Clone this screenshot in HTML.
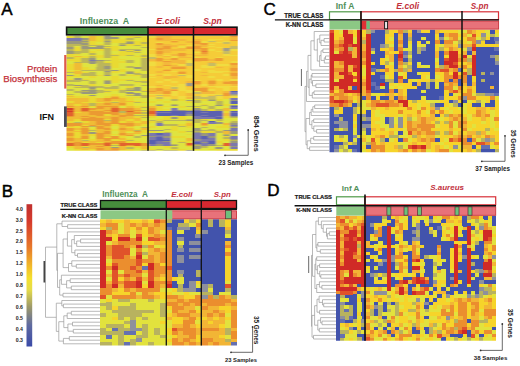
<!DOCTYPE html>
<html><head><meta charset="utf-8"><style>
html,body{margin:0;padding:0;background:#fff;width:520px;height:366px;overflow:hidden}
svg{display:block;font-family:"Liberation Sans",sans-serif}
</style></head><body>
<svg width="520" height="366" viewBox="0 0 520 366">
<defs>
<filter id="bl" x="-2%" y="-2%" width="104%" height="104%"><feGaussianBlur stdDeviation="0.75"/></filter>
<filter id="blA" x="-2%" y="-2%" width="104%" height="104%"><feGaussianBlur stdDeviation="1.1 0.45"/></filter>
<linearGradient id="cb" x1="0" y1="0" x2="0" y2="1">
<stop offset="0" stop-color="#c0302f"/><stop offset="0.12" stop-color="#d63a2c"/><stop offset="0.3" stop-color="#e7772a"/>
<stop offset="0.45" stop-color="#f2c12a"/><stop offset="0.52" stop-color="#f4e02e"/><stop offset="0.6" stop-color="#e5dc4a"/>
<stop offset="0.72" stop-color="#9e9a6a"/><stop offset="0.85" stop-color="#5f6aa0"/><stop offset="1" stop-color="#3a4aa8"/>
</linearGradient>
</defs>
<text x="1.2" y="14.8" font-size="17" fill="#000" stroke="#000" stroke-width="0.45">A</text>
<text x="104.5" y="23.8" font-size="8.9" font-weight="bold" font-style="normal" fill="#50905a" text-anchor="middle" >Influenza&#160; A</text>
<text x="168.2" y="23.9" font-size="8.9" font-weight="bold" font-style="italic" fill="#c2303c" text-anchor="middle" >E.coli</text>
<text x="212.5" y="23.9" font-size="8.6" font-weight="bold" font-style="italic" fill="#c2303c" text-anchor="middle" >S.pn</text>
<clipPath id="cA"><rect x="66.5" y="35.8" width="171.2" height="115"/></clipPath><g clip-path="url(#cA)" filter="url(#blA)" shape-rendering="crispEdges"><path fill="#e9da30" d="M64.0 33.3h10.1v4.0h-10.1zM96.3 33.3h7.6v4.0h-7.6zM126.0 33.3h15.1v4.0h-15.1zM64.0 37.0h10.1v1.5h-10.1zM96.3 37.0h7.6v1.5h-7.6zM126.0 37.0h7.6v1.5h-7.6zM140.9 37.0h7.6v1.5h-7.6zM96.3 38.3h7.6v1.5h-7.6zM111.2 38.3h15.1v1.5h-15.1zM140.9 38.3h7.6v1.5h-7.6zM96.3 39.5h7.6v1.5h-7.6zM111.2 39.5h22.5v1.5h-22.5zM140.9 39.5h7.6v1.5h-7.6zM88.8 40.8h15.1v1.5h-15.1zM111.2 40.8h15.1v1.5h-15.1zM133.5 40.8h15.1v1.5h-15.1zM88.8 42.0h7.6v1.5h-7.6zM111.2 42.0h15.1v1.5h-15.1zM133.5 42.0h7.6v1.5h-7.6zM88.8 43.3h15.1v1.5h-15.1zM126.0 43.3h22.5v1.5h-22.5zM126.0 44.5h7.6v1.5h-7.6zM140.9 44.5h7.6v1.5h-7.6zM111.2 45.8h7.6v1.5h-7.6zM73.9 47.0h7.6v1.5h-7.6zM103.7 47.0h15.1v1.5h-15.1zM73.9 48.3h7.6v1.5h-7.6zM88.8 48.3h15.1v1.5h-15.1zM111.2 48.3h7.6v1.5h-7.6zM73.9 49.5h7.6v1.5h-7.6zM96.3 49.5h7.6v1.5h-7.6zM111.2 49.5h7.6v1.5h-7.6zM126.0 49.5h7.6v1.5h-7.6zM88.8 50.8h7.6v1.5h-7.6zM118.6 50.8h7.6v1.5h-7.6zM133.5 50.8h7.6v1.5h-7.6zM88.8 52.0h7.6v1.5h-7.6zM118.6 52.0h15.1v1.5h-15.1zM64.0 53.3h17.6v1.5h-17.6zM111.2 53.3h22.5v1.5h-22.5zM140.9 53.3h7.6v1.5h-7.6zM64.0 54.5h10.1v1.5h-10.1zM88.8 54.5h15.1v1.5h-15.1zM118.6 54.5h7.6v1.5h-7.6zM64.0 55.8h10.1v1.5h-10.1zM81.4 55.8h7.6v1.5h-7.6zM96.3 55.8h7.6v1.5h-7.6zM111.2 55.8h7.6v1.5h-7.6zM133.5 55.8h7.6v1.5h-7.6zM73.9 57.0h15.1v1.5h-15.1zM96.3 57.0h7.6v1.5h-7.6zM111.2 57.0h7.6v1.5h-7.6zM140.9 57.0h7.6v1.5h-7.6zM64.0 58.3h17.6v1.5h-17.6zM111.2 58.3h15.1v1.5h-15.1zM64.0 59.5h17.6v1.5h-17.6zM111.2 59.5h7.6v1.5h-7.6zM73.9 60.8h7.6v1.5h-7.6zM111.2 60.8h15.1v1.5h-15.1zM103.7 62.0h22.5v1.5h-22.5zM64.0 63.3h10.1v1.5h-10.1zM111.2 63.3h7.6v1.5h-7.6zM64.0 64.5h10.1v1.5h-10.1zM111.2 64.5h7.6v1.5h-7.6zM64.0 65.8h10.1v1.5h-10.1zM111.2 65.8h7.6v1.5h-7.6zM64.0 67.1h10.1v1.5h-10.1zM81.4 67.1h7.6v1.5h-7.6zM111.2 67.1h7.6v1.5h-7.6zM64.0 68.3h10.1v1.5h-10.1zM81.4 68.3h15.1v1.5h-15.1zM118.6 68.3h7.6v1.5h-7.6zM73.9 69.6h7.6v1.5h-7.6zM118.6 69.6h7.6v1.5h-7.6zM64.0 70.8h10.1v1.5h-10.1zM111.2 70.8h15.1v1.5h-15.1zM81.4 72.1h7.6v1.5h-7.6zM111.2 72.1h7.6v1.5h-7.6zM133.5 72.1h7.6v1.5h-7.6zM73.9 73.3h7.6v1.5h-7.6zM73.9 74.6h7.6v1.5h-7.6zM96.3 74.6h7.6v1.5h-7.6zM126.0 74.6h15.1v1.5h-15.1zM64.0 75.8h17.6v1.5h-17.6zM88.8 75.8h7.6v1.5h-7.6zM111.2 75.8h7.6v1.5h-7.6zM88.8 77.1h7.6v1.5h-7.6zM111.2 77.1h7.6v1.5h-7.6zM64.0 78.3h10.1v1.5h-10.1zM81.4 78.3h7.6v1.5h-7.6zM111.2 78.3h22.5v1.5h-22.5zM111.2 79.6h15.1v1.5h-15.1zM140.9 79.6h7.6v1.5h-7.6zM111.2 80.8h7.6v1.5h-7.6zM111.2 82.1h7.6v1.5h-7.6zM133.5 82.1h7.6v1.5h-7.6zM88.8 83.3h7.6v1.5h-7.6zM88.8 84.6h7.6v1.5h-7.6zM103.7 84.6h7.6v1.5h-7.6zM73.9 85.8h7.6v1.5h-7.6zM126.0 85.8h7.6v1.5h-7.6zM126.0 87.1h7.6v1.5h-7.6zM103.7 88.3h22.5v1.5h-22.5zM103.7 89.6h15.1v1.5h-15.1zM140.9 89.6h7.6v1.5h-7.6zM103.7 92.1h7.6v1.5h-7.6zM111.2 93.3h7.6v1.5h-7.6zM126.0 93.3h7.6v1.5h-7.6zM64.0 94.6h10.1v1.5h-10.1zM111.2 94.6h7.6v1.5h-7.6zM73.9 95.8h22.5v1.5h-22.5zM103.7 95.8h7.6v1.5h-7.6zM118.6 95.8h7.6v1.5h-7.6zM64.0 97.1h32.5v1.5h-32.5zM103.7 97.1h7.6v1.5h-7.6zM118.6 97.1h22.5v1.5h-22.5zM88.8 98.3h7.6v1.5h-7.6zM126.0 98.3h7.6v1.5h-7.6zM155.8 98.3h7.6v1.5h-7.6zM178.2 98.3h7.6v1.5h-7.6zM193.0 98.3h15.1v1.5h-15.1zM215.4 98.3h7.6v1.5h-7.6zM88.8 99.6h7.6v1.5h-7.6zM126.0 99.6h7.6v1.5h-7.6zM155.8 99.6h7.6v1.5h-7.6zM178.2 99.6h7.6v1.5h-7.6zM200.5 99.6h7.6v1.5h-7.6zM215.4 99.6h7.6v1.5h-7.6zM64.0 100.8h10.1v1.5h-10.1zM88.8 100.8h7.6v1.5h-7.6zM111.2 100.8h7.6v1.5h-7.6zM133.5 100.8h7.6v1.5h-7.6zM148.4 100.8h7.6v1.5h-7.6zM163.3 100.8h7.6v1.5h-7.6zM185.6 100.8h7.6v1.5h-7.6zM64.0 102.1h10.1v1.5h-10.1zM81.4 102.1h22.5v1.5h-22.5zM126.0 102.1h7.6v1.5h-7.6zM140.9 102.1h7.6v1.5h-7.6zM148.4 102.1h7.6v1.5h-7.6zM163.3 102.1h7.6v1.5h-7.6zM185.6 102.1h7.6v1.5h-7.6zM73.9 103.3h7.6v1.5h-7.6zM126.0 103.3h7.6v1.5h-7.6zM200.5 103.3h7.6v1.5h-7.6zM222.8 103.3h7.6v1.5h-7.6zM73.9 104.6h7.6v1.5h-7.6zM126.0 104.6h7.6v1.5h-7.6zM222.8 104.6h7.6v1.5h-7.6zM88.8 105.8h7.6v1.5h-7.6zM133.5 105.8h15.1v1.5h-15.1zM155.8 105.8h15.1v1.5h-15.1zM178.2 105.8h7.6v1.5h-7.6zM133.5 107.1h7.6v1.5h-7.6zM155.8 107.1h7.6v1.5h-7.6zM178.2 107.1h7.6v1.5h-7.6zM193.0 107.1h7.6v1.5h-7.6zM155.8 108.3h15.1v1.5h-15.1zM185.6 108.3h7.6v1.5h-7.6zM207.9 108.3h7.6v1.5h-7.6zM155.8 109.6h7.6v1.5h-7.6zM207.9 109.6h7.6v1.5h-7.6zM140.9 110.8h7.6v1.5h-7.6zM222.8 110.8h7.6v1.5h-7.6zM73.9 112.1h7.6v1.5h-7.6zM222.8 112.1h7.6v1.5h-7.6zM103.7 113.3h7.6v1.5h-7.6zM140.9 113.3h7.6v1.5h-7.6zM103.7 114.6h7.6v1.5h-7.6zM133.5 115.8h15.1v1.5h-15.1zM148.4 115.8h7.6v1.5h-7.6zM163.3 115.8h7.6v1.5h-7.6zM178.2 115.8h7.6v1.5h-7.6zM222.8 115.8h7.6v1.5h-7.6zM133.5 117.1h7.6v1.5h-7.6zM148.4 117.1h7.6v1.5h-7.6zM163.3 117.1h7.6v1.5h-7.6zM178.2 117.1h7.6v1.5h-7.6zM222.8 117.1h7.6v1.5h-7.6zM73.9 118.3h7.6v1.5h-7.6zM103.7 118.3h7.6v1.5h-7.6zM126.0 118.3h7.6v1.5h-7.6zM155.8 118.3h15.1v1.5h-15.1zM178.2 118.3h7.6v1.5h-7.6zM200.5 118.3h7.6v1.5h-7.6zM73.9 119.6h7.6v1.5h-7.6zM126.0 119.6h7.6v1.5h-7.6zM155.8 119.6h7.6v1.5h-7.6zM64.0 120.8h10.1v1.5h-10.1zM81.4 120.8h7.6v1.5h-7.6zM118.6 120.8h7.6v1.5h-7.6zM133.5 120.8h7.6v1.5h-7.6zM148.4 120.8h7.6v1.5h-7.6zM185.6 120.8h7.6v1.5h-7.6zM64.0 122.1h10.1v1.5h-10.1zM81.4 122.1h7.6v1.5h-7.6zM118.6 122.1h7.6v1.5h-7.6zM133.5 122.1h7.6v1.5h-7.6zM148.4 122.1h7.6v1.5h-7.6zM185.6 122.1h7.6v1.5h-7.6zM111.2 123.3h7.6v1.5h-7.6zM140.9 123.3h7.6v1.5h-7.6zM178.2 123.3h7.6v1.5h-7.6zM81.4 124.6h7.6v1.5h-7.6zM111.2 124.6h7.6v1.5h-7.6zM140.9 124.6h7.6v1.5h-7.6zM178.2 124.6h7.6v1.5h-7.6zM222.8 124.6h7.6v1.5h-7.6zM73.9 125.8h7.6v1.5h-7.6zM148.4 125.8h7.6v1.5h-7.6zM170.7 125.8h7.6v1.5h-7.6zM185.6 125.8h7.6v1.5h-7.6zM215.4 125.8h15.1v1.5h-15.1zM64.0 127.1h17.6v1.5h-17.6zM126.0 127.1h7.6v1.5h-7.6zM148.4 127.1h7.6v1.5h-7.6zM170.7 127.1h7.6v1.5h-7.6zM185.6 127.1h7.6v1.5h-7.6zM215.4 127.1h15.1v1.5h-15.1zM88.8 128.3h7.6v1.5h-7.6zM111.2 128.3h7.6v1.5h-7.6zM133.5 128.3h7.6v1.5h-7.6zM170.7 128.3h7.6v1.5h-7.6zM73.9 129.6h7.6v1.5h-7.6zM111.2 129.6h7.6v1.5h-7.6zM140.9 129.6h7.6v1.5h-7.6zM170.7 129.6h7.6v1.5h-7.6zM215.4 129.6h7.6v1.5h-7.6zM126.0 130.8h7.6v1.5h-7.6zM140.9 130.8h7.6v1.5h-7.6zM148.4 130.8h7.6v1.5h-7.6zM178.2 130.8h7.6v1.5h-7.6zM200.5 130.8h15.1v1.5h-15.1zM73.9 132.1h7.6v1.5h-7.6zM140.9 132.1h7.6v1.5h-7.6zM178.2 132.1h7.6v1.5h-7.6zM200.5 132.1h15.1v1.5h-15.1zM73.9 133.3h7.6v1.5h-7.6zM88.8 133.3h7.6v1.5h-7.6zM111.2 133.3h7.6v1.5h-7.6zM185.6 133.3h7.6v1.5h-7.6zM73.9 134.6h7.6v1.5h-7.6zM88.8 134.6h7.6v1.5h-7.6zM73.9 135.8h7.6v1.5h-7.6zM118.6 135.8h7.6v1.5h-7.6zM140.9 135.8h7.6v1.5h-7.6zM170.7 135.8h15.1v1.5h-15.1zM222.8 135.8h7.6v1.5h-7.6zM73.9 137.1h7.6v1.5h-7.6zM103.7 137.1h7.6v1.5h-7.6zM118.6 137.1h7.6v1.5h-7.6zM170.7 137.1h15.1v1.5h-15.1zM81.4 138.3h15.1v1.5h-15.1zM111.2 138.3h7.6v1.5h-7.6zM126.0 138.3h7.6v1.5h-7.6zM222.8 138.3h7.6v1.5h-7.6zM88.8 139.6h7.6v1.5h-7.6zM111.2 139.6h15.1v1.5h-15.1zM222.8 139.6h7.6v1.5h-7.6zM126.0 140.8h15.1v1.5h-15.1zM178.2 140.8h15.1v1.5h-15.1zM215.4 140.8h7.6v1.5h-7.6zM81.4 142.1h7.6v1.5h-7.6zM96.3 142.1h7.6v1.5h-7.6zM126.0 142.1h15.1v1.5h-15.1zM185.6 142.1h7.6v1.5h-7.6zM215.4 142.1h7.6v1.5h-7.6zM111.2 143.3h7.6v1.5h-7.6zM64.0 145.8h10.1v1.5h-10.1zM81.4 145.8h7.6v1.5h-7.6zM126.0 145.8h15.1v1.5h-15.1zM163.3 145.8h7.6v1.5h-7.6zM185.6 145.8h7.6v1.5h-7.6zM64.0 147.1h10.1v1.5h-10.1zM133.5 147.1h7.6v1.5h-7.6zM163.3 147.1h7.6v1.5h-7.6zM73.9 148.3h7.6v1.5h-7.6zM88.8 148.3h7.6v1.5h-7.6zM126.0 148.3h7.6v1.5h-7.6zM140.9 148.3h7.6v1.5h-7.6zM148.4 148.3h7.6v1.5h-7.6zM170.7 148.3h15.1v1.5h-15.1zM193.0 148.3h7.6v1.5h-7.6zM207.9 148.3h32.5v1.5h-32.5zM73.9 149.6h22.5v4.0h-22.5zM118.6 149.6h15.1v4.0h-15.1zM178.2 149.6h7.6v4.0h-7.6zM215.4 149.6h25.0v4.0h-25.0z"/><path fill="#bcb65a" d="M73.9 33.3h7.6v4.0h-7.6zM73.9 37.0h7.6v1.5h-7.6zM133.5 37.0h7.6v1.5h-7.6zM103.7 38.3h7.6v1.5h-7.6zM126.0 38.3h7.6v1.5h-7.6zM81.4 39.5h7.6v1.5h-7.6zM103.7 39.5h7.6v1.5h-7.6zM126.0 40.8h7.6v1.5h-7.6zM81.4 42.0h7.6v1.5h-7.6zM103.7 42.0h7.6v1.5h-7.6zM140.9 42.0h7.6v1.5h-7.6zM64.0 43.3h17.6v1.5h-17.6zM103.7 43.3h7.6v1.5h-7.6zM118.6 43.3h7.6v1.5h-7.6zM64.0 44.5h39.9v1.5h-39.9zM133.5 44.5h7.6v1.5h-7.6zM64.0 45.8h10.1v1.5h-10.1zM103.7 45.8h7.6v1.5h-7.6zM140.9 47.0h7.6v1.5h-7.6zM64.0 48.3h10.1v1.5h-10.1zM81.4 48.3h7.6v1.5h-7.6zM103.7 48.3h7.6v1.5h-7.6zM118.6 48.3h22.5v1.5h-22.5zM64.0 49.5h10.1v1.5h-10.1zM81.4 49.5h7.6v1.5h-7.6zM103.7 49.5h7.6v1.5h-7.6zM73.9 50.8h15.1v1.5h-15.1zM103.7 50.8h7.6v1.5h-7.6zM126.0 50.8h7.6v1.5h-7.6zM73.9 52.0h15.1v1.5h-15.1zM103.7 52.0h7.6v1.5h-7.6zM133.5 52.0h7.6v1.5h-7.6zM88.8 53.3h7.6v1.5h-7.6zM103.7 53.3h7.6v1.5h-7.6zM103.7 54.5h15.1v1.5h-15.1zM126.0 54.5h7.6v1.5h-7.6zM140.9 54.5h7.6v1.5h-7.6zM88.8 55.8h7.6v1.5h-7.6zM103.7 55.8h7.6v1.5h-7.6zM140.9 55.8h7.6v1.5h-7.6zM64.0 57.0h10.1v1.5h-10.1zM88.8 57.0h7.6v1.5h-7.6zM103.7 57.0h7.6v1.5h-7.6zM81.4 58.3h7.6v1.5h-7.6zM140.9 58.3h7.6v1.5h-7.6zM81.4 59.5h7.6v1.5h-7.6zM103.7 59.5h7.6v1.5h-7.6zM126.0 59.5h7.6v1.5h-7.6zM140.9 59.5h7.6v1.5h-7.6zM81.4 60.8h7.6v1.5h-7.6zM96.3 60.8h7.6v1.5h-7.6zM126.0 60.8h7.6v1.5h-7.6zM140.9 60.8h7.6v1.5h-7.6zM73.9 62.0h15.1v1.5h-15.1zM96.3 62.0h7.6v1.5h-7.6zM126.0 62.0h7.6v1.5h-7.6zM140.9 62.0h7.6v1.5h-7.6zM96.3 63.3h15.1v1.5h-15.1zM140.9 63.3h7.6v1.5h-7.6zM96.3 64.5h15.1v1.5h-15.1zM140.9 64.5h7.6v1.5h-7.6zM96.3 65.8h7.6v1.5h-7.6zM126.0 65.8h7.6v1.5h-7.6zM140.9 65.8h7.6v1.5h-7.6zM96.3 67.1h7.6v1.5h-7.6zM126.0 67.1h7.6v1.5h-7.6zM140.9 67.1h7.6v1.5h-7.6zM96.3 68.3h15.1v1.5h-15.1zM140.9 68.3h7.6v1.5h-7.6zM81.4 69.6h30.0v1.5h-30.0zM140.9 69.6h7.6v1.5h-7.6zM126.0 70.8h7.6v1.5h-7.6zM64.0 72.1h10.1v1.5h-10.1zM88.8 72.1h7.6v1.5h-7.6zM103.7 72.1h7.6v1.5h-7.6zM81.4 73.3h15.1v1.5h-15.1zM103.7 73.3h7.6v1.5h-7.6zM118.6 73.3h7.6v1.5h-7.6zM133.5 73.3h15.1v1.5h-15.1zM81.4 74.6h15.1v1.5h-15.1zM118.6 74.6h7.6v1.5h-7.6zM140.9 74.6h7.6v1.5h-7.6zM140.9 75.8h7.6v1.5h-7.6zM140.9 77.1h7.6v1.5h-7.6zM64.0 79.6h25.0v1.5h-25.0zM103.7 79.6h7.6v1.5h-7.6zM126.0 79.6h7.6v1.5h-7.6zM64.0 80.8h17.6v1.5h-17.6zM88.8 80.8h7.6v1.5h-7.6zM133.5 80.8h15.1v1.5h-15.1zM88.8 82.1h7.6v1.5h-7.6zM140.9 82.1h7.6v1.5h-7.6zM64.0 83.3h10.1v1.5h-10.1zM118.6 83.3h15.1v1.5h-15.1zM64.0 84.6h10.1v1.5h-10.1zM81.4 84.6h7.6v1.5h-7.6zM118.6 84.6h15.1v1.5h-15.1zM140.9 84.6h7.6v1.5h-7.6zM81.4 85.8h22.5v1.5h-22.5zM111.2 85.8h7.6v1.5h-7.6zM73.9 87.1h15.1v1.5h-15.1zM96.3 87.1h22.5v1.5h-22.5zM64.0 88.3h10.1v1.5h-10.1zM88.8 88.3h7.6v1.5h-7.6zM126.0 88.3h7.6v1.5h-7.6zM64.0 89.6h10.1v1.5h-10.1zM96.3 89.6h7.6v1.5h-7.6zM118.6 89.6h7.6v1.5h-7.6zM73.9 90.8h15.1v1.5h-15.1zM96.3 90.8h15.1v1.5h-15.1zM118.6 90.8h7.6v1.5h-7.6zM140.9 90.8h7.6v1.5h-7.6zM73.9 92.1h7.6v1.5h-7.6zM96.3 92.1h7.6v1.5h-7.6zM118.6 92.1h7.6v1.5h-7.6zM64.0 93.3h10.1v1.5h-10.1zM126.0 94.6h7.6v1.5h-7.6zM140.9 94.6h7.6v1.5h-7.6zM140.9 95.8h7.6v1.5h-7.6zM140.9 97.1h7.6v1.5h-7.6zM170.7 98.3h7.6v1.5h-7.6zM207.9 98.3h7.6v1.5h-7.6zM170.7 99.6h7.6v1.5h-7.6zM193.0 99.6h7.6v1.5h-7.6zM193.0 100.8h7.6v1.5h-7.6zM215.4 100.8h7.6v1.5h-7.6zM111.2 102.1h7.6v1.5h-7.6zM133.5 102.1h7.6v1.5h-7.6zM193.0 102.1h7.6v1.5h-7.6zM215.4 102.1h7.6v1.5h-7.6zM88.8 103.3h7.6v1.5h-7.6zM155.8 103.3h7.6v1.5h-7.6zM170.7 103.3h7.6v1.5h-7.6zM215.4 103.3h7.6v1.5h-7.6zM88.8 104.6h7.6v1.5h-7.6zM200.5 104.6h7.6v1.5h-7.6zM185.6 105.8h15.1v1.5h-15.1zM207.9 105.8h7.6v1.5h-7.6zM140.9 107.1h7.6v1.5h-7.6zM207.9 107.1h7.6v1.5h-7.6zM200.5 108.3h7.6v1.5h-7.6zM215.4 108.3h7.6v1.5h-7.6zM140.9 109.6h7.6v1.5h-7.6zM185.6 109.6h7.6v1.5h-7.6zM200.5 109.6h7.6v1.5h-7.6zM215.4 109.6h7.6v1.5h-7.6zM118.6 110.8h7.6v1.5h-7.6zM118.6 112.1h7.6v1.5h-7.6zM140.9 112.1h7.6v1.5h-7.6zM133.5 114.6h15.1v1.5h-15.1zM140.9 117.1h7.6v1.5h-7.6zM230.3 117.1h10.1v1.5h-10.1zM185.6 118.3h15.1v1.5h-15.1zM215.4 118.3h7.6v1.5h-7.6zM103.7 119.6h7.6v1.5h-7.6zM148.4 119.6h7.6v1.5h-7.6zM163.3 119.6h22.5v1.5h-22.5zM193.0 119.6h15.1v1.5h-15.1zM215.4 119.6h7.6v1.5h-7.6zM155.8 120.8h7.6v1.5h-7.6zM193.0 120.8h7.6v1.5h-7.6zM230.3 120.8h10.1v1.5h-10.1zM73.9 122.1h7.6v1.5h-7.6zM155.8 122.1h7.6v1.5h-7.6zM193.0 122.1h7.6v1.5h-7.6zM230.3 122.1h10.1v1.5h-10.1zM163.3 123.3h15.1v1.5h-15.1zM163.3 124.6h15.1v1.5h-15.1zM88.8 125.8h7.6v1.5h-7.6zM178.2 125.8h7.6v1.5h-7.6zM140.9 127.1h7.6v1.5h-7.6zM200.5 127.1h7.6v1.5h-7.6zM230.3 127.1h10.1v1.5h-10.1zM163.3 128.3h7.6v1.5h-7.6zM207.9 128.3h7.6v1.5h-7.6zM88.8 129.6h7.6v1.5h-7.6zM133.5 129.6h7.6v1.5h-7.6zM200.5 129.6h15.1v1.5h-15.1zM185.6 130.8h15.1v1.5h-15.1zM215.4 130.8h7.6v1.5h-7.6zM163.3 132.1h7.6v1.5h-7.6zM215.4 132.1h7.6v1.5h-7.6zM222.8 133.3h7.6v1.5h-7.6zM133.5 135.8h7.6v1.5h-7.6zM133.5 137.1h7.6v1.5h-7.6zM222.8 137.1h7.6v1.5h-7.6zM81.4 139.6h7.6v1.5h-7.6zM126.0 139.6h7.6v1.5h-7.6zM230.3 139.6h10.1v1.5h-10.1zM178.2 142.1h7.6v1.5h-7.6zM170.7 143.3h7.6v1.5h-7.6zM111.2 144.6h7.6v1.5h-7.6zM193.0 144.6h7.6v1.5h-7.6zM215.4 144.6h7.6v1.5h-7.6zM200.5 145.8h7.6v1.5h-7.6zM81.4 147.1h7.6v1.5h-7.6zM126.0 147.1h7.6v1.5h-7.6zM170.7 147.1h7.6v1.5h-7.6zM200.5 147.1h7.6v1.5h-7.6zM155.8 148.3h7.6v1.5h-7.6zM140.9 149.6h7.6v4.0h-7.6zM148.4 149.6h7.6v4.0h-7.6zM163.3 149.6h15.1v4.0h-15.1z"/><path fill="#dfe440" d="M81.4 33.3h7.6v4.0h-7.6zM111.2 33.3h15.1v4.0h-15.1zM140.9 33.3h7.6v4.0h-7.6zM81.4 37.0h7.6v1.5h-7.6zM118.6 37.0h7.6v1.5h-7.6zM133.5 38.3h7.6v1.5h-7.6zM133.5 39.5h7.6v1.5h-7.6zM96.3 42.0h7.6v1.5h-7.6zM111.2 43.3h7.6v1.5h-7.6zM103.7 44.5h15.1v1.5h-15.1zM73.9 45.8h7.6v1.5h-7.6zM88.8 45.8h7.6v1.5h-7.6zM118.6 45.8h30.0v1.5h-30.0zM118.6 47.0h22.5v1.5h-22.5zM140.9 48.3h7.6v1.5h-7.6zM88.8 49.5h7.6v1.5h-7.6zM140.9 49.5h7.6v1.5h-7.6zM96.3 50.8h7.6v1.5h-7.6zM111.2 50.8h7.6v1.5h-7.6zM140.9 50.8h7.6v1.5h-7.6zM96.3 52.0h7.6v1.5h-7.6zM111.2 52.0h7.6v1.5h-7.6zM140.9 52.0h7.6v1.5h-7.6zM81.4 53.3h7.6v1.5h-7.6zM96.3 53.3h7.6v1.5h-7.6zM133.5 53.3h7.6v1.5h-7.6zM73.9 54.5h15.1v1.5h-15.1zM133.5 54.5h7.6v1.5h-7.6zM118.6 55.8h15.1v1.5h-15.1zM118.6 57.0h22.5v1.5h-22.5zM96.3 58.3h15.1v1.5h-15.1zM126.0 58.3h15.1v1.5h-15.1zM118.6 59.5h7.6v1.5h-7.6zM133.5 59.5h7.6v1.5h-7.6zM64.0 60.8h10.1v1.5h-10.1zM103.7 60.8h7.6v1.5h-7.6zM133.5 60.8h7.6v1.5h-7.6zM64.0 62.0h10.1v1.5h-10.1zM133.5 62.0h7.6v1.5h-7.6zM81.4 63.3h15.1v1.5h-15.1zM118.6 63.3h22.5v1.5h-22.5zM81.4 64.5h15.1v1.5h-15.1zM118.6 64.5h22.5v1.5h-22.5zM81.4 65.8h15.1v1.5h-15.1zM118.6 65.8h7.6v1.5h-7.6zM133.5 65.8h7.6v1.5h-7.6zM88.8 67.1h7.6v1.5h-7.6zM118.6 67.1h7.6v1.5h-7.6zM111.2 68.3h7.6v1.5h-7.6zM126.0 68.3h15.1v1.5h-15.1zM64.0 69.6h10.1v1.5h-10.1zM126.0 69.6h15.1v1.5h-15.1zM81.4 70.8h22.5v1.5h-22.5zM133.5 70.8h15.1v1.5h-15.1zM96.3 72.1h7.6v1.5h-7.6zM118.6 72.1h7.6v1.5h-7.6zM140.9 72.1h7.6v1.5h-7.6zM64.0 73.3h10.1v1.5h-10.1zM96.3 73.3h7.6v1.5h-7.6zM111.2 73.3h7.6v1.5h-7.6zM126.0 73.3h7.6v1.5h-7.6zM111.2 74.6h7.6v1.5h-7.6zM81.4 75.8h7.6v1.5h-7.6zM96.3 75.8h15.1v1.5h-15.1zM118.6 75.8h22.5v1.5h-22.5zM64.0 77.1h25.0v1.5h-25.0zM96.3 77.1h15.1v1.5h-15.1zM118.6 77.1h22.5v1.5h-22.5zM88.8 78.3h22.5v1.5h-22.5zM133.5 78.3h15.1v1.5h-15.1zM88.8 79.6h15.1v1.5h-15.1zM133.5 79.6h7.6v1.5h-7.6zM81.4 80.8h7.6v1.5h-7.6zM96.3 80.8h7.6v1.5h-7.6zM118.6 80.8h15.1v1.5h-15.1zM64.0 82.1h25.0v1.5h-25.0zM96.3 82.1h7.6v1.5h-7.6zM118.6 82.1h15.1v1.5h-15.1zM73.9 83.3h15.1v1.5h-15.1zM96.3 83.3h22.5v1.5h-22.5zM133.5 83.3h15.1v1.5h-15.1zM96.3 84.6h7.6v1.5h-7.6zM111.2 84.6h7.6v1.5h-7.6zM133.5 84.6h7.6v1.5h-7.6zM64.0 85.8h10.1v1.5h-10.1zM103.7 85.8h7.6v1.5h-7.6zM118.6 85.8h7.6v1.5h-7.6zM133.5 85.8h15.1v1.5h-15.1zM64.0 87.1h10.1v1.5h-10.1zM118.6 87.1h7.6v1.5h-7.6zM140.9 87.1h7.6v1.5h-7.6zM73.9 88.3h15.1v1.5h-15.1zM96.3 88.3h7.6v1.5h-7.6zM140.9 88.3h7.6v1.5h-7.6zM73.9 89.6h7.6v1.5h-7.6zM64.0 90.8h10.1v1.5h-10.1zM111.2 90.8h7.6v1.5h-7.6zM126.0 90.8h15.1v1.5h-15.1zM64.0 92.1h10.1v1.5h-10.1zM111.2 92.1h7.6v1.5h-7.6zM133.5 92.1h15.1v1.5h-15.1zM73.9 93.3h37.4v1.5h-37.4zM118.6 93.3h7.6v1.5h-7.6zM140.9 93.3h7.6v1.5h-7.6zM73.9 94.6h15.1v1.5h-15.1zM96.3 94.6h15.1v1.5h-15.1zM118.6 94.6h7.6v1.5h-7.6zM96.3 95.8h7.6v1.5h-7.6zM126.0 95.8h15.1v1.5h-15.1zM96.3 97.1h7.6v1.5h-7.6zM133.5 98.3h15.1v1.5h-15.1zM148.4 98.3h7.6v1.5h-7.6zM163.3 98.3h7.6v1.5h-7.6zM185.6 98.3h7.6v1.5h-7.6zM222.8 98.3h7.6v1.5h-7.6zM133.5 99.6h15.1v1.5h-15.1zM148.4 99.6h7.6v1.5h-7.6zM163.3 99.6h7.6v1.5h-7.6zM222.8 99.6h7.6v1.5h-7.6zM140.9 100.8h7.6v1.5h-7.6zM155.8 100.8h7.6v1.5h-7.6zM170.7 100.8h15.1v1.5h-15.1zM200.5 100.8h15.1v1.5h-15.1zM222.8 100.8h7.6v1.5h-7.6zM155.8 102.1h7.6v1.5h-7.6zM170.7 102.1h15.1v1.5h-15.1zM200.5 102.1h15.1v1.5h-15.1zM222.8 102.1h7.6v1.5h-7.6zM133.5 103.3h15.1v1.5h-15.1zM148.4 103.3h7.6v1.5h-7.6zM163.3 103.3h7.6v1.5h-7.6zM178.2 103.3h22.5v1.5h-22.5zM207.9 103.3h7.6v1.5h-7.6zM230.3 103.3h10.1v1.5h-10.1zM133.5 104.6h15.1v1.5h-15.1zM148.4 104.6h7.6v1.5h-7.6zM163.3 104.6h7.6v1.5h-7.6zM178.2 104.6h22.5v1.5h-22.5zM207.9 104.6h7.6v1.5h-7.6zM118.6 105.8h7.6v1.5h-7.6zM170.7 105.8h7.6v1.5h-7.6zM200.5 105.8h7.6v1.5h-7.6zM215.4 105.8h15.1v1.5h-15.1zM88.8 107.1h7.6v1.5h-7.6zM118.6 107.1h7.6v1.5h-7.6zM163.3 107.1h15.1v1.5h-15.1zM185.6 107.1h7.6v1.5h-7.6zM200.5 107.1h7.6v1.5h-7.6zM215.4 107.1h15.1v1.5h-15.1zM140.9 108.3h7.6v1.5h-7.6zM178.2 108.3h7.6v1.5h-7.6zM230.3 108.3h10.1v1.5h-10.1zM163.3 109.6h7.6v1.5h-7.6zM230.3 109.6h10.1v1.5h-10.1zM133.5 113.3h7.6v1.5h-7.6zM155.8 115.8h7.6v1.5h-7.6zM170.7 115.8h7.6v1.5h-7.6zM185.6 115.8h7.6v1.5h-7.6zM155.8 117.1h7.6v1.5h-7.6zM185.6 117.1h7.6v1.5h-7.6zM140.9 118.3h7.6v1.5h-7.6zM148.4 118.3h7.6v1.5h-7.6zM170.7 118.3h7.6v1.5h-7.6zM207.9 118.3h7.6v1.5h-7.6zM222.8 118.3h17.6v1.5h-17.6zM140.9 119.6h7.6v1.5h-7.6zM207.9 119.6h7.6v1.5h-7.6zM222.8 119.6h17.6v1.5h-17.6zM73.9 120.8h7.6v1.5h-7.6zM163.3 120.8h22.5v1.5h-22.5zM200.5 120.8h7.6v1.5h-7.6zM215.4 120.8h15.1v1.5h-15.1zM163.3 122.1h22.5v1.5h-22.5zM200.5 122.1h7.6v1.5h-7.6zM222.8 122.1h7.6v1.5h-7.6zM148.4 123.3h7.6v1.5h-7.6zM193.0 123.3h7.6v1.5h-7.6zM207.9 123.3h15.1v1.5h-15.1zM148.4 124.6h7.6v1.5h-7.6zM193.0 124.6h7.6v1.5h-7.6zM207.9 124.6h15.1v1.5h-15.1zM111.2 125.8h7.6v1.5h-7.6zM133.5 125.8h15.1v1.5h-15.1zM155.8 125.8h15.1v1.5h-15.1zM193.0 125.8h22.5v1.5h-22.5zM88.8 127.1h7.6v1.5h-7.6zM111.2 127.1h7.6v1.5h-7.6zM133.5 127.1h7.6v1.5h-7.6zM155.8 127.1h15.1v1.5h-15.1zM178.2 127.1h7.6v1.5h-7.6zM193.0 127.1h7.6v1.5h-7.6zM207.9 127.1h7.6v1.5h-7.6zM148.4 128.3h15.1v1.5h-15.1zM178.2 128.3h15.1v1.5h-15.1zM200.5 128.3h7.6v1.5h-7.6zM215.4 128.3h15.1v1.5h-15.1zM163.3 129.6h7.6v1.5h-7.6zM178.2 129.6h15.1v1.5h-15.1zM88.8 130.8h7.6v1.5h-7.6zM111.2 130.8h7.6v1.5h-7.6zM155.8 130.8h22.5v1.5h-22.5zM111.2 132.1h7.6v1.5h-7.6zM126.0 132.1h7.6v1.5h-7.6zM148.4 132.1h15.1v1.5h-15.1zM170.7 132.1h7.6v1.5h-7.6zM185.6 132.1h7.6v1.5h-7.6zM133.5 133.3h15.1v1.5h-15.1zM170.7 133.3h15.1v1.5h-15.1zM215.4 133.3h7.6v1.5h-7.6zM230.3 133.3h10.1v1.5h-10.1zM111.2 134.6h7.6v1.5h-7.6zM133.5 134.6h7.6v1.5h-7.6zM170.7 134.6h22.5v1.5h-22.5zM215.4 134.6h7.6v1.5h-7.6zM230.3 134.6h10.1v1.5h-10.1zM88.8 135.8h7.6v1.5h-7.6zM126.0 135.8h7.6v1.5h-7.6zM185.6 135.8h7.6v1.5h-7.6zM215.4 135.8h7.6v1.5h-7.6zM88.8 137.1h7.6v1.5h-7.6zM126.0 137.1h7.6v1.5h-7.6zM140.9 137.1h7.6v1.5h-7.6zM185.6 137.1h7.6v1.5h-7.6zM215.4 137.1h7.6v1.5h-7.6zM133.5 138.3h15.1v1.5h-15.1zM170.7 138.3h15.1v1.5h-15.1zM215.4 138.3h7.6v1.5h-7.6zM133.5 139.6h15.1v1.5h-15.1zM170.7 139.6h15.1v1.5h-15.1zM215.4 139.6h7.6v1.5h-7.6zM140.9 140.8h7.6v1.5h-7.6zM170.7 140.8h7.6v1.5h-7.6zM222.8 140.8h7.6v1.5h-7.6zM140.9 142.1h7.6v1.5h-7.6zM170.7 142.1h7.6v1.5h-7.6zM222.8 142.1h7.6v1.5h-7.6zM178.2 143.3h7.6v1.5h-7.6zM215.4 143.3h7.6v1.5h-7.6zM178.2 144.6h7.6v1.5h-7.6zM111.2 145.8h7.6v1.5h-7.6zM148.4 145.8h15.1v1.5h-15.1zM170.7 145.8h15.1v1.5h-15.1zM207.9 145.8h22.5v1.5h-22.5zM148.4 147.1h15.1v1.5h-15.1zM178.2 147.1h15.1v1.5h-15.1zM207.9 147.1h7.6v1.5h-7.6zM222.8 147.1h7.6v1.5h-7.6zM64.0 148.3h10.1v1.5h-10.1zM133.5 148.3h7.6v1.5h-7.6zM163.3 148.3h7.6v1.5h-7.6zM185.6 148.3h7.6v1.5h-7.6zM200.5 148.3h7.6v1.5h-7.6zM64.0 149.6h10.1v4.0h-10.1zM133.5 149.6h7.6v4.0h-7.6zM155.8 149.6h7.6v4.0h-7.6zM193.0 149.6h22.5v4.0h-22.5z"/><path fill="#f0bc34" d="M88.8 33.3h7.6v4.0h-7.6zM88.8 37.0h7.6v1.5h-7.6zM88.8 38.3h7.6v1.5h-7.6zM88.8 39.5h7.6v1.5h-7.6zM73.9 55.8h7.6v1.5h-7.6zM73.9 63.3h7.6v1.5h-7.6zM73.9 64.5h7.6v1.5h-7.6zM73.9 65.8h7.6v1.5h-7.6zM73.9 67.1h7.6v1.5h-7.6zM73.9 68.3h7.6v1.5h-7.6zM73.9 70.8h7.6v1.5h-7.6zM73.9 72.1h7.6v1.5h-7.6zM64.0 95.8h10.1v1.5h-10.1zM111.2 95.8h7.6v1.5h-7.6zM64.0 98.3h25.0v1.5h-25.0zM96.3 98.3h7.6v1.5h-7.6zM111.2 98.3h15.1v1.5h-15.1zM64.0 99.6h25.0v1.5h-25.0zM96.3 99.6h7.6v1.5h-7.6zM111.2 99.6h15.1v1.5h-15.1zM73.9 100.8h15.1v1.5h-15.1zM96.3 100.8h15.1v1.5h-15.1zM118.6 100.8h15.1v1.5h-15.1zM73.9 102.1h7.6v1.5h-7.6zM103.7 102.1h7.6v1.5h-7.6zM118.6 102.1h7.6v1.5h-7.6zM64.0 103.3h10.1v1.5h-10.1zM81.4 103.3h7.6v1.5h-7.6zM96.3 103.3h7.6v1.5h-7.6zM111.2 103.3h7.6v1.5h-7.6zM64.0 104.6h10.1v1.5h-10.1zM81.4 104.6h7.6v1.5h-7.6zM96.3 104.6h30.0v1.5h-30.0zM73.9 105.8h7.6v1.5h-7.6zM126.0 105.8h7.6v1.5h-7.6zM148.4 105.8h7.6v1.5h-7.6zM64.0 107.1h25.0v1.5h-25.0zM103.7 107.1h7.6v1.5h-7.6zM126.0 107.1h7.6v1.5h-7.6zM148.4 107.1h7.6v1.5h-7.6zM73.9 108.3h7.6v1.5h-7.6zM96.3 108.3h15.1v1.5h-15.1zM133.5 108.3h7.6v1.5h-7.6zM222.8 108.3h7.6v1.5h-7.6zM73.9 109.6h7.6v1.5h-7.6zM88.8 109.6h15.1v1.5h-15.1zM222.8 109.6h7.6v1.5h-7.6zM73.9 110.8h7.6v1.5h-7.6zM103.7 110.8h7.6v1.5h-7.6zM133.5 110.8h7.6v1.5h-7.6zM81.4 112.1h7.6v1.5h-7.6zM73.9 113.3h15.1v1.5h-15.1zM118.6 113.3h7.6v1.5h-7.6zM222.8 113.3h7.6v1.5h-7.6zM73.9 114.6h22.5v1.5h-22.5zM111.2 114.6h7.6v1.5h-7.6zM222.8 114.6h7.6v1.5h-7.6zM73.9 115.8h7.6v1.5h-7.6zM88.8 115.8h30.0v1.5h-30.0zM126.0 115.8h7.6v1.5h-7.6zM64.0 117.1h25.0v1.5h-25.0zM96.3 117.1h15.1v1.5h-15.1zM118.6 117.1h15.1v1.5h-15.1zM64.0 118.3h10.1v1.5h-10.1zM118.6 118.3h7.6v1.5h-7.6zM133.5 118.3h7.6v1.5h-7.6zM64.0 119.6h10.1v1.5h-10.1zM118.6 119.6h7.6v1.5h-7.6zM133.5 119.6h7.6v1.5h-7.6zM88.8 120.8h7.6v1.5h-7.6zM103.7 120.8h7.6v1.5h-7.6zM126.0 120.8h7.6v1.5h-7.6zM140.9 120.8h7.6v1.5h-7.6zM88.8 122.1h7.6v1.5h-7.6zM103.7 122.1h7.6v1.5h-7.6zM126.0 122.1h7.6v1.5h-7.6zM140.9 122.1h7.6v1.5h-7.6zM81.4 123.3h15.1v1.5h-15.1zM133.5 123.3h7.6v1.5h-7.6zM185.6 123.3h7.6v1.5h-7.6zM222.8 123.3h7.6v1.5h-7.6zM96.3 124.6h7.6v1.5h-7.6zM118.6 124.6h7.6v1.5h-7.6zM133.5 124.6h7.6v1.5h-7.6zM185.6 124.6h7.6v1.5h-7.6zM200.5 124.6h7.6v1.5h-7.6zM64.0 125.8h10.1v1.5h-10.1zM103.7 125.8h7.6v1.5h-7.6zM118.6 125.8h15.1v1.5h-15.1zM81.4 127.1h7.6v1.5h-7.6zM103.7 127.1h7.6v1.5h-7.6zM118.6 127.1h7.6v1.5h-7.6zM73.9 128.3h7.6v1.5h-7.6zM96.3 128.3h7.6v1.5h-7.6zM126.0 128.3h7.6v1.5h-7.6zM140.9 128.3h7.6v1.5h-7.6zM96.3 129.6h15.1v1.5h-15.1zM118.6 129.6h15.1v1.5h-15.1zM64.0 130.8h17.6v1.5h-17.6zM96.3 130.8h7.6v1.5h-7.6zM118.6 130.8h7.6v1.5h-7.6zM222.8 130.8h7.6v1.5h-7.6zM64.0 132.1h10.1v1.5h-10.1zM96.3 132.1h7.6v1.5h-7.6zM118.6 132.1h7.6v1.5h-7.6zM133.5 132.1h7.6v1.5h-7.6zM222.8 132.1h7.6v1.5h-7.6zM81.4 133.3h7.6v1.5h-7.6zM103.7 133.3h7.6v1.5h-7.6zM126.0 133.3h7.6v1.5h-7.6zM81.4 134.6h7.6v1.5h-7.6zM103.7 134.6h7.6v1.5h-7.6zM118.6 134.6h7.6v1.5h-7.6zM64.0 135.8h10.1v1.5h-10.1zM103.7 135.8h7.6v1.5h-7.6zM64.0 137.1h10.1v1.5h-10.1zM73.9 138.3h7.6v1.5h-7.6zM96.3 138.3h7.6v1.5h-7.6zM118.6 138.3h7.6v1.5h-7.6zM185.6 138.3h7.6v1.5h-7.6zM73.9 139.6h7.6v1.5h-7.6zM96.3 139.6h7.6v1.5h-7.6zM185.6 139.6h7.6v1.5h-7.6zM64.0 140.8h47.4v1.5h-47.4zM64.0 142.1h10.1v1.5h-10.1zM88.8 142.1h7.6v1.5h-7.6zM88.8 144.6h15.1v1.5h-15.1zM73.9 145.8h7.6v1.5h-7.6zM88.8 145.8h7.6v1.5h-7.6zM103.7 145.8h7.6v1.5h-7.6zM118.6 145.8h7.6v1.5h-7.6zM140.9 145.8h7.6v1.5h-7.6zM73.9 147.1h7.6v1.5h-7.6zM88.8 147.1h22.5v1.5h-22.5zM118.6 147.1h7.6v1.5h-7.6zM140.9 147.1h7.6v1.5h-7.6zM81.4 148.3h7.6v1.5h-7.6zM103.7 148.3h7.6v1.5h-7.6zM118.6 148.3h7.6v1.5h-7.6z"/><path fill="#9a987c" d="M103.7 33.3h7.6v4.0h-7.6zM103.7 37.0h15.1v1.5h-15.1zM81.4 38.3h7.6v1.5h-7.6zM64.0 40.8h25.0v1.5h-25.0zM103.7 40.8h7.6v1.5h-7.6zM64.0 42.0h17.6v1.5h-17.6zM126.0 42.0h7.6v1.5h-7.6zM81.4 43.3h7.6v1.5h-7.6zM118.6 44.5h7.6v1.5h-7.6zM81.4 45.8h7.6v1.5h-7.6zM96.3 45.8h7.6v1.5h-7.6zM64.0 47.0h10.1v1.5h-10.1zM81.4 47.0h22.5v1.5h-22.5zM118.6 49.5h7.6v1.5h-7.6zM133.5 49.5h7.6v1.5h-7.6zM64.0 50.8h10.1v1.5h-10.1zM64.0 52.0h10.1v1.5h-10.1zM88.8 58.3h7.6v1.5h-7.6zM96.3 59.5h7.6v1.5h-7.6zM88.8 60.8h7.6v1.5h-7.6zM88.8 62.0h7.6v1.5h-7.6zM103.7 65.8h7.6v1.5h-7.6zM103.7 67.1h7.6v1.5h-7.6zM133.5 67.1h7.6v1.5h-7.6zM111.2 69.6h7.6v1.5h-7.6zM103.7 70.8h7.6v1.5h-7.6zM126.0 72.1h7.6v1.5h-7.6zM64.0 74.6h10.1v1.5h-10.1zM103.7 74.6h7.6v1.5h-7.6zM73.9 78.3h7.6v1.5h-7.6zM103.7 80.8h7.6v1.5h-7.6zM103.7 82.1h7.6v1.5h-7.6zM73.9 84.6h7.6v1.5h-7.6zM88.8 87.1h7.6v1.5h-7.6zM133.5 87.1h7.6v1.5h-7.6zM133.5 88.3h7.6v1.5h-7.6zM81.4 89.6h15.1v1.5h-15.1zM126.0 89.6h15.1v1.5h-15.1zM88.8 90.8h7.6v1.5h-7.6zM81.4 92.1h15.1v1.5h-15.1zM126.0 92.1h7.6v1.5h-7.6zM133.5 93.3h7.6v1.5h-7.6zM88.8 94.6h7.6v1.5h-7.6zM133.5 94.6h7.6v1.5h-7.6zM185.6 99.6h7.6v1.5h-7.6zM207.9 99.6h7.6v1.5h-7.6zM230.3 99.6h10.1v1.5h-10.1zM155.8 104.6h7.6v1.5h-7.6zM170.7 104.6h7.6v1.5h-7.6zM215.4 104.6h7.6v1.5h-7.6zM230.3 104.6h10.1v1.5h-10.1zM193.0 108.3h7.6v1.5h-7.6zM178.2 109.6h7.6v1.5h-7.6zM185.6 113.3h7.6v1.5h-7.6zM185.6 114.6h7.6v1.5h-7.6zM230.3 115.8h10.1v1.5h-10.1zM170.7 117.1h7.6v1.5h-7.6zM185.6 119.6h7.6v1.5h-7.6zM215.4 122.1h7.6v1.5h-7.6zM230.3 123.3h10.1v1.5h-10.1zM230.3 125.8h10.1v1.5h-10.1zM193.0 128.3h7.6v1.5h-7.6zM148.4 129.6h15.1v1.5h-15.1zM193.0 129.6h7.6v1.5h-7.6zM222.8 129.6h7.6v1.5h-7.6zM230.3 130.8h10.1v1.5h-10.1zM88.8 132.1h7.6v1.5h-7.6zM193.0 132.1h7.6v1.5h-7.6zM230.3 132.1h10.1v1.5h-10.1zM200.5 133.3h7.6v1.5h-7.6zM140.9 134.6h7.6v1.5h-7.6zM200.5 134.6h7.6v1.5h-7.6zM222.8 134.6h7.6v1.5h-7.6zM148.4 135.8h7.6v1.5h-7.6zM163.3 135.8h7.6v1.5h-7.6zM207.9 135.8h7.6v1.5h-7.6zM163.3 137.1h7.6v1.5h-7.6zM207.9 137.1h7.6v1.5h-7.6zM193.0 138.3h7.6v1.5h-7.6zM230.3 138.3h10.1v1.5h-10.1zM193.0 139.6h7.6v1.5h-7.6zM163.3 140.8h7.6v1.5h-7.6zM230.3 140.8h10.1v1.5h-10.1zM200.5 142.1h7.6v1.5h-7.6zM230.3 142.1h10.1v1.5h-10.1zM155.8 143.3h7.6v1.5h-7.6zM193.0 143.3h7.6v1.5h-7.6zM207.9 143.3h7.6v1.5h-7.6zM155.8 144.6h7.6v1.5h-7.6zM170.7 144.6h7.6v1.5h-7.6zM207.9 144.6h7.6v1.5h-7.6zM193.0 145.8h7.6v1.5h-7.6zM230.3 145.8h10.1v1.5h-10.1zM111.2 147.1h7.6v1.5h-7.6zM193.0 147.1h7.6v1.5h-7.6zM215.4 147.1h7.6v1.5h-7.6zM185.6 149.6h7.6v4.0h-7.6z"/><path fill="#f0dc40" d="M148.4 33.3h7.6v4.0h-7.6zM222.8 33.3h7.6v4.0h-7.6zM148.4 37.0h7.6v1.5h-7.6zM207.9 38.3h15.1v1.5h-15.1zM207.9 39.5h7.6v1.5h-7.6zM200.5 40.8h7.6v1.5h-7.6zM222.8 40.8h7.6v1.5h-7.6zM155.8 42.0h7.6v1.5h-7.6zM200.5 42.0h7.6v1.5h-7.6zM215.4 42.0h7.6v1.5h-7.6zM207.9 43.3h7.6v1.5h-7.6zM185.6 44.5h7.6v1.5h-7.6zM178.2 45.8h7.6v1.5h-7.6zM207.9 45.8h7.6v1.5h-7.6zM178.2 47.0h7.6v1.5h-7.6zM215.4 47.0h7.6v1.5h-7.6zM148.4 48.3h7.6v1.5h-7.6zM207.9 48.3h7.6v1.5h-7.6zM230.3 48.3h10.1v1.5h-10.1zM207.9 49.5h7.6v1.5h-7.6zM230.3 49.5h10.1v1.5h-10.1zM215.4 50.8h7.6v1.5h-7.6zM193.0 52.0h7.6v1.5h-7.6zM148.4 53.3h7.6v1.5h-7.6zM222.8 53.3h7.6v1.5h-7.6zM148.4 54.5h7.6v1.5h-7.6zM163.3 54.5h7.6v1.5h-7.6zM222.8 54.5h17.6v1.5h-17.6zM148.4 55.8h7.6v1.5h-7.6zM170.7 55.8h7.6v1.5h-7.6zM170.7 57.0h7.6v1.5h-7.6zM193.0 57.0h7.6v1.5h-7.6zM215.4 57.0h7.6v1.5h-7.6zM185.6 59.5h7.6v1.5h-7.6zM185.6 60.8h7.6v1.5h-7.6zM230.3 60.8h10.1v1.5h-10.1zM148.4 62.0h7.6v1.5h-7.6zM185.6 62.0h7.6v1.5h-7.6zM230.3 62.0h10.1v1.5h-10.1zM148.4 63.3h7.6v1.5h-7.6zM178.2 63.3h7.6v1.5h-7.6zM215.4 63.3h15.1v1.5h-15.1zM148.4 64.5h7.6v1.5h-7.6zM178.2 64.5h7.6v1.5h-7.6zM200.5 64.5h7.6v1.5h-7.6zM215.4 64.5h15.1v1.5h-15.1zM200.5 65.8h15.1v1.5h-15.1zM200.5 67.1h15.1v1.5h-15.1zM193.0 68.3h7.6v1.5h-7.6zM193.0 69.6h7.6v1.5h-7.6zM207.9 69.6h7.6v1.5h-7.6zM170.7 70.8h7.6v1.5h-7.6zM207.9 70.8h22.5v1.5h-22.5zM207.9 72.1h15.1v1.5h-15.1zM148.4 73.3h7.6v1.5h-7.6zM163.3 73.3h7.6v1.5h-7.6zM178.2 73.3h7.6v1.5h-7.6zM222.8 73.3h7.6v1.5h-7.6zM148.4 74.6h7.6v1.5h-7.6zM163.3 74.6h7.6v1.5h-7.6zM185.6 74.6h7.6v1.5h-7.6zM222.8 74.6h7.6v1.5h-7.6zM185.6 75.8h7.6v1.5h-7.6zM207.9 75.8h7.6v1.5h-7.6zM148.4 77.1h7.6v1.5h-7.6zM185.6 77.1h7.6v1.5h-7.6zM207.9 77.1h7.6v1.5h-7.6zM163.3 78.3h7.6v1.5h-7.6zM215.4 78.3h7.6v1.5h-7.6zM230.3 78.3h10.1v1.5h-10.1zM163.3 79.6h7.6v1.5h-7.6zM193.0 79.6h7.6v1.5h-7.6zM215.4 79.6h7.6v1.5h-7.6zM230.3 79.6h10.1v1.5h-10.1zM155.8 80.8h7.6v1.5h-7.6zM170.7 80.8h7.6v1.5h-7.6zM155.8 82.1h7.6v1.5h-7.6zM170.7 82.1h7.6v1.5h-7.6zM178.2 83.3h7.6v1.5h-7.6zM200.5 83.3h7.6v1.5h-7.6zM163.3 84.6h7.6v1.5h-7.6zM178.2 84.6h7.6v1.5h-7.6zM200.5 84.6h7.6v1.5h-7.6zM148.4 85.8h7.6v1.5h-7.6zM170.7 85.8h15.1v1.5h-15.1zM207.9 85.8h32.5v1.5h-32.5zM148.4 87.1h7.6v1.5h-7.6zM178.2 87.1h7.6v1.5h-7.6zM215.4 87.1h15.1v1.5h-15.1zM178.2 88.3h7.6v1.5h-7.6zM207.9 88.3h7.6v1.5h-7.6zM222.8 88.3h7.6v1.5h-7.6zM178.2 89.6h15.1v1.5h-15.1zM207.9 89.6h7.6v1.5h-7.6zM222.8 89.6h7.6v1.5h-7.6zM170.7 90.8h7.6v1.5h-7.6zM185.6 90.8h15.1v1.5h-15.1zM170.7 92.1h7.6v1.5h-7.6zM185.6 92.1h7.6v1.5h-7.6zM148.4 93.3h15.1v1.5h-15.1zM170.7 93.3h7.6v1.5h-7.6zM200.5 93.3h22.5v1.5h-22.5zM170.7 94.6h7.6v1.5h-7.6zM200.5 94.6h7.6v1.5h-7.6zM155.8 95.8h7.6v1.5h-7.6zM178.2 95.8h7.6v1.5h-7.6zM200.5 95.8h7.6v1.5h-7.6zM215.4 95.8h7.6v1.5h-7.6zM230.3 95.8h10.1v1.5h-10.1zM148.4 97.1h7.6v1.5h-7.6zM163.3 97.1h7.6v1.5h-7.6zM178.2 97.1h7.6v1.5h-7.6zM215.4 97.1h7.6v1.5h-7.6zM230.3 97.1h10.1v1.5h-10.1z"/><path fill="#f3b83a" d="M155.8 33.3h15.1v4.0h-15.1zM155.8 37.0h15.1v1.5h-15.1zM230.3 37.0h10.1v1.5h-10.1zM163.3 38.3h22.5v1.5h-22.5zM193.0 38.3h7.6v1.5h-7.6zM230.3 38.3h10.1v1.5h-10.1zM155.8 39.5h15.1v1.5h-15.1zM178.2 39.5h7.6v1.5h-7.6zM193.0 39.5h7.6v1.5h-7.6zM185.6 40.8h7.6v1.5h-7.6zM170.7 42.0h7.6v1.5h-7.6zM185.6 42.0h7.6v1.5h-7.6zM163.3 43.3h7.6v1.5h-7.6zM178.2 43.3h7.6v1.5h-7.6zM193.0 43.3h7.6v1.5h-7.6zM155.8 44.5h22.5v1.5h-22.5zM193.0 44.5h15.1v1.5h-15.1zM155.8 45.8h7.6v1.5h-7.6zM170.7 45.8h7.6v1.5h-7.6zM185.6 45.8h7.6v1.5h-7.6zM200.5 45.8h7.6v1.5h-7.6zM155.8 47.0h7.6v1.5h-7.6zM163.3 48.3h22.5v1.5h-22.5zM193.0 48.3h7.6v1.5h-7.6zM155.8 49.5h30.0v1.5h-30.0zM193.0 49.5h7.6v1.5h-7.6zM163.3 50.8h7.6v1.5h-7.6zM163.3 52.0h7.6v1.5h-7.6zM155.8 53.3h7.6v1.5h-7.6zM170.7 53.3h7.6v1.5h-7.6zM185.6 53.3h7.6v1.5h-7.6zM200.5 53.3h7.6v1.5h-7.6zM155.8 54.5h7.6v1.5h-7.6zM170.7 54.5h7.6v1.5h-7.6zM193.0 54.5h15.1v1.5h-15.1zM163.3 55.8h7.6v1.5h-7.6zM178.2 55.8h7.6v1.5h-7.6zM178.2 57.0h15.1v1.5h-15.1zM148.4 58.3h7.6v1.5h-7.6zM163.3 58.3h7.6v1.5h-7.6zM207.9 58.3h7.6v1.5h-7.6zM148.4 59.5h7.6v1.5h-7.6zM170.7 59.5h15.1v1.5h-15.1zM207.9 59.5h7.6v1.5h-7.6zM155.8 60.8h7.6v1.5h-7.6zM170.7 60.8h15.1v1.5h-15.1zM193.0 60.8h7.6v1.5h-7.6zM163.3 62.0h22.5v1.5h-22.5zM207.9 62.0h7.6v1.5h-7.6zM163.3 63.3h7.6v1.5h-7.6zM170.7 64.5h7.6v1.5h-7.6zM230.3 64.5h10.1v1.5h-10.1zM155.8 65.8h7.6v1.5h-7.6zM170.7 65.8h15.1v1.5h-15.1zM230.3 65.8h10.1v1.5h-10.1zM155.8 67.1h7.6v1.5h-7.6zM215.4 67.1h7.6v1.5h-7.6zM230.3 67.1h10.1v1.5h-10.1zM163.3 68.3h7.6v1.5h-7.6zM155.8 70.8h7.6v1.5h-7.6zM178.2 70.8h7.6v1.5h-7.6zM230.3 70.8h10.1v1.5h-10.1zM155.8 72.1h7.6v1.5h-7.6zM200.5 72.1h7.6v1.5h-7.6zM230.3 72.1h10.1v1.5h-10.1zM155.8 74.6h7.6v1.5h-7.6zM200.5 74.6h7.6v1.5h-7.6zM163.3 75.8h15.1v1.5h-15.1zM230.3 75.8h10.1v1.5h-10.1zM163.3 77.1h15.1v1.5h-15.1zM230.3 77.1h10.1v1.5h-10.1zM207.9 79.6h7.6v1.5h-7.6zM185.6 80.8h7.6v1.5h-7.6zM222.8 80.8h7.6v1.5h-7.6zM185.6 82.1h7.6v1.5h-7.6zM193.0 83.3h7.6v1.5h-7.6zM207.9 83.3h7.6v1.5h-7.6zM230.3 83.3h10.1v1.5h-10.1zM155.8 84.6h7.6v1.5h-7.6zM207.9 84.6h7.6v1.5h-7.6zM230.3 84.6h10.1v1.5h-10.1zM185.6 85.8h7.6v1.5h-7.6zM200.5 87.1h7.6v1.5h-7.6zM148.4 88.3h7.6v1.5h-7.6zM163.3 88.3h15.1v1.5h-15.1zM148.4 89.6h7.6v1.5h-7.6zM163.3 89.6h7.6v1.5h-7.6zM155.8 90.8h7.6v1.5h-7.6zM207.9 90.8h7.6v1.5h-7.6zM222.8 90.8h7.6v1.5h-7.6zM148.4 92.1h15.1v1.5h-15.1zM200.5 92.1h15.1v1.5h-15.1zM222.8 92.1h7.6v1.5h-7.6zM185.6 93.3h7.6v1.5h-7.6zM163.3 94.6h7.6v1.5h-7.6zM185.6 94.6h7.6v1.5h-7.6zM185.6 97.1h7.6v1.5h-7.6z"/><path fill="#f5cc38" d="M170.7 33.3h52.3v4.0h-52.3zM170.7 37.0h59.7v1.5h-59.7zM148.4 38.3h7.6v1.5h-7.6zM185.6 38.3h7.6v1.5h-7.6zM200.5 38.3h7.6v1.5h-7.6zM222.8 38.3h7.6v1.5h-7.6zM148.4 39.5h7.6v1.5h-7.6zM170.7 39.5h7.6v1.5h-7.6zM185.6 39.5h7.6v1.5h-7.6zM200.5 39.5h7.6v1.5h-7.6zM215.4 39.5h15.1v1.5h-15.1zM148.4 40.8h22.5v1.5h-22.5zM178.2 40.8h7.6v1.5h-7.6zM215.4 40.8h7.6v1.5h-7.6zM230.3 40.8h10.1v1.5h-10.1zM148.4 42.0h7.6v1.5h-7.6zM163.3 42.0h7.6v1.5h-7.6zM178.2 42.0h7.6v1.5h-7.6zM207.9 42.0h7.6v1.5h-7.6zM230.3 42.0h10.1v1.5h-10.1zM148.4 43.3h7.6v1.5h-7.6zM170.7 43.3h7.6v1.5h-7.6zM185.6 43.3h7.6v1.5h-7.6zM215.4 43.3h25.0v1.5h-25.0zM148.4 44.5h7.6v1.5h-7.6zM178.2 44.5h7.6v1.5h-7.6zM207.9 44.5h32.5v1.5h-32.5zM148.4 45.8h7.6v1.5h-7.6zM215.4 45.8h15.1v1.5h-15.1zM148.4 47.0h7.6v1.5h-7.6zM170.7 47.0h7.6v1.5h-7.6zM200.5 47.0h15.1v1.5h-15.1zM222.8 47.0h7.6v1.5h-7.6zM185.6 48.3h7.6v1.5h-7.6zM215.4 48.3h7.6v1.5h-7.6zM148.4 49.5h7.6v1.5h-7.6zM185.6 49.5h7.6v1.5h-7.6zM215.4 49.5h7.6v1.5h-7.6zM148.4 50.8h7.6v1.5h-7.6zM170.7 50.8h30.0v1.5h-30.0zM207.9 50.8h7.6v1.5h-7.6zM230.3 50.8h10.1v1.5h-10.1zM148.4 52.0h7.6v1.5h-7.6zM170.7 52.0h22.5v1.5h-22.5zM207.9 52.0h15.1v1.5h-15.1zM230.3 52.0h10.1v1.5h-10.1zM163.3 53.3h7.6v1.5h-7.6zM193.0 53.3h7.6v1.5h-7.6zM207.9 53.3h15.1v1.5h-15.1zM230.3 53.3h10.1v1.5h-10.1zM185.6 54.5h7.6v1.5h-7.6zM207.9 54.5h15.1v1.5h-15.1zM155.8 55.8h7.6v1.5h-7.6zM185.6 55.8h54.8v1.5h-54.8zM155.8 57.0h15.1v1.5h-15.1zM200.5 57.0h15.1v1.5h-15.1zM222.8 57.0h17.6v1.5h-17.6zM178.2 58.3h15.1v1.5h-15.1zM222.8 58.3h17.6v1.5h-17.6zM163.3 59.5h7.6v1.5h-7.6zM222.8 59.5h17.6v1.5h-17.6zM148.4 60.8h7.6v1.5h-7.6zM200.5 60.8h30.0v1.5h-30.0zM155.8 62.0h7.6v1.5h-7.6zM193.0 62.0h15.1v1.5h-15.1zM215.4 62.0h15.1v1.5h-15.1zM155.8 63.3h7.6v1.5h-7.6zM170.7 63.3h7.6v1.5h-7.6zM193.0 63.3h15.1v1.5h-15.1zM155.8 64.5h7.6v1.5h-7.6zM193.0 64.5h7.6v1.5h-7.6zM148.4 65.8h7.6v1.5h-7.6zM163.3 65.8h7.6v1.5h-7.6zM185.6 65.8h15.1v1.5h-15.1zM215.4 65.8h15.1v1.5h-15.1zM148.4 67.1h7.6v1.5h-7.6zM163.3 67.1h7.6v1.5h-7.6zM185.6 67.1h15.1v1.5h-15.1zM222.8 67.1h7.6v1.5h-7.6zM148.4 68.3h15.1v1.5h-15.1zM170.7 68.3h22.5v1.5h-22.5zM200.5 68.3h30.0v1.5h-30.0zM148.4 69.6h15.1v1.5h-15.1zM170.7 69.6h22.5v1.5h-22.5zM200.5 69.6h7.6v1.5h-7.6zM215.4 69.6h15.1v1.5h-15.1zM148.4 70.8h7.6v1.5h-7.6zM163.3 70.8h7.6v1.5h-7.6zM185.6 70.8h22.5v1.5h-22.5zM148.4 72.1h7.6v1.5h-7.6zM163.3 72.1h15.1v1.5h-15.1zM185.6 72.1h15.1v1.5h-15.1zM222.8 72.1h7.6v1.5h-7.6zM155.8 73.3h7.6v1.5h-7.6zM170.7 73.3h7.6v1.5h-7.6zM185.6 73.3h37.4v1.5h-37.4zM170.7 74.6h7.6v1.5h-7.6zM193.0 74.6h7.6v1.5h-7.6zM207.9 74.6h15.1v1.5h-15.1zM148.4 75.8h15.1v1.5h-15.1zM178.2 75.8h7.6v1.5h-7.6zM193.0 75.8h15.1v1.5h-15.1zM215.4 75.8h15.1v1.5h-15.1zM155.8 77.1h7.6v1.5h-7.6zM178.2 77.1h7.6v1.5h-7.6zM193.0 77.1h15.1v1.5h-15.1zM215.4 77.1h15.1v1.5h-15.1zM148.4 78.3h15.1v1.5h-15.1zM170.7 78.3h44.9v1.5h-44.9zM222.8 78.3h7.6v1.5h-7.6zM148.4 79.6h15.1v1.5h-15.1zM170.7 79.6h22.5v1.5h-22.5zM200.5 79.6h7.6v1.5h-7.6zM222.8 79.6h7.6v1.5h-7.6zM148.4 80.8h7.6v1.5h-7.6zM163.3 80.8h7.6v1.5h-7.6zM178.2 80.8h7.6v1.5h-7.6zM200.5 80.8h7.6v1.5h-7.6zM215.4 80.8h7.6v1.5h-7.6zM148.4 82.1h7.6v1.5h-7.6zM163.3 82.1h7.6v1.5h-7.6zM178.2 82.1h7.6v1.5h-7.6zM200.5 82.1h7.6v1.5h-7.6zM215.4 82.1h7.6v1.5h-7.6zM148.4 83.3h30.0v1.5h-30.0zM215.4 83.3h15.1v1.5h-15.1zM148.4 84.6h7.6v1.5h-7.6zM170.7 84.6h7.6v1.5h-7.6zM193.0 84.6h7.6v1.5h-7.6zM215.4 84.6h15.1v1.5h-15.1zM155.8 85.8h15.1v1.5h-15.1zM193.0 85.8h15.1v1.5h-15.1zM155.8 87.1h15.1v1.5h-15.1zM185.6 87.1h15.1v1.5h-15.1zM207.9 87.1h7.6v1.5h-7.6zM230.3 87.1h10.1v1.5h-10.1zM185.6 88.3h7.6v1.5h-7.6zM215.4 88.3h7.6v1.5h-7.6zM230.3 88.3h10.1v1.5h-10.1zM215.4 89.6h7.6v1.5h-7.6zM230.3 89.6h10.1v1.5h-10.1zM178.2 90.8h7.6v1.5h-7.6zM215.4 90.8h7.6v1.5h-7.6zM178.2 92.1h7.6v1.5h-7.6zM215.4 92.1h7.6v1.5h-7.6zM163.3 93.3h7.6v1.5h-7.6zM178.2 93.3h7.6v1.5h-7.6zM193.0 93.3h7.6v1.5h-7.6zM148.4 94.6h7.6v1.5h-7.6zM178.2 94.6h7.6v1.5h-7.6zM193.0 94.6h7.6v1.5h-7.6zM207.9 94.6h7.6v1.5h-7.6zM148.4 95.8h7.6v1.5h-7.6zM163.3 95.8h15.1v1.5h-15.1zM185.6 95.8h7.6v1.5h-7.6zM222.8 95.8h7.6v1.5h-7.6zM170.7 97.1h7.6v1.5h-7.6zM222.8 97.1h7.6v1.5h-7.6z"/><path fill="#ee9c36" d="M230.3 33.3h10.1v4.0h-10.1zM155.8 38.3h7.6v1.5h-7.6zM230.3 39.5h10.1v1.5h-10.1zM170.7 40.8h7.6v1.5h-7.6zM193.0 40.8h7.6v1.5h-7.6zM193.0 42.0h7.6v1.5h-7.6zM155.8 43.3h7.6v1.5h-7.6zM200.5 43.3h7.6v1.5h-7.6zM163.3 45.8h7.6v1.5h-7.6zM193.0 45.8h7.6v1.5h-7.6zM163.3 47.0h7.6v1.5h-7.6zM185.6 47.0h15.1v1.5h-15.1zM155.8 48.3h7.6v1.5h-7.6zM200.5 48.3h7.6v1.5h-7.6zM200.5 49.5h7.6v1.5h-7.6zM155.8 50.8h7.6v1.5h-7.6zM155.8 52.0h7.6v1.5h-7.6zM200.5 52.0h7.6v1.5h-7.6zM178.2 53.3h7.6v1.5h-7.6zM178.2 54.5h7.6v1.5h-7.6zM155.8 58.3h7.6v1.5h-7.6zM170.7 58.3h7.6v1.5h-7.6zM193.0 58.3h15.1v1.5h-15.1zM215.4 58.3h7.6v1.5h-7.6zM155.8 59.5h7.6v1.5h-7.6zM193.0 59.5h15.1v1.5h-15.1zM215.4 59.5h7.6v1.5h-7.6zM163.3 60.8h7.6v1.5h-7.6zM230.3 63.3h10.1v1.5h-10.1zM163.3 64.5h7.6v1.5h-7.6zM170.7 67.1h15.1v1.5h-15.1zM230.3 68.3h10.1v1.5h-10.1zM163.3 69.6h7.6v1.5h-7.6zM230.3 69.6h10.1v1.5h-10.1zM178.2 72.1h7.6v1.5h-7.6zM230.3 73.3h10.1v1.5h-10.1zM230.3 74.6h10.1v1.5h-10.1zM193.0 80.8h7.6v1.5h-7.6zM207.9 80.8h7.6v1.5h-7.6zM230.3 80.8h10.1v1.5h-10.1zM193.0 82.1h7.6v1.5h-7.6zM207.9 82.1h7.6v1.5h-7.6zM222.8 82.1h17.6v1.5h-17.6zM155.8 88.3h7.6v1.5h-7.6zM193.0 88.3h15.1v1.5h-15.1zM155.8 89.6h7.6v1.5h-7.6zM170.7 89.6h7.6v1.5h-7.6zM193.0 89.6h15.1v1.5h-15.1zM148.4 90.8h7.6v1.5h-7.6zM163.3 90.8h7.6v1.5h-7.6zM200.5 90.8h7.6v1.5h-7.6zM163.3 92.1h7.6v1.5h-7.6zM222.8 93.3h7.6v1.5h-7.6zM222.8 94.6h7.6v1.5h-7.6z"/><path fill="#7c78ac" d="M64.0 38.3h17.6v1.5h-17.6zM64.0 39.5h17.6v1.5h-17.6zM88.8 59.5h7.6v1.5h-7.6zM230.3 98.3h10.1v1.5h-10.1zM230.3 107.1h10.1v1.5h-10.1zM170.7 108.3h7.6v1.5h-7.6zM170.7 109.6h7.6v1.5h-7.6zM193.0 109.6h7.6v1.5h-7.6zM155.8 112.1h15.1v1.5h-15.1zM185.6 112.1h7.6v1.5h-7.6zM200.5 112.1h7.6v1.5h-7.6zM230.3 112.1h10.1v1.5h-10.1zM170.7 114.6h7.6v1.5h-7.6zM200.5 114.6h7.6v1.5h-7.6zM193.0 115.8h7.6v1.5h-7.6zM215.4 115.8h7.6v1.5h-7.6zM193.0 117.1h22.5v1.5h-22.5zM207.9 122.1h7.6v1.5h-7.6zM155.8 123.3h7.6v1.5h-7.6zM155.8 124.6h7.6v1.5h-7.6zM230.3 124.6h10.1v1.5h-10.1zM230.3 128.3h10.1v1.5h-10.1zM230.3 129.6h10.1v1.5h-10.1zM148.4 133.3h7.6v1.5h-7.6zM163.3 133.3h7.6v1.5h-7.6zM193.0 133.3h7.6v1.5h-7.6zM207.9 133.3h7.6v1.5h-7.6zM148.4 134.6h22.5v1.5h-22.5zM193.0 134.6h7.6v1.5h-7.6zM207.9 134.6h7.6v1.5h-7.6zM155.8 135.8h7.6v1.5h-7.6zM193.0 135.8h7.6v1.5h-7.6zM230.3 135.8h10.1v1.5h-10.1zM148.4 137.1h7.6v1.5h-7.6zM193.0 137.1h7.6v1.5h-7.6zM230.3 137.1h10.1v1.5h-10.1zM148.4 138.3h7.6v1.5h-7.6zM163.3 138.3h7.6v1.5h-7.6zM200.5 138.3h15.1v1.5h-15.1zM200.5 139.6h15.1v1.5h-15.1zM155.8 140.8h7.6v1.5h-7.6zM193.0 140.8h15.1v1.5h-15.1zM155.8 142.1h15.1v1.5h-15.1zM148.4 143.3h7.6v1.5h-7.6zM163.3 143.3h7.6v1.5h-7.6zM200.5 143.3h7.6v1.5h-7.6zM230.3 143.3h10.1v1.5h-10.1zM148.4 144.6h7.6v1.5h-7.6zM163.3 144.6h7.6v1.5h-7.6zM200.5 144.6h7.6v1.5h-7.6zM230.3 144.6h10.1v1.5h-10.1zM230.3 147.1h10.1v1.5h-10.1z"/><path fill="#c8bc62" d="M207.9 40.8h7.6v1.5h-7.6zM222.8 42.0h7.6v1.5h-7.6zM230.3 45.8h10.1v1.5h-10.1zM230.3 47.0h10.1v1.5h-10.1zM222.8 50.8h7.6v1.5h-7.6zM222.8 52.0h7.6v1.5h-7.6zM148.4 57.0h7.6v1.5h-7.6zM185.6 63.3h7.6v1.5h-7.6zM207.9 63.3h7.6v1.5h-7.6zM185.6 64.5h7.6v1.5h-7.6zM207.9 64.5h7.6v1.5h-7.6zM178.2 74.6h7.6v1.5h-7.6zM170.7 87.1h7.6v1.5h-7.6zM193.0 92.1h7.6v1.5h-7.6zM155.8 94.6h7.6v1.5h-7.6zM215.4 94.6h7.6v1.5h-7.6zM230.3 94.6h10.1v1.5h-10.1zM193.0 95.8h7.6v1.5h-7.6zM207.9 95.8h7.6v1.5h-7.6zM155.8 97.1h7.6v1.5h-7.6zM193.0 97.1h22.5v1.5h-22.5z"/><path fill="#a09c88" d="M222.8 48.3h7.6v1.5h-7.6zM222.8 49.5h7.6v1.5h-7.6zM185.6 83.3h7.6v1.5h-7.6zM185.6 84.6h7.6v1.5h-7.6zM230.3 93.3h10.1v1.5h-10.1z"/><path fill="#e87a34" d="M200.5 50.8h7.6v1.5h-7.6z"/><path fill="#5a62b4" d="M230.3 90.8h10.1v1.5h-10.1z"/><path fill="#8080b0" d="M230.3 92.1h10.1v1.5h-10.1z"/><path fill="#eb9a30" d="M111.2 97.1h7.6v1.5h-7.6zM103.7 98.3h7.6v1.5h-7.6zM103.7 99.6h7.6v1.5h-7.6zM103.7 103.3h7.6v1.5h-7.6zM118.6 103.3h7.6v1.5h-7.6zM64.0 105.8h10.1v1.5h-10.1zM81.4 105.8h7.6v1.5h-7.6zM96.3 105.8h22.5v1.5h-22.5zM96.3 107.1h7.6v1.5h-7.6zM111.2 107.1h7.6v1.5h-7.6zM88.8 108.3h7.6v1.5h-7.6zM118.6 108.3h15.1v1.5h-15.1zM148.4 108.3h7.6v1.5h-7.6zM103.7 109.6h7.6v1.5h-7.6zM118.6 109.6h22.5v1.5h-22.5zM148.4 109.6h7.6v1.5h-7.6zM81.4 110.8h22.5v1.5h-22.5zM88.8 112.1h30.0v1.5h-30.0zM126.0 112.1h15.1v1.5h-15.1zM88.8 113.3h15.1v1.5h-15.1zM111.2 113.3h7.6v1.5h-7.6zM126.0 113.3h7.6v1.5h-7.6zM148.4 113.3h7.6v1.5h-7.6zM96.3 114.6h7.6v1.5h-7.6zM118.6 114.6h15.1v1.5h-15.1zM148.4 114.6h7.6v1.5h-7.6zM64.0 115.8h10.1v1.5h-10.1zM81.4 115.8h7.6v1.5h-7.6zM118.6 115.8h7.6v1.5h-7.6zM88.8 117.1h7.6v1.5h-7.6zM111.2 117.1h7.6v1.5h-7.6zM81.4 118.3h22.5v1.5h-22.5zM111.2 118.3h7.6v1.5h-7.6zM81.4 119.6h22.5v1.5h-22.5zM111.2 119.6h7.6v1.5h-7.6zM96.3 120.8h7.6v1.5h-7.6zM111.2 120.8h7.6v1.5h-7.6zM96.3 122.1h7.6v1.5h-7.6zM111.2 122.1h7.6v1.5h-7.6zM64.0 123.3h17.6v1.5h-17.6zM96.3 123.3h15.1v1.5h-15.1zM118.6 123.3h15.1v1.5h-15.1zM200.5 123.3h7.6v1.5h-7.6zM64.0 124.6h17.6v1.5h-17.6zM88.8 124.6h7.6v1.5h-7.6zM103.7 124.6h7.6v1.5h-7.6zM126.0 124.6h7.6v1.5h-7.6zM81.4 125.8h7.6v1.5h-7.6zM96.3 125.8h7.6v1.5h-7.6zM96.3 127.1h7.6v1.5h-7.6zM64.0 128.3h10.1v1.5h-10.1zM81.4 128.3h7.6v1.5h-7.6zM103.7 128.3h7.6v1.5h-7.6zM118.6 128.3h7.6v1.5h-7.6zM64.0 129.6h10.1v1.5h-10.1zM81.4 129.6h7.6v1.5h-7.6zM81.4 130.8h7.6v1.5h-7.6zM103.7 130.8h7.6v1.5h-7.6zM133.5 130.8h7.6v1.5h-7.6zM81.4 132.1h7.6v1.5h-7.6zM103.7 132.1h7.6v1.5h-7.6zM64.0 133.3h10.1v1.5h-10.1zM96.3 133.3h7.6v1.5h-7.6zM118.6 133.3h7.6v1.5h-7.6zM64.0 134.6h10.1v1.5h-10.1zM96.3 134.6h7.6v1.5h-7.6zM126.0 134.6h7.6v1.5h-7.6zM81.4 135.8h7.6v1.5h-7.6zM96.3 135.8h7.6v1.5h-7.6zM111.2 135.8h7.6v1.5h-7.6zM81.4 137.1h7.6v1.5h-7.6zM96.3 137.1h7.6v1.5h-7.6zM111.2 137.1h7.6v1.5h-7.6zM64.0 138.3h10.1v1.5h-10.1zM103.7 138.3h7.6v1.5h-7.6zM64.0 139.6h10.1v1.5h-10.1zM103.7 139.6h7.6v1.5h-7.6zM111.2 140.8h15.1v1.5h-15.1zM73.9 142.1h7.6v1.5h-7.6zM103.7 142.1h22.5v1.5h-22.5zM73.9 143.3h7.6v1.5h-7.6zM88.8 143.3h15.1v1.5h-15.1zM140.9 143.3h7.6v1.5h-7.6zM73.9 144.6h7.6v1.5h-7.6zM126.0 144.6h7.6v1.5h-7.6zM140.9 144.6h7.6v1.5h-7.6zM185.6 144.6h7.6v1.5h-7.6zM96.3 145.8h7.6v1.5h-7.6zM96.3 148.3h7.6v1.5h-7.6zM111.2 148.3h7.6v1.5h-7.6zM96.3 149.6h22.5v4.0h-22.5z"/><path fill="#5a60b0" d="M230.3 100.8h10.1v1.5h-10.1zM230.3 102.1h10.1v1.5h-10.1zM230.3 105.8h10.1v1.5h-10.1zM155.8 110.8h67.2v1.5h-67.2zM230.3 110.8h10.1v1.5h-10.1zM170.7 112.1h15.1v1.5h-15.1zM193.0 112.1h7.6v1.5h-7.6zM207.9 112.1h15.1v1.5h-15.1zM155.8 113.3h30.0v1.5h-30.0zM193.0 113.3h30.0v1.5h-30.0zM230.3 113.3h10.1v1.5h-10.1zM155.8 114.6h15.1v1.5h-15.1zM178.2 114.6h7.6v1.5h-7.6zM193.0 114.6h7.6v1.5h-7.6zM207.9 114.6h15.1v1.5h-15.1zM230.3 114.6h10.1v1.5h-10.1zM200.5 115.8h15.1v1.5h-15.1zM215.4 117.1h7.6v1.5h-7.6zM207.9 120.8h7.6v1.5h-7.6zM155.8 133.3h7.6v1.5h-7.6zM200.5 135.8h7.6v1.5h-7.6zM155.8 137.1h7.6v1.5h-7.6zM200.5 137.1h7.6v1.5h-7.6zM155.8 138.3h7.6v1.5h-7.6zM148.4 139.6h22.5v1.5h-22.5zM148.4 140.8h7.6v1.5h-7.6zM207.9 140.8h7.6v1.5h-7.6zM148.4 142.1h7.6v1.5h-7.6zM193.0 142.1h7.6v1.5h-7.6zM207.9 142.1h7.6v1.5h-7.6z"/><path fill="#d83a2a" d="M64.0 108.3h10.1v1.5h-10.1zM64.0 110.8h10.1v1.5h-10.1z"/><path fill="#e2622e" d="M81.4 108.3h7.6v1.5h-7.6zM111.2 108.3h7.6v1.5h-7.6zM64.0 109.6h10.1v1.5h-10.1zM81.4 109.6h7.6v1.5h-7.6zM111.2 109.6h7.6v1.5h-7.6zM111.2 110.8h7.6v1.5h-7.6zM126.0 110.8h7.6v1.5h-7.6zM148.4 110.8h7.6v1.5h-7.6zM64.0 112.1h10.1v1.5h-10.1zM148.4 112.1h7.6v1.5h-7.6zM64.0 113.3h10.1v1.5h-10.1zM64.0 114.6h10.1v1.5h-10.1zM64.0 143.3h10.1v1.5h-10.1zM81.4 143.3h7.6v1.5h-7.6zM103.7 143.3h7.6v1.5h-7.6zM118.6 143.3h22.5v1.5h-22.5zM185.6 143.3h7.6v1.5h-7.6zM222.8 143.3h7.6v1.5h-7.6zM64.0 144.6h10.1v1.5h-10.1zM81.4 144.6h7.6v1.5h-7.6zM103.7 144.6h7.6v1.5h-7.6zM118.6 144.6h7.6v1.5h-7.6zM133.5 144.6h7.6v1.5h-7.6zM222.8 144.6h7.6v1.5h-7.6z"/></g>
<rect x="66.6" y="27.2" width="81.4" height="7.6" fill="#468c3c"/>
<rect x="148" y="27.2" width="89" height="7.6" fill="#d72830"/>
<rect x="66.6" y="27.2" width="170.4" height="7.6" fill="none" stroke="#111" stroke-width="1.6"/>
<line x1="148" y1="26.4" x2="148" y2="150.8" stroke="#111" stroke-width="1.5"/>
<line x1="193.5" y1="26.4" x2="193.5" y2="150.8" stroke="#111" stroke-width="1.5"/>
<text x="57.2" y="71.8" font-size="9.5" font-weight="normal" font-style="normal" fill="#c4303a" text-anchor="end" stroke="#c4303a" stroke-width="0.25">Protein</text>
<text x="57.2" y="81.6" font-size="9.6" font-weight="normal" font-style="normal" fill="#c4303a" text-anchor="end" stroke="#c4303a" stroke-width="0.25">Biosynthesis</text>
<rect x="64.2" y="55" width="2.2" height="33.6" fill="#de5a4c"/>
<text x="54" y="119.8" font-size="9.0" font-weight="bold" font-style="normal" fill="#111" text-anchor="end" >IFN</text>
<rect x="64" y="106.4" width="2.8" height="20.5" fill="#4a4a55"/>
<text transform="translate(254.4,115.7) rotate(90)" font-size="7.2" font-weight="bold" fill="#222">854 Genes</text>
<path d="M248.2 130 V155.3 H225" fill="none" stroke="#444" stroke-width="0.8"/><circle cx="248.2" cy="130" r="0.9" fill="#333"/><circle cx="225" cy="155.3" r="0.9" fill="#333"/>
<text x="218.6" y="164.8" font-size="6.3" font-weight="bold" font-style="normal" fill="#222" text-anchor="start" >23 Samples</text>
<text x="1.8" y="196.8" font-size="17" fill="#000" stroke="#000" stroke-width="0.45">B</text>
<text x="125" y="197" font-size="8.2" font-weight="bold" font-style="normal" fill="#50905a" text-anchor="middle" >Influenza&#160; A</text>
<text x="181.9" y="196.6" font-size="8.0" font-weight="bold" font-style="italic" fill="#c2303c" text-anchor="middle" >E.coli</text>
<text x="222.3" y="196.6" font-size="7.8" font-weight="bold" font-style="italic" fill="#c2303c" text-anchor="middle" >S.pn</text>
<text transform="translate(97.3,206.7) scale(0.93,1)" font-size="6.2" font-weight="bold" fill="#1a1a1a" stroke="#1a1a1a" stroke-width="0.22" text-anchor="end">TRUE CLASS</text>
<text transform="translate(97.3,217.7) scale(0.93,1)" font-size="6.2" font-weight="bold" fill="#1a1a1a" stroke="#1a1a1a" stroke-width="0.22" text-anchor="end">K-NN CLASS</text>
<line x1="60.3" y1="209.4" x2="237" y2="209.4" stroke="#111" stroke-width="1.2"/>
<clipPath id="cB"><rect x="100" y="219.3" width="137" height="126.3"/></clipPath><g clip-path="url(#cB)" filter="url(#bl)" shape-rendering="crispEdges"><path fill="#f6d42a" d="M97.5 216.8h8.7v6.3h-8.7zM111.9 216.8h12.1v6.3h-12.1zM129.8 216.8h12.1v6.3h-12.1zM147.7 216.8h6.2v6.3h-6.2zM183.4 216.8h6.2v6.3h-6.2zM195.3 216.8h6.2v6.3h-6.2zM225.1 216.8h6.2v6.3h-6.2zM225.1 222.9h6.2v3.8h-6.2zM97.5 226.5h8.7v3.8h-8.7zM129.8 226.5h6.2v3.8h-6.2zM141.7 226.5h6.2v3.8h-6.2zM141.7 230.1h6.2v3.8h-6.2zM195.3 230.1h6.2v3.8h-6.2zM111.9 233.7h6.2v3.8h-6.2zM141.7 233.7h6.2v3.8h-6.2zM111.9 237.3h6.2v3.8h-6.2zM141.7 241.0h12.1v3.8h-12.1zM159.6 244.6h6.2v3.8h-6.2zM225.1 248.2h6.2v3.8h-6.2zM225.1 255.4h6.2v3.8h-6.2zM225.1 259.0h6.2v3.8h-6.2zM106.0 262.6h6.2v3.8h-6.2zM141.7 262.6h6.2v3.8h-6.2zM159.6 262.6h6.2v3.8h-6.2zM225.1 262.6h6.2v3.8h-6.2zM225.1 266.2h6.2v3.8h-6.2zM225.1 269.8h6.2v3.8h-6.2zM225.1 273.4h6.2v3.8h-6.2zM117.9 277.0h6.2v3.8h-6.2zM159.6 277.0h6.2v3.8h-6.2zM171.5 277.0h6.2v3.8h-6.2zM225.1 277.0h6.2v3.8h-6.2zM195.3 280.6h6.2v3.8h-6.2zM141.7 284.3h6.2v3.8h-6.2zM117.9 287.9h6.2v3.8h-6.2zM171.5 287.9h6.2v3.8h-6.2zM111.9 291.5h18.1v3.8h-18.1zM153.6 291.5h18.1v3.8h-18.1zM183.4 291.5h6.2v3.8h-6.2zM159.6 295.1h6.2v3.8h-6.2zM183.4 295.1h12.1v3.8h-12.1zM106.0 298.7h6.2v3.8h-6.2zM111.9 305.9h6.2v3.8h-6.2zM165.5 305.9h6.2v3.8h-6.2zM219.1 305.9h12.1v3.8h-12.1zM195.3 309.5h6.2v3.8h-6.2zM225.1 309.5h6.2v3.8h-6.2zM165.5 313.1h6.2v3.8h-6.2zM111.9 316.7h6.2v3.8h-6.2zM171.5 316.7h12.1v3.8h-12.1zM195.3 316.7h12.1v3.8h-12.1zM213.2 316.7h6.2v3.8h-6.2zM225.1 316.7h6.2v3.8h-6.2zM159.6 320.3h6.2v3.8h-6.2zM171.5 320.3h12.1v3.8h-12.1zM207.2 320.3h6.2v3.8h-6.2zM195.3 323.9h6.2v3.8h-6.2zM219.1 323.9h6.2v3.8h-6.2zM165.5 327.6h6.2v3.8h-6.2zM165.5 331.2h6.2v3.8h-6.2zM171.5 334.8h6.2v3.8h-6.2zM195.3 334.8h6.2v3.8h-6.2zM219.1 334.8h6.2v3.8h-6.2zM165.5 338.4h6.2v3.8h-6.2zM195.3 338.4h6.2v3.8h-6.2z"/><path fill="#f2b534" d="M106.0 216.8h6.2v6.3h-6.2zM123.8 216.8h6.2v6.3h-6.2zM141.7 216.8h6.2v6.3h-6.2zM97.5 222.9h8.7v3.8h-8.7zM123.8 222.9h6.2v3.8h-6.2zM135.7 222.9h6.2v3.8h-6.2zM147.7 222.9h6.2v3.8h-6.2zM159.6 222.9h6.2v3.8h-6.2zM123.8 226.5h6.2v3.8h-6.2zM153.6 226.5h12.1v3.8h-12.1zM195.3 226.5h6.2v3.8h-6.2zM225.1 226.5h6.2v3.8h-6.2zM111.9 230.1h6.2v3.8h-6.2zM123.8 230.1h6.2v3.8h-6.2zM135.7 230.1h6.2v3.8h-6.2zM153.6 230.1h6.2v3.8h-6.2zM106.0 233.7h6.2v3.8h-6.2zM147.7 233.7h6.2v3.8h-6.2zM159.6 233.7h6.2v3.8h-6.2zM111.9 241.0h6.2v3.8h-6.2zM153.6 241.0h12.1v3.8h-12.1zM225.1 241.0h6.2v3.8h-6.2zM129.8 244.6h6.2v3.8h-6.2zM147.7 248.2h6.2v3.8h-6.2zM159.6 248.2h6.2v3.8h-6.2zM147.7 251.8h12.1v3.8h-12.1zM106.0 255.4h6.2v3.8h-6.2zM129.8 255.4h6.2v3.8h-6.2zM153.6 255.4h6.2v3.8h-6.2zM153.6 259.0h6.2v3.8h-6.2zM141.7 269.8h6.2v3.8h-6.2zM106.0 273.4h6.2v3.8h-6.2zM159.6 273.4h6.2v3.8h-6.2zM129.8 277.0h6.2v3.8h-6.2zM141.7 277.0h6.2v3.8h-6.2zM153.6 277.0h6.2v3.8h-6.2zM106.0 280.6h6.2v3.8h-6.2zM117.9 284.3h6.2v3.8h-6.2zM159.6 284.3h6.2v3.8h-6.2zM111.9 287.9h6.2v3.8h-6.2zM129.8 287.9h6.2v3.8h-6.2zM147.7 291.5h6.2v3.8h-6.2zM135.7 295.1h6.2v3.8h-6.2zM153.6 295.1h6.2v3.8h-6.2zM177.4 295.1h6.2v3.8h-6.2zM225.1 295.1h6.2v3.8h-6.2zM165.5 298.7h12.1v3.8h-12.1zM183.4 298.7h6.2v3.8h-6.2zM231.0 298.7h8.7v3.8h-8.7zM177.4 302.3h6.2v3.8h-6.2zM189.3 302.3h6.2v3.8h-6.2zM201.3 302.3h6.2v3.8h-6.2zM225.1 302.3h6.2v3.8h-6.2zM183.4 305.9h12.1v3.8h-12.1zM207.2 305.9h12.1v3.8h-12.1zM231.0 305.9h8.7v3.8h-8.7zM177.4 309.5h12.1v3.8h-12.1zM201.3 309.5h12.1v3.8h-12.1zM219.1 309.5h6.2v3.8h-6.2zM171.5 313.1h6.2v3.8h-6.2zM189.3 313.1h18.1v3.8h-18.1zM213.2 313.1h6.2v3.8h-6.2zM165.5 316.7h6.2v3.8h-6.2zM183.4 316.7h6.2v3.8h-6.2zM207.2 316.7h6.2v3.8h-6.2zM219.1 316.7h6.2v3.8h-6.2zM201.3 320.3h6.2v3.8h-6.2zM213.2 320.3h12.1v3.8h-12.1zM171.5 323.9h12.1v3.8h-12.1zM189.3 323.9h6.2v3.8h-6.2zM201.3 323.9h18.1v3.8h-18.1zM195.3 327.6h6.2v3.8h-6.2zM219.1 327.6h6.2v3.8h-6.2zM231.0 327.6h8.7v3.8h-8.7zM177.4 331.2h6.2v3.8h-6.2zM195.3 331.2h30.0v3.8h-30.0zM177.4 334.8h12.1v3.8h-12.1zM201.3 334.8h18.1v3.8h-18.1zM177.4 338.4h6.2v3.8h-6.2zM189.3 338.4h6.2v3.8h-6.2zM213.2 338.4h12.1v3.8h-12.1zM231.0 338.4h8.7v3.8h-8.7zM183.4 342.0h6.2v6.3h-6.2zM195.3 342.0h6.2v6.3h-6.2zM207.2 342.0h6.2v6.3h-6.2zM219.1 342.0h12.1v6.3h-12.1z"/><path fill="#e0522c" d="M153.6 216.8h6.2v6.3h-6.2zM135.7 233.7h6.2v3.8h-6.2zM147.7 237.3h12.1v3.8h-12.1zM111.9 244.6h12.1v3.8h-12.1zM111.9 248.2h18.1v3.8h-18.1zM111.9 251.8h18.1v3.8h-18.1zM135.7 251.8h6.2v3.8h-6.2zM111.9 255.4h12.1v3.8h-12.1zM135.7 259.0h6.2v3.8h-6.2zM111.9 262.6h6.2v3.8h-6.2zM135.7 262.6h6.2v3.8h-6.2zM129.8 266.2h6.2v3.8h-6.2zM165.5 266.2h6.2v3.8h-6.2zM111.9 269.8h6.2v3.8h-6.2zM135.7 269.8h6.2v3.8h-6.2zM147.7 269.8h6.2v3.8h-6.2zM111.9 273.4h6.2v3.8h-6.2zM123.8 273.4h6.2v3.8h-6.2zM147.7 273.4h6.2v3.8h-6.2zM111.9 277.0h6.2v3.8h-6.2zM135.7 277.0h6.2v3.8h-6.2zM147.7 277.0h6.2v3.8h-6.2zM111.9 280.6h6.2v3.8h-6.2zM123.8 280.6h12.1v3.8h-12.1zM165.5 280.6h6.2v3.8h-6.2zM123.8 284.3h12.1v3.8h-12.1zM225.1 284.3h6.2v3.8h-6.2zM97.5 295.1h8.7v3.8h-8.7zM171.5 327.6h6.2v3.8h-6.2z"/><path fill="#eb8e2e" d="M159.6 216.8h6.2v6.3h-6.2zM106.0 222.9h12.1v3.8h-12.1zM129.8 222.9h6.2v3.8h-6.2zM141.7 222.9h6.2v3.8h-6.2zM153.6 222.9h6.2v3.8h-6.2zM195.3 222.9h6.2v3.8h-6.2zM111.9 226.5h6.2v3.8h-6.2zM135.7 226.5h6.2v3.8h-6.2zM147.7 226.5h6.2v3.8h-6.2zM106.0 230.1h6.2v3.8h-6.2zM147.7 230.1h6.2v3.8h-6.2zM165.5 230.1h6.2v3.8h-6.2zM117.9 233.7h12.1v3.8h-12.1zM153.6 233.7h6.2v3.8h-6.2zM165.5 233.7h6.2v3.8h-6.2zM129.8 237.3h6.2v3.8h-6.2zM159.6 237.3h12.1v3.8h-12.1zM117.9 241.0h24.0v3.8h-24.0zM165.5 241.0h6.2v3.8h-6.2zM106.0 244.6h6.2v3.8h-6.2zM123.8 244.6h6.2v3.8h-6.2zM147.7 244.6h6.2v3.8h-6.2zM165.5 244.6h6.2v3.8h-6.2zM225.1 244.6h6.2v3.8h-6.2zM106.0 248.2h6.2v3.8h-6.2zM135.7 248.2h6.2v3.8h-6.2zM153.6 248.2h6.2v3.8h-6.2zM165.5 248.2h6.2v3.8h-6.2zM106.0 251.8h6.2v3.8h-6.2zM159.6 251.8h12.1v3.8h-12.1zM225.1 251.8h6.2v3.8h-6.2zM123.8 255.4h6.2v3.8h-6.2zM147.7 255.4h6.2v3.8h-6.2zM159.6 255.4h12.1v3.8h-12.1zM111.9 259.0h24.0v3.8h-24.0zM141.7 259.0h12.1v3.8h-12.1zM159.6 259.0h12.1v3.8h-12.1zM117.9 262.6h18.1v3.8h-18.1zM153.6 262.6h6.2v3.8h-6.2zM165.5 262.6h6.2v3.8h-6.2zM106.0 266.2h6.2v3.8h-6.2zM117.9 266.2h12.1v3.8h-12.1zM135.7 266.2h6.2v3.8h-6.2zM153.6 266.2h12.1v3.8h-12.1zM123.8 269.8h12.1v3.8h-12.1zM153.6 269.8h18.1v3.8h-18.1zM117.9 273.4h6.2v3.8h-6.2zM129.8 273.4h12.1v3.8h-12.1zM153.6 273.4h6.2v3.8h-6.2zM165.5 273.4h6.2v3.8h-6.2zM123.8 277.0h6.2v3.8h-6.2zM165.5 277.0h6.2v3.8h-6.2zM117.9 280.6h6.2v3.8h-6.2zM153.6 280.6h12.1v3.8h-12.1zM106.0 284.3h6.2v3.8h-6.2zM153.6 284.3h6.2v3.8h-6.2zM97.5 287.9h14.6v3.8h-14.6zM123.8 287.9h6.2v3.8h-6.2zM135.7 287.9h24.0v3.8h-24.0zM97.5 291.5h14.6v3.8h-14.6zM129.8 291.5h6.2v3.8h-6.2zM141.7 291.5h6.2v3.8h-6.2zM111.9 295.1h24.0v3.8h-24.0zM141.7 295.1h12.1v3.8h-12.1zM165.5 295.1h12.1v3.8h-12.1zM195.3 295.1h6.2v3.8h-6.2zM207.2 295.1h6.2v3.8h-6.2zM219.1 295.1h6.2v3.8h-6.2zM177.4 298.7h6.2v3.8h-6.2zM189.3 298.7h41.9v3.8h-41.9zM165.5 302.3h12.1v3.8h-12.1zM183.4 302.3h6.2v3.8h-6.2zM195.3 302.3h6.2v3.8h-6.2zM207.2 302.3h18.1v3.8h-18.1zM231.0 302.3h8.7v3.8h-8.7zM171.5 305.9h12.1v3.8h-12.1zM201.3 305.9h6.2v3.8h-6.2zM171.5 309.5h6.2v3.8h-6.2zM189.3 309.5h6.2v3.8h-6.2zM213.2 309.5h6.2v3.8h-6.2zM231.0 309.5h8.7v3.8h-8.7zM177.4 313.1h12.1v3.8h-12.1zM207.2 313.1h6.2v3.8h-6.2zM219.1 313.1h6.2v3.8h-6.2zM231.0 313.1h8.7v3.8h-8.7zM189.3 316.7h6.2v3.8h-6.2zM231.0 316.7h8.7v3.8h-8.7zM183.4 320.3h12.1v3.8h-12.1zM231.0 320.3h8.7v3.8h-8.7zM183.4 323.9h6.2v3.8h-6.2zM231.0 323.9h8.7v3.8h-8.7zM177.4 327.6h18.1v3.8h-18.1zM201.3 327.6h18.1v3.8h-18.1zM171.5 331.2h6.2v3.8h-6.2zM183.4 331.2h12.1v3.8h-12.1zM231.0 331.2h8.7v3.8h-8.7zM189.3 334.8h6.2v3.8h-6.2zM231.0 334.8h8.7v3.8h-8.7zM171.5 338.4h6.2v3.8h-6.2zM183.4 338.4h6.2v3.8h-6.2zM201.3 338.4h12.1v3.8h-12.1zM171.5 342.0h12.1v6.3h-12.1zM189.3 342.0h6.2v6.3h-6.2zM201.3 342.0h6.2v6.3h-6.2zM213.2 342.0h6.2v6.3h-6.2z"/><path fill="#b8b25e" d="M165.5 216.8h6.2v6.3h-6.2zM189.3 216.8h6.2v6.3h-6.2zM207.2 216.8h6.2v6.3h-6.2zM219.1 216.8h6.2v6.3h-6.2zM177.4 222.9h12.1v3.8h-12.1zM207.2 222.9h6.2v3.8h-6.2zM219.1 222.9h6.2v3.8h-6.2zM106.0 226.5h6.2v3.8h-6.2zM225.1 230.1h6.2v3.8h-6.2zM141.7 244.6h6.2v3.8h-6.2zM177.4 244.6h6.2v3.8h-6.2zM141.7 251.8h6.2v3.8h-6.2zM195.3 269.8h6.2v3.8h-6.2zM177.4 273.4h6.2v3.8h-6.2zM195.3 273.4h6.2v3.8h-6.2zM177.4 284.3h6.2v3.8h-6.2zM207.2 284.3h6.2v3.8h-6.2zM177.4 287.9h6.2v3.8h-6.2zM225.1 287.9h6.2v3.8h-6.2zM201.3 291.5h12.1v3.8h-12.1zM213.2 295.1h6.2v3.8h-6.2zM231.0 295.1h8.7v3.8h-8.7zM117.9 298.7h12.1v3.8h-12.1zM147.7 298.7h6.2v3.8h-6.2zM97.5 302.3h14.6v3.8h-14.6zM129.8 302.3h6.2v3.8h-6.2zM159.6 302.3h6.2v3.8h-6.2zM106.0 305.9h6.2v3.8h-6.2zM117.9 305.9h18.1v3.8h-18.1zM159.6 305.9h6.2v3.8h-6.2zM111.9 309.5h41.9v3.8h-41.9zM159.6 309.5h6.2v3.8h-6.2zM97.5 313.1h8.7v3.8h-8.7zM117.9 313.1h24.0v3.8h-24.0zM159.6 313.1h6.2v3.8h-6.2zM117.9 316.7h6.2v3.8h-6.2zM129.8 316.7h6.2v3.8h-6.2zM141.7 316.7h6.2v3.8h-6.2zM123.8 320.3h6.2v3.8h-6.2zM106.0 323.9h18.1v3.8h-18.1zM141.7 323.9h6.2v3.8h-6.2zM97.5 327.6h8.7v3.8h-8.7zM117.9 327.6h12.1v3.8h-12.1zM141.7 327.6h6.2v3.8h-6.2zM153.6 327.6h6.2v3.8h-6.2zM225.1 327.6h6.2v3.8h-6.2zM97.5 331.2h26.5v3.8h-26.5zM141.7 331.2h6.2v3.8h-6.2zM153.6 331.2h6.2v3.8h-6.2zM225.1 331.2h6.2v3.8h-6.2zM117.9 334.8h6.2v3.8h-6.2zM135.7 334.8h12.1v3.8h-12.1zM159.6 334.8h6.2v3.8h-6.2zM117.9 338.4h6.2v3.8h-6.2zM129.8 338.4h6.2v3.8h-6.2zM225.1 338.4h6.2v3.8h-6.2zM97.5 342.0h14.6v6.3h-14.6zM117.9 342.0h6.2v6.3h-6.2zM129.8 342.0h6.2v6.3h-6.2zM147.7 342.0h6.2v6.3h-6.2z"/><path fill="#4352ac" d="M171.5 216.8h12.1v6.3h-12.1zM201.3 216.8h6.2v6.3h-6.2zM213.2 216.8h6.2v6.3h-6.2zM231.0 216.8h8.7v6.3h-8.7zM165.5 222.9h12.1v3.8h-12.1zM201.3 222.9h6.2v3.8h-6.2zM213.2 222.9h6.2v3.8h-6.2zM231.0 222.9h8.7v3.8h-8.7zM171.5 226.5h6.2v3.8h-6.2zM189.3 226.5h6.2v3.8h-6.2zM201.3 226.5h24.0v3.8h-24.0zM231.0 226.5h8.7v3.8h-8.7zM171.5 230.1h6.2v3.8h-6.2zM183.4 230.1h12.1v3.8h-12.1zM207.2 230.1h18.1v3.8h-18.1zM231.0 230.1h8.7v3.8h-8.7zM171.5 233.7h24.0v3.8h-24.0zM201.3 233.7h24.0v3.8h-24.0zM231.0 233.7h8.7v3.8h-8.7zM171.5 237.3h6.2v3.8h-6.2zM183.4 237.3h56.3v3.8h-56.3zM171.5 241.0h6.2v3.8h-6.2zM183.4 241.0h6.2v3.8h-6.2zM201.3 241.0h24.0v3.8h-24.0zM231.0 241.0h8.7v3.8h-8.7zM171.5 244.6h6.2v3.8h-6.2zM183.4 244.6h41.9v3.8h-41.9zM231.0 244.6h8.7v3.8h-8.7zM171.5 248.2h6.2v3.8h-6.2zM183.4 248.2h6.2v3.8h-6.2zM201.3 248.2h24.0v3.8h-24.0zM231.0 248.2h8.7v3.8h-8.7zM171.5 251.8h53.8v3.8h-53.8zM231.0 251.8h8.7v3.8h-8.7zM171.5 255.4h6.2v3.8h-6.2zM183.4 255.4h6.2v3.8h-6.2zM201.3 255.4h24.0v3.8h-24.0zM231.0 255.4h8.7v3.8h-8.7zM171.5 259.0h6.2v3.8h-6.2zM183.4 259.0h41.9v3.8h-41.9zM231.0 259.0h8.7v3.8h-8.7zM171.5 262.6h53.8v3.8h-53.8zM231.0 262.6h8.7v3.8h-8.7zM171.5 266.2h53.8v3.8h-53.8zM231.0 266.2h8.7v3.8h-8.7zM171.5 269.8h6.2v3.8h-6.2zM183.4 269.8h12.1v3.8h-12.1zM201.3 269.8h24.0v3.8h-24.0zM231.0 269.8h8.7v3.8h-8.7zM171.5 273.4h6.2v3.8h-6.2zM183.4 273.4h12.1v3.8h-12.1zM201.3 273.4h24.0v3.8h-24.0zM231.0 273.4h8.7v3.8h-8.7zM183.4 277.0h41.9v3.8h-41.9zM231.0 277.0h8.7v3.8h-8.7zM171.5 280.6h6.2v3.8h-6.2zM183.4 280.6h6.2v3.8h-6.2zM201.3 280.6h24.0v3.8h-24.0zM231.0 280.6h8.7v3.8h-8.7zM171.5 284.3h6.2v3.8h-6.2zM183.4 284.3h6.2v3.8h-6.2zM213.2 284.3h12.1v3.8h-12.1zM231.0 284.3h8.7v3.8h-8.7zM195.3 287.9h6.2v3.8h-6.2zM213.2 287.9h12.1v3.8h-12.1zM231.0 287.9h8.7v3.8h-8.7zM213.2 291.5h6.2v3.8h-6.2zM231.0 291.5h8.7v3.8h-8.7z"/><path fill="#e2e23e" d="M117.9 222.9h6.2v3.8h-6.2zM189.3 222.9h6.2v3.8h-6.2zM117.9 226.5h6.2v3.8h-6.2zM117.9 230.1h6.2v3.8h-6.2zM129.8 230.1h6.2v3.8h-6.2zM159.6 230.1h6.2v3.8h-6.2zM177.4 230.1h6.2v3.8h-6.2zM129.8 233.7h6.2v3.8h-6.2zM225.1 233.7h6.2v3.8h-6.2zM141.7 237.3h6.2v3.8h-6.2zM106.0 241.0h6.2v3.8h-6.2zM177.4 241.0h6.2v3.8h-6.2zM153.6 244.6h6.2v3.8h-6.2zM129.8 248.2h6.2v3.8h-6.2zM141.7 248.2h6.2v3.8h-6.2zM129.8 251.8h6.2v3.8h-6.2zM141.7 255.4h6.2v3.8h-6.2zM106.0 259.0h6.2v3.8h-6.2zM106.0 269.8h6.2v3.8h-6.2zM117.9 269.8h6.2v3.8h-6.2zM141.7 273.4h6.2v3.8h-6.2zM106.0 277.0h6.2v3.8h-6.2zM177.4 277.0h6.2v3.8h-6.2zM141.7 280.6h6.2v3.8h-6.2zM177.4 280.6h6.2v3.8h-6.2zM225.1 280.6h6.2v3.8h-6.2zM195.3 284.3h6.2v3.8h-6.2zM159.6 287.9h12.1v3.8h-12.1zM207.2 287.9h6.2v3.8h-6.2zM135.7 291.5h6.2v3.8h-6.2zM171.5 291.5h12.1v3.8h-12.1zM189.3 291.5h12.1v3.8h-12.1zM219.1 291.5h12.1v3.8h-12.1zM106.0 295.1h6.2v3.8h-6.2zM97.5 298.7h8.7v3.8h-8.7zM111.9 298.7h6.2v3.8h-6.2zM129.8 298.7h18.1v3.8h-18.1zM153.6 298.7h12.1v3.8h-12.1zM111.9 302.3h18.1v3.8h-18.1zM135.7 302.3h24.0v3.8h-24.0zM97.5 305.9h8.7v3.8h-8.7zM135.7 305.9h24.0v3.8h-24.0zM195.3 305.9h6.2v3.8h-6.2zM97.5 309.5h14.6v3.8h-14.6zM153.6 309.5h6.2v3.8h-6.2zM165.5 309.5h6.2v3.8h-6.2zM106.0 313.1h12.1v3.8h-12.1zM141.7 313.1h18.1v3.8h-18.1zM225.1 313.1h6.2v3.8h-6.2zM97.5 316.7h14.6v3.8h-14.6zM123.8 316.7h6.2v3.8h-6.2zM135.7 316.7h6.2v3.8h-6.2zM147.7 316.7h18.1v3.8h-18.1zM97.5 320.3h26.5v3.8h-26.5zM135.7 320.3h24.0v3.8h-24.0zM165.5 320.3h6.2v3.8h-6.2zM195.3 320.3h6.2v3.8h-6.2zM225.1 320.3h6.2v3.8h-6.2zM97.5 323.9h8.7v3.8h-8.7zM123.8 323.9h6.2v3.8h-6.2zM135.7 323.9h6.2v3.8h-6.2zM147.7 323.9h24.0v3.8h-24.0zM225.1 323.9h6.2v3.8h-6.2zM106.0 327.6h6.2v3.8h-6.2zM147.7 327.6h6.2v3.8h-6.2zM159.6 327.6h6.2v3.8h-6.2zM135.7 331.2h6.2v3.8h-6.2zM147.7 331.2h6.2v3.8h-6.2zM159.6 331.2h6.2v3.8h-6.2zM97.5 334.8h8.7v3.8h-8.7zM111.9 334.8h6.2v3.8h-6.2zM123.8 334.8h12.1v3.8h-12.1zM147.7 334.8h12.1v3.8h-12.1zM165.5 334.8h6.2v3.8h-6.2zM225.1 334.8h6.2v3.8h-6.2zM97.5 338.4h20.6v3.8h-20.6zM123.8 338.4h6.2v3.8h-6.2zM141.7 338.4h24.0v3.8h-24.0zM111.9 342.0h6.2v6.3h-6.2zM135.7 342.0h12.1v6.3h-12.1zM153.6 342.0h18.1v6.3h-18.1z"/><path fill="#6570b0" d="M165.5 226.5h6.2v3.8h-6.2zM141.7 266.2h6.2v3.8h-6.2zM111.9 327.6h6.2v3.8h-6.2zM123.8 331.2h12.1v3.8h-12.1zM106.0 334.8h6.2v3.8h-6.2zM123.8 342.0h6.2v6.3h-6.2zM231.0 342.0h8.7v6.3h-8.7z"/><path fill="#8e909c" d="M177.4 226.5h12.1v3.8h-12.1zM201.3 230.1h6.2v3.8h-6.2zM195.3 233.7h6.2v3.8h-6.2zM177.4 237.3h6.2v3.8h-6.2zM189.3 241.0h12.1v3.8h-12.1zM177.4 248.2h6.2v3.8h-6.2zM189.3 248.2h12.1v3.8h-12.1zM177.4 255.4h6.2v3.8h-6.2zM189.3 255.4h12.1v3.8h-12.1zM177.4 259.0h6.2v3.8h-6.2zM177.4 269.8h6.2v3.8h-6.2zM189.3 280.6h6.2v3.8h-6.2zM189.3 284.3h6.2v3.8h-6.2zM201.3 284.3h6.2v3.8h-6.2zM183.4 287.9h12.1v3.8h-12.1zM201.3 287.9h6.2v3.8h-6.2zM201.3 295.1h6.2v3.8h-6.2zM129.8 320.3h6.2v3.8h-6.2zM129.8 323.9h6.2v3.8h-6.2zM129.8 327.6h12.1v3.8h-12.1zM135.7 338.4h6.2v3.8h-6.2z"/><path fill="#d02a26" d="M97.5 230.1h8.7v3.8h-8.7zM97.5 233.7h8.7v3.8h-8.7zM97.5 237.3h14.6v3.8h-14.6zM117.9 237.3h12.1v3.8h-12.1zM135.7 237.3h6.2v3.8h-6.2zM97.5 241.0h8.7v3.8h-8.7zM97.5 244.6h8.7v3.8h-8.7zM135.7 244.6h6.2v3.8h-6.2zM97.5 248.2h8.7v3.8h-8.7zM97.5 251.8h8.7v3.8h-8.7zM97.5 255.4h8.7v3.8h-8.7zM135.7 255.4h6.2v3.8h-6.2zM97.5 259.0h8.7v3.8h-8.7zM97.5 262.6h8.7v3.8h-8.7zM147.7 262.6h6.2v3.8h-6.2zM97.5 266.2h8.7v3.8h-8.7zM111.9 266.2h6.2v3.8h-6.2zM147.7 266.2h6.2v3.8h-6.2zM97.5 269.8h8.7v3.8h-8.7zM97.5 273.4h8.7v3.8h-8.7zM97.5 277.0h8.7v3.8h-8.7zM97.5 280.6h8.7v3.8h-8.7zM135.7 280.6h6.2v3.8h-6.2zM147.7 280.6h6.2v3.8h-6.2zM97.5 284.3h8.7v3.8h-8.7zM111.9 284.3h6.2v3.8h-6.2zM135.7 284.3h6.2v3.8h-6.2zM147.7 284.3h6.2v3.8h-6.2zM165.5 284.3h6.2v3.8h-6.2z"/></g>
<rect x="100.5" y="200.5" width="65.8" height="8" fill="#468c3c"/>
<rect x="166.3" y="200.5" width="70.2" height="8" fill="#d72830"/>
<rect x="100.5" y="200.5" width="136" height="8" fill="none" stroke="#111" stroke-width="1.3"/>
<rect x="100.5" y="210.3" width="66" height="8.8" fill="#8cc884"/>
<rect x="167" y="210.8" width="69.5" height="8" fill="#e8727a" stroke="#c8343c" stroke-width="0.9"/>
<rect x="167" y="210.3" width="5.3" height="8.8" fill="#8cc884"/>
<rect x="225.4" y="210.6" width="6.0" height="8.200000000000017" fill="#6cc07c" stroke="#5a3030" stroke-width="0.7"/>
<line x1="166.3" y1="199.8" x2="166.3" y2="345.6" stroke="#111" stroke-width="1.3"/>
<line x1="201.3" y1="199.8" x2="201.3" y2="345.6" stroke="#111" stroke-width="1.3"/>
<rect x="26.5" y="204.2" width="5.7" height="142.3" fill="url(#cb)"/>
<text x="23.0" y="210.7" font-size="5.2" font-weight="bold" font-style="normal" fill="#222" text-anchor="end" >4.0</text>
<text x="23.0" y="221.6" font-size="5.2" font-weight="bold" font-style="normal" fill="#222" text-anchor="end" >3.0</text>
<text x="23.0" y="232.5" font-size="5.2" font-weight="bold" font-style="normal" fill="#222" text-anchor="end" >2.5</text>
<text x="23.0" y="243.4" font-size="5.2" font-weight="bold" font-style="normal" fill="#222" text-anchor="end" >2.0</text>
<text x="23.0" y="254.3" font-size="5.2" font-weight="bold" font-style="normal" fill="#222" text-anchor="end" >1.5</text>
<text x="23.0" y="265.2" font-size="5.2" font-weight="bold" font-style="normal" fill="#222" text-anchor="end" >1.2</text>
<text x="23.0" y="276.1" font-size="5.2" font-weight="bold" font-style="normal" fill="#222" text-anchor="end" >1.0</text>
<text x="23.0" y="287.0" font-size="5.2" font-weight="bold" font-style="normal" fill="#222" text-anchor="end" >0.8</text>
<text x="23.0" y="297.9" font-size="5.2" font-weight="bold" font-style="normal" fill="#222" text-anchor="end" >0.7</text>
<text x="23.0" y="308.8" font-size="5.2" font-weight="bold" font-style="normal" fill="#222" text-anchor="end" >0.6</text>
<text x="23.0" y="319.7" font-size="5.2" font-weight="bold" font-style="normal" fill="#222" text-anchor="end" >0.5</text>
<text x="23.0" y="330.6" font-size="5.2" font-weight="bold" font-style="normal" fill="#222" text-anchor="end" >0.4</text>
<text x="23.0" y="341.5" font-size="5.2" font-weight="bold" font-style="normal" fill="#222" text-anchor="end" >0.3</text>
<text transform="translate(254.2,315.9) rotate(90)" font-size="6.4" font-weight="bold" fill="#222">35 Genes</text>
<path d="M252.6 327 V352.3 H231" fill="none" stroke="#444" stroke-width="0.8"/><circle cx="252.6" cy="327" r="0.9" fill="#333"/><circle cx="231" cy="352.3" r="0.9" fill="#333"/>
<text x="225" y="361.8" font-size="5.8" font-weight="bold" font-style="normal" fill="#222" text-anchor="start" >23 Samples</text>
<path d="M45.5 247.1V317.3M45.5 247.1H56.8M56.8 223.8V270.4M56.8 223.8H62.0M62.0 221.1V226.5M62.0 221.1H100.0M62.0 226.5H67.6M67.6 224.7V228.3M67.6 224.7H100.0M67.6 228.3H100.0M56.8 270.4H57.5M57.5 253.3V287.4M57.5 253.3H63.1M63.1 239.0V267.6M63.1 239.0H67.4M67.4 231.9V246.1M67.4 231.9H100.0M67.4 246.1H71.7M71.7 239.6V252.7M71.7 239.6H74.3M74.3 235.5V243.7M74.3 235.5H100.0M74.3 243.7H76.7M76.7 241.0V246.4M76.7 241.0H80.6M80.6 239.1V242.8M80.6 239.1H100.0M80.6 242.8H100.0M76.7 246.4H100.0M71.7 252.7H74.9M74.9 250.0V255.4M74.9 250.0H100.0M74.9 255.4H77.5M77.5 253.6V257.2M77.5 253.6H100.0M77.5 257.2H100.0M63.1 267.6H68.5M68.5 263.5V271.6M68.5 263.5H71.8M71.8 260.8V266.2M71.8 260.8H100.0M71.8 266.2H76.3M76.3 264.4V268.0M76.3 264.4H100.0M76.3 268.0H100.0M68.5 271.6H100.0M57.5 287.4H59.7M59.7 279.8V295.1M59.7 279.8H61.4M61.4 275.2V284.3M61.4 275.2H100.0M61.4 284.3H66.6M66.6 280.7V287.9M66.6 280.7H70.2M70.2 278.8V282.5M70.2 278.8H100.0M70.2 282.5H100.0M66.6 287.9H71.3M71.3 286.1V289.7M71.3 286.1H100.0M71.3 289.7H100.0M59.7 295.1H63.0M63.0 293.3V296.9M63.0 293.3H100.0M63.0 296.9H100.0M45.5 317.3H56.3M56.3 303.2V331.4M56.3 303.2H61.8M61.8 300.5V305.9M61.8 300.5H100.0M61.8 305.9H63.4M63.4 304.1V307.7M63.4 304.1H100.0M63.4 307.7H100.0M56.3 331.4H58.8M58.8 321.7V341.1M58.8 321.7H63.8M63.8 315.8V327.6M63.8 315.8H67.2M67.2 313.1V318.5M67.2 313.1H71.3M71.3 311.3V314.9M71.3 311.3H100.0M71.3 314.9H100.0M67.2 318.5H100.0M63.8 327.6H67.9M67.9 324.0V331.2M67.9 324.0H72.5M72.5 322.2V325.8M72.5 322.2H100.0M72.5 325.8H100.0M67.9 331.2H73.3M73.3 329.4V333.0M73.3 329.4H100.0M73.3 333.0H100.0M58.8 341.1H63.4M63.4 338.4V343.8M63.4 338.4H69.3M69.3 336.6V340.2M69.3 336.6H100.0M69.3 340.2H100.0M63.4 343.8H100.0" fill="none" stroke="#939393" stroke-width="0.65"/>
<rect x="43.5" y="261" width="1.7" height="21.5" fill="#444"/>
<text x="263.6" y="14.6" font-size="17" fill="#000" stroke="#000" stroke-width="0.45">C</text>
<text x="345" y="9.2" font-size="8.5" font-weight="bold" font-style="normal" fill="#50905a" text-anchor="middle" >Inf A</text>
<text x="407.8" y="8.8" font-size="8.6" font-weight="bold" font-style="italic" fill="#c2303c" text-anchor="middle" >E.coli</text>
<text x="479.7" y="8.8" font-size="8.2" font-weight="bold" font-style="italic" fill="#c2303c" text-anchor="middle" >S.pn</text>
<text transform="translate(323.3,17.9) scale(0.94,1)" font-size="6.5" font-weight="bold" fill="#1a1a1a" stroke="#1a1a1a" stroke-width="0.22" text-anchor="end">TRUE CLASS</text>
<text transform="translate(323.3,27.4) scale(0.94,1)" font-size="6.5" font-weight="bold" fill="#1a1a1a" stroke="#1a1a1a" stroke-width="0.22" text-anchor="end">K-NN CLASS</text>
<clipPath id="cC"><rect x="329.5" y="29.8" width="169.5" height="122.4"/></clipPath><g clip-path="url(#cC)" filter="url(#bl)" shape-rendering="crispEdges"><path fill="#e0522c" d="M327.0 27.3h7.3v6.2h-7.3zM471.5 33.3h4.8v3.7h-4.8zM338.7 43.8h4.8v3.7h-4.8zM347.8 43.8h4.8v3.7h-4.8zM471.5 43.8h4.8v3.7h-4.8zM338.7 50.8h4.8v3.7h-4.8zM347.8 50.8h4.8v3.7h-4.8zM398.2 50.8h4.8v3.7h-4.8zM398.2 57.8h4.8v3.7h-4.8zM444.0 57.8h4.8v3.7h-4.8zM453.2 61.3h4.8v3.7h-4.8zM352.4 64.8h4.8v3.7h-4.8zM439.4 68.3h9.4v3.7h-9.4zM347.8 71.8h4.8v3.7h-4.8zM462.4 71.8h4.8v3.7h-4.8zM352.4 75.3h4.8v3.7h-4.8zM398.2 75.3h4.8v3.7h-4.8zM327.0 89.3h7.3v3.7h-7.3zM366.1 89.3h4.8v3.7h-4.8zM453.2 89.3h4.8v3.7h-4.8zM327.0 96.2h7.3v3.7h-7.3zM327.0 99.7h7.3v3.7h-7.3zM343.2 99.7h4.8v3.7h-4.8zM338.7 103.2h4.8v3.7h-4.8zM375.3 103.2h13.9v3.7h-13.9zM407.4 131.2h4.8v3.7h-4.8zM370.7 138.2h4.8v3.7h-4.8zM448.6 138.2h4.8v3.7h-4.8zM457.8 138.2h4.8v3.7h-4.8zM476.1 141.7h9.4v3.7h-9.4zM407.4 145.2h4.8v3.7h-4.8zM416.5 145.2h4.8v3.7h-4.8z"/><path fill="#f6d42a" d="M334.1 27.3h4.8v6.2h-4.8zM352.4 27.3h4.8v6.2h-4.8zM361.6 27.3h4.8v6.2h-4.8zM389.1 27.3h9.4v6.2h-9.4zM407.4 27.3h4.8v6.2h-4.8zM421.1 27.3h9.4v6.2h-9.4zM439.4 27.3h18.5v6.2h-18.5zM476.1 27.3h9.4v6.2h-9.4zM494.4 27.3h7.3v6.2h-7.3zM334.1 33.3h9.4v3.7h-9.4zM352.4 33.3h4.8v3.7h-4.8zM361.6 33.3h4.8v3.7h-4.8zM384.5 33.3h9.4v3.7h-9.4zM434.9 33.3h4.8v3.7h-4.8zM457.8 33.3h4.8v3.7h-4.8zM476.1 33.3h4.8v3.7h-4.8zM334.1 36.8h4.8v3.7h-4.8zM384.5 36.8h4.8v3.7h-4.8zM434.9 36.8h4.8v3.7h-4.8zM462.4 36.8h4.8v3.7h-4.8zM485.3 36.8h4.8v3.7h-4.8zM384.5 40.3h9.4v3.7h-9.4zM407.4 40.3h4.8v3.7h-4.8zM416.5 40.3h4.8v3.7h-4.8zM462.4 40.3h4.8v3.7h-4.8zM480.7 40.3h4.8v3.7h-4.8zM434.9 43.8h4.8v3.7h-4.8zM453.2 43.8h4.8v3.7h-4.8zM476.1 43.8h25.6v3.7h-25.6zM379.9 47.3h9.4v3.7h-9.4zM434.9 47.3h4.8v3.7h-4.8zM444.0 47.3h4.8v3.7h-4.8zM457.8 47.3h4.8v3.7h-4.8zM389.1 50.8h9.4v3.7h-9.4zM457.8 50.8h4.8v3.7h-4.8zM384.5 54.3h4.8v3.7h-4.8zM444.0 54.3h4.8v3.7h-4.8zM379.9 57.8h4.8v3.7h-4.8zM370.7 61.3h4.8v3.7h-4.8zM379.9 61.3h4.8v3.7h-4.8zM407.4 61.3h4.8v3.7h-4.8zM434.9 61.3h4.8v3.7h-4.8zM457.8 61.3h9.4v3.7h-9.4zM361.6 64.8h4.8v3.7h-4.8zM384.5 64.8h9.4v3.7h-9.4zM416.5 64.8h4.8v3.7h-4.8zM466.9 64.8h4.8v3.7h-4.8zM389.1 68.3h4.8v3.7h-4.8zM462.4 68.3h4.8v3.7h-4.8zM352.4 71.8h4.8v3.7h-4.8zM370.7 71.8h4.8v3.7h-4.8zM384.5 71.8h9.4v3.7h-9.4zM402.8 71.8h4.8v3.7h-4.8zM421.1 71.8h9.4v3.7h-9.4zM434.9 71.8h9.4v3.7h-9.4zM448.6 71.8h4.8v3.7h-4.8zM457.8 71.8h4.8v3.7h-4.8zM361.6 75.3h4.8v3.7h-4.8zM389.1 75.3h4.8v3.7h-4.8zM402.8 75.3h4.8v3.7h-4.8zM421.1 75.3h4.8v3.7h-4.8zM439.4 75.3h4.8v3.7h-4.8zM471.5 75.3h4.8v3.7h-4.8zM352.4 78.8h4.8v3.7h-4.8zM407.4 78.8h4.8v3.7h-4.8zM416.5 78.8h13.9v3.7h-13.9zM434.9 78.8h9.4v3.7h-9.4zM471.5 78.8h4.8v3.7h-4.8zM389.1 82.3h4.8v3.7h-4.8zM398.2 82.3h13.9v3.7h-13.9zM393.6 85.8h4.8v3.7h-4.8zM402.8 85.8h13.9v3.7h-13.9zM462.4 85.8h4.8v3.7h-4.8zM471.5 85.8h4.8v3.7h-4.8zM334.1 89.3h4.8v3.7h-4.8zM402.8 89.3h4.8v3.7h-4.8zM444.0 89.3h4.8v3.7h-4.8zM462.4 89.3h4.8v3.7h-4.8zM471.5 89.3h4.8v3.7h-4.8zM347.8 92.7h4.8v3.7h-4.8zM379.9 92.7h4.8v3.7h-4.8zM393.6 92.7h4.8v3.7h-4.8zM402.8 92.7h4.8v3.7h-4.8zM444.0 92.7h4.8v3.7h-4.8zM457.8 92.7h4.8v3.7h-4.8zM352.4 96.2h4.8v3.7h-4.8zM375.3 96.2h4.8v3.7h-4.8zM444.0 96.2h13.9v3.7h-13.9zM476.1 96.2h13.9v3.7h-13.9zM366.1 99.7h4.8v3.7h-4.8zM407.4 99.7h4.8v3.7h-4.8zM416.5 99.7h9.4v3.7h-9.4zM439.4 99.7h9.4v3.7h-9.4zM457.8 99.7h4.8v3.7h-4.8zM471.5 99.7h4.8v3.7h-4.8zM485.3 99.7h4.8v3.7h-4.8zM494.4 99.7h7.3v3.7h-7.3zM407.4 103.2h9.4v3.7h-9.4zM421.1 103.2h9.4v3.7h-9.4zM444.0 103.2h4.8v3.7h-4.8zM466.9 103.2h4.8v3.7h-4.8zM494.4 103.2h7.3v3.7h-7.3zM338.7 106.7h4.8v3.7h-4.8zM357.0 106.7h4.8v3.7h-4.8zM375.3 106.7h9.4v3.7h-9.4zM389.1 106.7h18.5v3.7h-18.5zM412.0 106.7h4.8v3.7h-4.8zM425.7 106.7h4.8v3.7h-4.8zM439.4 106.7h4.8v3.7h-4.8zM448.6 106.7h9.4v3.7h-9.4zM466.9 106.7h9.4v3.7h-9.4zM485.3 106.7h4.8v3.7h-4.8zM494.4 106.7h7.3v3.7h-7.3zM334.1 110.2h9.4v3.7h-9.4zM361.6 110.2h4.8v3.7h-4.8zM370.7 110.2h4.8v3.7h-4.8zM379.9 110.2h18.5v3.7h-18.5zM402.8 110.2h13.9v3.7h-13.9zM421.1 110.2h4.8v3.7h-4.8zM434.9 110.2h4.8v3.7h-4.8zM444.0 110.2h4.8v3.7h-4.8zM453.2 110.2h9.4v3.7h-9.4zM466.9 110.2h9.4v3.7h-9.4zM485.3 110.2h4.8v3.7h-4.8zM494.4 110.2h7.3v3.7h-7.3zM352.4 113.7h4.8v3.7h-4.8zM370.7 113.7h4.8v3.7h-4.8zM384.5 113.7h13.9v3.7h-13.9zM402.8 113.7h4.8v3.7h-4.8zM412.0 113.7h4.8v3.7h-4.8zM421.1 113.7h9.4v3.7h-9.4zM439.4 113.7h4.8v3.7h-4.8zM462.4 113.7h4.8v3.7h-4.8zM494.4 113.7h7.3v3.7h-7.3zM352.4 117.2h4.8v3.7h-4.8zM370.7 117.2h9.4v3.7h-9.4zM402.8 117.2h4.8v3.7h-4.8zM434.9 117.2h4.8v3.7h-4.8zM444.0 117.2h4.8v3.7h-4.8zM471.5 117.2h9.4v3.7h-9.4zM485.3 117.2h4.8v3.7h-4.8zM370.7 120.7h4.8v3.7h-4.8zM402.8 120.7h4.8v3.7h-4.8zM430.3 120.7h4.8v3.7h-4.8zM439.4 120.7h4.8v3.7h-4.8zM466.9 120.7h13.9v3.7h-13.9zM485.3 120.7h4.8v3.7h-4.8zM494.4 120.7h7.3v3.7h-7.3zM352.4 124.2h4.8v3.7h-4.8zM370.7 124.2h9.4v3.7h-9.4zM393.6 124.2h4.8v3.7h-4.8zM402.8 124.2h4.8v3.7h-4.8zM439.4 124.2h9.4v3.7h-9.4zM466.9 124.2h4.8v3.7h-4.8zM476.1 124.2h13.9v3.7h-13.9zM494.4 124.2h7.3v3.7h-7.3zM375.3 127.7h4.8v3.7h-4.8zM389.1 127.7h13.9v3.7h-13.9zM430.3 127.7h18.5v3.7h-18.5zM453.2 127.7h9.4v3.7h-9.4zM471.5 127.7h13.9v3.7h-13.9zM489.8 127.7h4.8v3.7h-4.8zM370.7 131.2h18.5v3.7h-18.5zM439.4 131.2h4.8v3.7h-4.8zM462.4 131.2h4.8v3.7h-4.8zM489.8 131.2h11.9v3.7h-11.9zM361.6 134.7h4.8v3.7h-4.8zM370.7 134.7h4.8v3.7h-4.8zM384.5 134.7h4.8v3.7h-4.8zM407.4 134.7h4.8v3.7h-4.8zM421.1 134.7h4.8v3.7h-4.8zM439.4 134.7h13.9v3.7h-13.9zM471.5 134.7h4.8v3.7h-4.8zM480.7 134.7h4.8v3.7h-4.8zM494.4 134.7h7.3v3.7h-7.3zM338.7 138.2h4.8v3.7h-4.8zM375.3 138.2h4.8v3.7h-4.8zM393.6 138.2h4.8v3.7h-4.8zM412.0 138.2h4.8v3.7h-4.8zM439.4 138.2h4.8v3.7h-4.8zM494.4 138.2h7.3v3.7h-7.3zM347.8 141.7h4.8v3.7h-4.8zM375.3 141.7h4.8v3.7h-4.8zM384.5 141.7h13.9v3.7h-13.9zM407.4 141.7h4.8v3.7h-4.8zM416.5 141.7h9.4v3.7h-9.4zM430.3 141.7h9.4v3.7h-9.4zM444.0 141.7h18.5v3.7h-18.5zM471.5 141.7h4.8v3.7h-4.8zM489.8 141.7h4.8v3.7h-4.8zM361.6 145.2h4.8v3.7h-4.8zM384.5 145.2h9.4v3.7h-9.4zM430.3 145.2h4.8v3.7h-4.8zM439.4 145.2h4.8v3.7h-4.8zM448.6 145.2h4.8v3.7h-4.8zM476.1 145.2h4.8v3.7h-4.8zM494.4 145.2h7.3v3.7h-7.3zM366.1 148.7h4.8v6.2h-4.8zM384.5 148.7h13.9v6.2h-13.9zM407.4 148.7h4.8v6.2h-4.8zM430.3 148.7h4.8v6.2h-4.8zM453.2 148.7h13.9v6.2h-13.9zM471.5 148.7h4.8v6.2h-4.8z"/><path fill="#e2e23e" d="M338.7 27.3h4.8v6.2h-4.8zM457.8 27.3h9.4v6.2h-9.4zM485.3 27.3h4.8v6.2h-4.8zM466.9 33.3h4.8v3.7h-4.8zM485.3 33.3h4.8v3.7h-4.8zM494.4 33.3h7.3v3.7h-7.3zM352.4 36.8h4.8v3.7h-4.8zM389.1 36.8h4.8v3.7h-4.8zM421.1 36.8h4.8v3.7h-4.8zM444.0 36.8h4.8v3.7h-4.8zM457.8 36.8h4.8v3.7h-4.8zM476.1 36.8h4.8v3.7h-4.8zM352.4 40.3h4.8v3.7h-4.8zM425.7 40.3h4.8v3.7h-4.8zM453.2 40.3h4.8v3.7h-4.8zM466.9 40.3h4.8v3.7h-4.8zM389.1 43.8h4.8v3.7h-4.8zM407.4 43.8h4.8v3.7h-4.8zM416.5 43.8h9.4v3.7h-9.4zM439.4 43.8h4.8v3.7h-4.8zM402.8 47.3h9.4v3.7h-9.4zM462.4 47.3h4.8v3.7h-4.8zM334.1 50.8h4.8v3.7h-4.8zM370.7 50.8h4.8v3.7h-4.8zM407.4 54.3h4.8v3.7h-4.8zM466.9 54.3h4.8v3.7h-4.8zM384.5 57.8h4.8v3.7h-4.8zM434.9 57.8h4.8v3.7h-4.8zM389.1 61.3h4.8v3.7h-4.8zM416.5 61.3h4.8v3.7h-4.8zM402.8 64.8h4.8v3.7h-4.8zM421.1 64.8h9.4v3.7h-9.4zM434.9 64.8h4.8v3.7h-4.8zM361.6 68.3h4.8v3.7h-4.8zM361.6 71.8h4.8v3.7h-4.8zM398.2 71.8h4.8v3.7h-4.8zM416.5 71.8h4.8v3.7h-4.8zM384.5 75.3h4.8v3.7h-4.8zM425.7 75.3h4.8v3.7h-4.8zM434.9 75.3h4.8v3.7h-4.8zM334.1 78.8h4.8v3.7h-4.8zM412.0 78.8h4.8v3.7h-4.8zM393.6 82.3h4.8v3.7h-4.8zM434.9 82.3h4.8v3.7h-4.8zM379.9 85.8h4.8v3.7h-4.8zM389.1 85.8h4.8v3.7h-4.8zM398.2 85.8h4.8v3.7h-4.8zM434.9 85.8h4.8v3.7h-4.8zM453.2 85.8h4.8v3.7h-4.8zM421.1 89.3h4.8v3.7h-4.8zM370.7 92.7h9.4v3.7h-9.4zM453.2 92.7h4.8v3.7h-4.8zM471.5 92.7h4.8v3.7h-4.8zM421.1 96.2h4.8v3.7h-4.8zM494.4 96.2h7.3v3.7h-7.3zM352.4 99.7h4.8v3.7h-4.8zM361.6 99.7h4.8v3.7h-4.8zM425.7 99.7h13.9v3.7h-13.9zM466.9 99.7h4.8v3.7h-4.8zM480.7 99.7h4.8v3.7h-4.8zM361.6 103.2h4.8v3.7h-4.8zM416.5 103.2h4.8v3.7h-4.8zM448.6 103.2h4.8v3.7h-4.8zM462.4 103.2h4.8v3.7h-4.8zM480.7 103.2h4.8v3.7h-4.8zM361.6 106.7h9.4v3.7h-9.4zM416.5 106.7h4.8v3.7h-4.8zM444.0 106.7h4.8v3.7h-4.8zM457.8 106.7h9.4v3.7h-9.4zM357.0 110.2h4.8v3.7h-4.8zM375.3 110.2h4.8v3.7h-4.8zM425.7 110.2h4.8v3.7h-4.8zM448.6 110.2h4.8v3.7h-4.8zM462.4 110.2h4.8v3.7h-4.8zM489.8 110.2h4.8v3.7h-4.8zM375.3 113.7h9.4v3.7h-9.4zM398.2 113.7h4.8v3.7h-4.8zM466.9 113.7h4.8v3.7h-4.8zM489.8 113.7h4.8v3.7h-4.8zM379.9 117.2h4.8v3.7h-4.8zM393.6 117.2h4.8v3.7h-4.8zM412.0 117.2h4.8v3.7h-4.8zM439.4 117.2h4.8v3.7h-4.8zM466.9 117.2h4.8v3.7h-4.8zM489.8 117.2h4.8v3.7h-4.8zM352.4 120.7h4.8v3.7h-4.8zM375.3 120.7h9.4v3.7h-9.4zM393.6 120.7h4.8v3.7h-4.8zM453.2 120.7h4.8v3.7h-4.8zM480.7 120.7h4.8v3.7h-4.8zM489.8 120.7h4.8v3.7h-4.8zM379.9 124.2h9.4v3.7h-9.4zM434.9 124.2h4.8v3.7h-4.8zM453.2 124.2h4.8v3.7h-4.8zM471.5 124.2h4.8v3.7h-4.8zM489.8 124.2h4.8v3.7h-4.8zM338.7 127.7h4.8v3.7h-4.8zM352.4 127.7h4.8v3.7h-4.8zM384.5 127.7h4.8v3.7h-4.8zM402.8 127.7h4.8v3.7h-4.8zM466.9 127.7h4.8v3.7h-4.8zM494.4 127.7h7.3v3.7h-7.3zM352.4 131.2h4.8v3.7h-4.8zM361.6 131.2h4.8v3.7h-4.8zM393.6 131.2h4.8v3.7h-4.8zM402.8 131.2h4.8v3.7h-4.8zM453.2 131.2h4.8v3.7h-4.8zM485.3 131.2h4.8v3.7h-4.8zM334.1 134.7h4.8v3.7h-4.8zM343.2 134.7h4.8v3.7h-4.8zM357.0 134.7h4.8v3.7h-4.8zM366.1 134.7h4.8v3.7h-4.8zM398.2 134.7h9.4v3.7h-9.4zM434.9 134.7h4.8v3.7h-4.8zM334.1 138.2h4.8v3.7h-4.8zM343.2 138.2h4.8v3.7h-4.8zM352.4 138.2h4.8v3.7h-4.8zM366.1 138.2h4.8v3.7h-4.8zM389.1 138.2h4.8v3.7h-4.8zM407.4 138.2h4.8v3.7h-4.8zM444.0 138.2h4.8v3.7h-4.8zM476.1 138.2h4.8v3.7h-4.8zM361.6 141.7h4.8v3.7h-4.8zM398.2 141.7h9.4v3.7h-9.4zM439.4 141.7h4.8v3.7h-4.8zM343.2 145.2h4.8v3.7h-4.8zM402.8 145.2h4.8v3.7h-4.8zM444.0 145.2h4.8v3.7h-4.8zM457.8 145.2h4.8v3.7h-4.8zM489.8 145.2h4.8v3.7h-4.8zM338.7 148.7h4.8v6.2h-4.8zM347.8 148.7h4.8v6.2h-4.8zM361.6 148.7h4.8v6.2h-4.8zM425.7 148.7h4.8v6.2h-4.8zM448.6 148.7h4.8v6.2h-4.8z"/><path fill="#d02a26" d="M343.2 27.3h4.8v6.2h-4.8zM357.0 27.3h4.8v6.2h-4.8zM327.0 33.3h7.3v3.7h-7.3zM343.2 33.3h9.4v3.7h-9.4zM357.0 33.3h4.8v3.7h-4.8zM366.1 33.3h4.8v3.7h-4.8zM327.0 36.8h7.3v3.7h-7.3zM343.2 36.8h9.4v3.7h-9.4zM357.0 36.8h4.8v3.7h-4.8zM366.1 36.8h4.8v3.7h-4.8zM327.0 40.3h7.3v3.7h-7.3zM343.2 40.3h9.4v3.7h-9.4zM357.0 40.3h4.8v3.7h-4.8zM366.1 40.3h4.8v3.7h-4.8zM327.0 43.8h7.3v3.7h-7.3zM343.2 43.8h4.8v3.7h-4.8zM352.4 43.8h9.4v3.7h-9.4zM366.1 43.8h4.8v3.7h-4.8zM327.0 47.3h7.3v3.7h-7.3zM343.2 47.3h4.8v3.7h-4.8zM357.0 47.3h4.8v3.7h-4.8zM366.1 47.3h4.8v3.7h-4.8zM471.5 47.3h4.8v3.7h-4.8zM327.0 50.8h7.3v3.7h-7.3zM343.2 50.8h4.8v3.7h-4.8zM357.0 50.8h4.8v3.7h-4.8zM366.1 50.8h4.8v3.7h-4.8zM448.6 50.8h9.4v3.7h-9.4zM327.0 54.3h25.6v3.7h-25.6zM357.0 54.3h4.8v3.7h-4.8zM366.1 54.3h4.8v3.7h-4.8zM398.2 54.3h4.8v3.7h-4.8zM448.6 54.3h9.4v3.7h-9.4zM462.4 54.3h4.8v3.7h-4.8zM471.5 54.3h4.8v3.7h-4.8zM327.0 57.8h34.8v3.7h-34.8zM366.1 57.8h4.8v3.7h-4.8zM448.6 57.8h9.4v3.7h-9.4zM471.5 57.8h4.8v3.7h-4.8zM327.0 61.3h7.3v3.7h-7.3zM343.2 61.3h18.5v3.7h-18.5zM366.1 61.3h4.8v3.7h-4.8zM444.0 61.3h9.4v3.7h-9.4zM471.5 61.3h4.8v3.7h-4.8zM327.0 64.8h7.3v3.7h-7.3zM343.2 64.8h4.8v3.7h-4.8zM357.0 64.8h4.8v3.7h-4.8zM366.1 64.8h4.8v3.7h-4.8zM448.6 64.8h9.4v3.7h-9.4zM471.5 64.8h4.8v3.7h-4.8zM327.0 68.3h7.3v3.7h-7.3zM343.2 68.3h4.8v3.7h-4.8zM352.4 68.3h9.4v3.7h-9.4zM366.1 68.3h4.8v3.7h-4.8zM471.5 68.3h4.8v3.7h-4.8zM327.0 71.8h7.3v3.7h-7.3zM338.7 71.8h9.4v3.7h-9.4zM357.0 71.8h4.8v3.7h-4.8zM366.1 71.8h4.8v3.7h-4.8zM453.2 71.8h4.8v3.7h-4.8zM471.5 71.8h4.8v3.7h-4.8zM327.0 75.3h7.3v3.7h-7.3zM343.2 75.3h9.4v3.7h-9.4zM357.0 75.3h4.8v3.7h-4.8zM366.1 75.3h4.8v3.7h-4.8zM453.2 75.3h4.8v3.7h-4.8zM327.0 78.8h7.3v3.7h-7.3zM338.7 78.8h13.9v3.7h-13.9zM357.0 78.8h4.8v3.7h-4.8zM366.1 78.8h4.8v3.7h-4.8zM327.0 82.3h34.8v3.7h-34.8zM366.1 82.3h4.8v3.7h-4.8zM379.9 82.3h4.8v3.7h-4.8zM327.0 85.8h7.3v3.7h-7.3zM338.7 85.8h9.4v3.7h-9.4zM357.0 85.8h4.8v3.7h-4.8zM366.1 85.8h4.8v3.7h-4.8zM343.2 89.3h18.5v3.7h-18.5zM334.1 99.7h9.4v3.7h-9.4zM398.2 99.7h9.4v3.7h-9.4zM402.8 103.2h4.8v3.7h-4.8zM412.0 145.2h4.8v3.7h-4.8zM421.1 145.2h4.8v3.7h-4.8z"/><path fill="#f2b534" d="M347.8 27.3h4.8v6.2h-4.8zM434.9 27.3h4.8v6.2h-4.8zM471.5 27.3h4.8v6.2h-4.8zM398.2 33.3h4.8v3.7h-4.8zM407.4 33.3h4.8v3.7h-4.8zM444.0 33.3h4.8v3.7h-4.8zM462.4 33.3h4.8v3.7h-4.8zM338.7 36.8h4.8v3.7h-4.8zM361.6 36.8h4.8v3.7h-4.8zM398.2 36.8h4.8v3.7h-4.8zM448.6 36.8h4.8v3.7h-4.8zM334.1 40.3h4.8v3.7h-4.8zM361.6 43.8h4.8v3.7h-4.8zM398.2 43.8h4.8v3.7h-4.8zM444.0 43.8h9.4v3.7h-9.4zM462.4 43.8h9.4v3.7h-9.4zM334.1 47.3h4.8v3.7h-4.8zM352.4 47.3h4.8v3.7h-4.8zM361.6 47.3h4.8v3.7h-4.8zM389.1 47.3h4.8v3.7h-4.8zM453.2 47.3h4.8v3.7h-4.8zM352.4 50.8h4.8v3.7h-4.8zM384.5 50.8h4.8v3.7h-4.8zM434.9 50.8h4.8v3.7h-4.8zM462.4 50.8h4.8v3.7h-4.8zM471.5 50.8h4.8v3.7h-4.8zM352.4 54.3h4.8v3.7h-4.8zM389.1 54.3h4.8v3.7h-4.8zM434.9 54.3h4.8v3.7h-4.8zM457.8 54.3h4.8v3.7h-4.8zM361.6 57.8h4.8v3.7h-4.8zM389.1 57.8h4.8v3.7h-4.8zM334.1 61.3h4.8v3.7h-4.8zM466.9 61.3h4.8v3.7h-4.8zM334.1 64.8h9.4v3.7h-9.4zM347.8 64.8h4.8v3.7h-4.8zM398.2 64.8h4.8v3.7h-4.8zM457.8 64.8h4.8v3.7h-4.8zM347.8 68.3h4.8v3.7h-4.8zM379.9 68.3h4.8v3.7h-4.8zM407.4 68.3h4.8v3.7h-4.8zM448.6 68.3h4.8v3.7h-4.8zM334.1 71.8h4.8v3.7h-4.8zM334.1 75.3h9.4v3.7h-9.4zM361.6 78.8h4.8v3.7h-4.8zM416.5 82.3h4.8v3.7h-4.8zM444.0 82.3h4.8v3.7h-4.8zM453.2 82.3h4.8v3.7h-4.8zM462.4 82.3h4.8v3.7h-4.8zM471.5 82.3h4.8v3.7h-4.8zM334.1 85.8h4.8v3.7h-4.8zM347.8 85.8h4.8v3.7h-4.8zM361.6 85.8h4.8v3.7h-4.8zM466.9 85.8h4.8v3.7h-4.8zM489.8 85.8h4.8v3.7h-4.8zM361.6 89.3h4.8v3.7h-4.8zM398.2 89.3h4.8v3.7h-4.8zM457.8 89.3h4.8v3.7h-4.8zM327.0 92.7h7.3v3.7h-7.3zM343.2 92.7h4.8v3.7h-4.8zM352.4 92.7h4.8v3.7h-4.8zM361.6 92.7h4.8v3.7h-4.8zM384.5 92.7h9.4v3.7h-9.4zM398.2 92.7h4.8v3.7h-4.8zM334.1 96.2h4.8v3.7h-4.8zM347.8 96.2h4.8v3.7h-4.8zM357.0 96.2h4.8v3.7h-4.8zM389.1 96.2h4.8v3.7h-4.8zM402.8 96.2h4.8v3.7h-4.8zM357.0 99.7h4.8v3.7h-4.8zM379.9 99.7h4.8v3.7h-4.8zM393.6 99.7h4.8v3.7h-4.8zM347.8 103.2h4.8v3.7h-4.8zM366.1 103.2h4.8v3.7h-4.8zM398.2 103.2h4.8v3.7h-4.8zM370.7 106.7h4.8v3.7h-4.8zM384.5 106.7h4.8v3.7h-4.8zM430.3 106.7h4.8v3.7h-4.8zM476.1 106.7h9.4v3.7h-9.4zM489.8 106.7h4.8v3.7h-4.8zM480.7 110.2h4.8v3.7h-4.8zM407.4 113.7h4.8v3.7h-4.8zM416.5 113.7h4.8v3.7h-4.8zM430.3 113.7h4.8v3.7h-4.8zM453.2 113.7h4.8v3.7h-4.8zM471.5 113.7h4.8v3.7h-4.8zM480.7 113.7h4.8v3.7h-4.8zM416.5 117.2h4.8v3.7h-4.8zM425.7 117.2h9.4v3.7h-9.4zM448.6 117.2h4.8v3.7h-4.8zM457.8 117.2h9.4v3.7h-9.4zM480.7 117.2h4.8v3.7h-4.8zM412.0 120.7h9.4v3.7h-9.4zM425.7 120.7h4.8v3.7h-4.8zM412.0 124.2h4.8v3.7h-4.8zM462.4 124.2h4.8v3.7h-4.8zM370.7 127.7h4.8v3.7h-4.8zM379.9 127.7h4.8v3.7h-4.8zM416.5 127.7h4.8v3.7h-4.8zM448.6 127.7h4.8v3.7h-4.8zM389.1 131.2h4.8v3.7h-4.8zM412.0 131.2h4.8v3.7h-4.8zM421.1 131.2h4.8v3.7h-4.8zM457.8 131.2h4.8v3.7h-4.8zM466.9 131.2h9.4v3.7h-9.4zM480.7 131.2h4.8v3.7h-4.8zM375.3 134.7h4.8v3.7h-4.8zM416.5 134.7h4.8v3.7h-4.8zM425.7 134.7h9.4v3.7h-9.4zM453.2 134.7h4.8v3.7h-4.8zM462.4 134.7h4.8v3.7h-4.8zM476.1 134.7h4.8v3.7h-4.8zM489.8 134.7h4.8v3.7h-4.8zM361.6 138.2h4.8v3.7h-4.8zM416.5 138.2h4.8v3.7h-4.8zM425.7 138.2h4.8v3.7h-4.8zM379.9 141.7h4.8v3.7h-4.8zM412.0 141.7h4.8v3.7h-4.8zM425.7 141.7h4.8v3.7h-4.8zM393.6 145.2h4.8v3.7h-4.8zM425.7 145.2h4.8v3.7h-4.8zM434.9 145.2h4.8v3.7h-4.8zM462.4 145.2h9.4v3.7h-9.4zM375.3 148.7h4.8v6.2h-4.8zM398.2 148.7h4.8v6.2h-4.8zM416.5 148.7h4.8v6.2h-4.8zM434.9 148.7h4.8v6.2h-4.8zM466.9 148.7h4.8v6.2h-4.8z"/><path fill="#b8b25e" d="M366.1 27.3h4.8v6.2h-4.8zM384.5 27.3h4.8v6.2h-4.8zM402.8 27.3h4.8v6.2h-4.8zM489.8 33.3h4.8v3.7h-4.8zM407.4 36.8h4.8v3.7h-4.8zM480.7 36.8h4.8v3.7h-4.8zM361.6 40.3h4.8v3.7h-4.8zM457.8 40.3h4.8v3.7h-4.8zM384.5 43.8h4.8v3.7h-4.8zM347.8 47.3h4.8v3.7h-4.8zM416.5 47.3h4.8v3.7h-4.8zM439.4 47.3h4.8v3.7h-4.8zM407.4 50.8h4.8v3.7h-4.8zM416.5 50.8h4.8v3.7h-4.8zM494.4 54.3h7.3v3.7h-7.3zM407.4 57.8h4.8v3.7h-4.8zM466.9 57.8h4.8v3.7h-4.8zM494.4 57.8h7.3v3.7h-7.3zM384.5 61.3h4.8v3.7h-4.8zM402.8 61.3h4.8v3.7h-4.8zM407.4 64.8h4.8v3.7h-4.8zM439.4 64.8h4.8v3.7h-4.8zM375.3 68.3h4.8v3.7h-4.8zM393.6 68.3h4.8v3.7h-4.8zM402.8 68.3h4.8v3.7h-4.8zM466.9 68.3h4.8v3.7h-4.8zM466.9 71.8h4.8v3.7h-4.8zM480.7 71.8h4.8v3.7h-4.8zM384.5 78.8h9.4v3.7h-9.4zM430.3 78.8h4.8v3.7h-4.8zM480.7 78.8h4.8v3.7h-4.8zM425.7 82.3h4.8v3.7h-4.8zM425.7 85.8h4.8v3.7h-4.8zM476.1 92.7h9.4v3.7h-9.4zM412.0 99.7h4.8v3.7h-4.8zM476.1 99.7h4.8v3.7h-4.8zM357.0 103.2h4.8v3.7h-4.8zM430.3 103.2h4.8v3.7h-4.8zM453.2 103.2h4.8v3.7h-4.8zM334.1 106.7h4.8v3.7h-4.8zM352.4 106.7h4.8v3.7h-4.8zM352.4 110.2h4.8v3.7h-4.8zM444.0 113.7h4.8v3.7h-4.8zM338.7 117.2h4.8v3.7h-4.8zM361.6 117.2h4.8v3.7h-4.8zM407.4 117.2h4.8v3.7h-4.8zM434.9 120.7h4.8v3.7h-4.8zM444.0 120.7h4.8v3.7h-4.8zM334.1 127.7h4.8v3.7h-4.8zM343.2 127.7h4.8v3.7h-4.8zM361.6 127.7h4.8v3.7h-4.8zM485.3 127.7h4.8v3.7h-4.8zM434.9 131.2h4.8v3.7h-4.8zM444.0 131.2h4.8v3.7h-4.8zM476.1 131.2h4.8v3.7h-4.8zM338.7 134.7h4.8v3.7h-4.8zM389.1 134.7h9.4v3.7h-9.4zM412.0 134.7h4.8v3.7h-4.8zM379.9 138.2h4.8v3.7h-4.8zM480.7 138.2h4.8v3.7h-4.8zM489.8 138.2h4.8v3.7h-4.8zM343.2 141.7h4.8v3.7h-4.8zM352.4 141.7h4.8v3.7h-4.8zM366.1 141.7h4.8v3.7h-4.8zM338.7 145.2h4.8v3.7h-4.8zM398.2 145.2h4.8v3.7h-4.8zM343.2 148.7h4.8v6.2h-4.8zM476.1 148.7h4.8v6.2h-4.8zM494.4 148.7h7.3v6.2h-7.3z"/><path fill="#8e909c" d="M370.7 27.3h4.8v6.2h-4.8zM416.5 27.3h4.8v6.2h-4.8zM480.7 33.3h4.8v3.7h-4.8zM439.4 36.8h4.8v3.7h-4.8zM476.1 40.3h4.8v3.7h-4.8zM494.4 40.3h7.3v3.7h-7.3zM379.9 43.8h4.8v3.7h-4.8zM457.8 43.8h4.8v3.7h-4.8zM370.7 47.3h4.8v3.7h-4.8zM421.1 47.3h4.8v3.7h-4.8zM466.9 47.3h4.8v3.7h-4.8zM402.8 54.3h4.8v3.7h-4.8zM489.8 54.3h4.8v3.7h-4.8zM494.4 61.3h7.3v3.7h-7.3zM489.8 71.8h4.8v3.7h-4.8zM485.3 92.7h9.4v3.7h-9.4zM462.4 96.2h4.8v3.7h-4.8zM453.2 99.7h4.8v3.7h-4.8zM434.9 106.7h4.8v3.7h-4.8zM334.1 113.7h4.8v3.7h-4.8zM361.6 113.7h4.8v3.7h-4.8zM366.1 117.2h4.8v3.7h-4.8zM389.1 117.2h4.8v3.7h-4.8zM398.2 117.2h4.8v3.7h-4.8zM334.1 120.7h13.9v3.7h-13.9zM389.1 120.7h4.8v3.7h-4.8zM398.2 120.7h4.8v3.7h-4.8zM338.7 124.2h9.4v3.7h-9.4zM361.6 124.2h9.4v3.7h-9.4zM389.1 124.2h4.8v3.7h-4.8zM398.2 124.2h4.8v3.7h-4.8zM352.4 134.7h4.8v3.7h-4.8zM485.3 138.2h4.8v3.7h-4.8zM453.2 145.2h4.8v3.7h-4.8zM334.1 148.7h4.8v6.2h-4.8z"/><path fill="#4352ac" d="M375.3 27.3h9.4v6.2h-9.4zM412.0 27.3h4.8v6.2h-4.8zM430.3 27.3h4.8v6.2h-4.8zM489.8 27.3h4.8v6.2h-4.8zM370.7 33.3h13.9v3.7h-13.9zM393.6 33.3h4.8v3.7h-4.8zM402.8 33.3h4.8v3.7h-4.8zM412.0 33.3h23.1v3.7h-23.1zM439.4 33.3h4.8v3.7h-4.8zM370.7 36.8h13.9v3.7h-13.9zM393.6 36.8h4.8v3.7h-4.8zM402.8 36.8h4.8v3.7h-4.8zM412.0 36.8h9.4v3.7h-9.4zM425.7 36.8h9.4v3.7h-9.4zM489.8 36.8h4.8v3.7h-4.8zM370.7 40.3h13.9v3.7h-13.9zM393.6 40.3h4.8v3.7h-4.8zM402.8 40.3h4.8v3.7h-4.8zM412.0 40.3h4.8v3.7h-4.8zM421.1 40.3h4.8v3.7h-4.8zM430.3 40.3h4.8v3.7h-4.8zM439.4 40.3h4.8v3.7h-4.8zM485.3 40.3h9.4v3.7h-9.4zM370.7 43.8h9.4v3.7h-9.4zM393.6 43.8h4.8v3.7h-4.8zM402.8 43.8h4.8v3.7h-4.8zM412.0 43.8h4.8v3.7h-4.8zM425.7 43.8h9.4v3.7h-9.4zM375.3 47.3h4.8v3.7h-4.8zM393.6 47.3h4.8v3.7h-4.8zM412.0 47.3h4.8v3.7h-4.8zM425.7 47.3h9.4v3.7h-9.4zM476.1 47.3h18.5v3.7h-18.5zM375.3 50.8h9.4v3.7h-9.4zM412.0 50.8h4.8v3.7h-4.8zM421.1 50.8h13.9v3.7h-13.9zM439.4 50.8h4.8v3.7h-4.8zM466.9 50.8h4.8v3.7h-4.8zM476.1 50.8h25.6v3.7h-25.6zM370.7 54.3h13.9v3.7h-13.9zM393.6 54.3h4.8v3.7h-4.8zM412.0 54.3h23.1v3.7h-23.1zM439.4 54.3h4.8v3.7h-4.8zM476.1 54.3h13.9v3.7h-13.9zM370.7 57.8h9.4v3.7h-9.4zM393.6 57.8h4.8v3.7h-4.8zM402.8 57.8h4.8v3.7h-4.8zM412.0 57.8h23.1v3.7h-23.1zM439.4 57.8h4.8v3.7h-4.8zM476.1 57.8h18.5v3.7h-18.5zM375.3 61.3h4.8v3.7h-4.8zM393.6 61.3h4.8v3.7h-4.8zM412.0 61.3h4.8v3.7h-4.8zM421.1 61.3h13.9v3.7h-13.9zM439.4 61.3h4.8v3.7h-4.8zM476.1 61.3h18.5v3.7h-18.5zM370.7 64.8h13.9v3.7h-13.9zM393.6 64.8h4.8v3.7h-4.8zM412.0 64.8h4.8v3.7h-4.8zM430.3 64.8h4.8v3.7h-4.8zM476.1 64.8h25.6v3.7h-25.6zM412.0 68.3h23.1v3.7h-23.1zM476.1 68.3h25.6v3.7h-25.6zM375.3 71.8h9.4v3.7h-9.4zM393.6 71.8h4.8v3.7h-4.8zM407.4 71.8h9.4v3.7h-9.4zM430.3 71.8h4.8v3.7h-4.8zM476.1 71.8h4.8v3.7h-4.8zM485.3 71.8h4.8v3.7h-4.8zM494.4 71.8h7.3v3.7h-7.3zM370.7 75.3h9.4v3.7h-9.4zM393.6 75.3h4.8v3.7h-4.8zM407.4 75.3h13.9v3.7h-13.9zM430.3 75.3h4.8v3.7h-4.8zM466.9 75.3h4.8v3.7h-4.8zM476.1 75.3h25.6v3.7h-25.6zM370.7 78.8h13.9v3.7h-13.9zM393.6 78.8h4.8v3.7h-4.8zM402.8 78.8h4.8v3.7h-4.8zM448.6 78.8h4.8v3.7h-4.8zM457.8 78.8h4.8v3.7h-4.8zM466.9 78.8h4.8v3.7h-4.8zM476.1 78.8h4.8v3.7h-4.8zM485.3 78.8h16.4v3.7h-16.4zM375.3 82.3h4.8v3.7h-4.8zM384.5 82.3h4.8v3.7h-4.8zM412.0 82.3h4.8v3.7h-4.8zM421.1 82.3h4.8v3.7h-4.8zM430.3 82.3h4.8v3.7h-4.8zM439.4 82.3h4.8v3.7h-4.8zM457.8 82.3h4.8v3.7h-4.8zM466.9 82.3h4.8v3.7h-4.8zM476.1 82.3h25.6v3.7h-25.6zM352.4 85.8h4.8v3.7h-4.8zM370.7 85.8h4.8v3.7h-4.8zM384.5 85.8h4.8v3.7h-4.8zM416.5 85.8h9.4v3.7h-9.4zM430.3 85.8h4.8v3.7h-4.8zM439.4 85.8h4.8v3.7h-4.8zM476.1 85.8h13.9v3.7h-13.9zM494.4 85.8h7.3v3.7h-7.3zM370.7 89.3h18.5v3.7h-18.5zM393.6 89.3h4.8v3.7h-4.8zM407.4 89.3h13.9v3.7h-13.9zM425.7 89.3h18.5v3.7h-18.5zM476.1 89.3h25.6v3.7h-25.6zM407.4 92.7h36.8v3.7h-36.8zM448.6 92.7h4.8v3.7h-4.8zM361.6 96.2h4.8v3.7h-4.8zM370.7 96.2h4.8v3.7h-4.8zM379.9 96.2h9.4v3.7h-9.4zM393.6 96.2h4.8v3.7h-4.8zM407.4 96.2h13.9v3.7h-13.9zM425.7 96.2h13.9v3.7h-13.9zM448.6 99.7h4.8v3.7h-4.8zM462.4 99.7h4.8v3.7h-4.8zM489.8 99.7h4.8v3.7h-4.8zM352.4 103.2h4.8v3.7h-4.8zM434.9 103.2h9.4v3.7h-9.4zM457.8 103.2h4.8v3.7h-4.8zM471.5 103.2h9.4v3.7h-9.4zM485.3 103.2h9.4v3.7h-9.4zM327.0 106.7h7.3v3.7h-7.3zM343.2 106.7h9.4v3.7h-9.4zM327.0 110.2h7.3v3.7h-7.3zM343.2 110.2h9.4v3.7h-9.4zM366.1 110.2h4.8v3.7h-4.8zM327.0 113.7h7.3v3.7h-7.3zM338.7 113.7h13.9v3.7h-13.9zM357.0 113.7h4.8v3.7h-4.8zM366.1 113.7h4.8v3.7h-4.8zM434.9 113.7h4.8v3.7h-4.8zM327.0 117.2h11.9v3.7h-11.9zM343.2 117.2h9.4v3.7h-9.4zM357.0 117.2h4.8v3.7h-4.8zM384.5 117.2h4.8v3.7h-4.8zM327.0 120.7h7.3v3.7h-7.3zM347.8 120.7h4.8v3.7h-4.8zM357.0 120.7h13.9v3.7h-13.9zM384.5 120.7h4.8v3.7h-4.8zM327.0 124.2h11.9v3.7h-11.9zM347.8 124.2h4.8v3.7h-4.8zM357.0 124.2h4.8v3.7h-4.8zM327.0 127.7h7.3v3.7h-7.3zM347.8 127.7h4.8v3.7h-4.8zM357.0 127.7h4.8v3.7h-4.8zM366.1 127.7h4.8v3.7h-4.8zM327.0 131.2h25.6v3.7h-25.6zM357.0 131.2h4.8v3.7h-4.8zM366.1 131.2h4.8v3.7h-4.8zM398.2 131.2h4.8v3.7h-4.8zM327.0 134.7h7.3v3.7h-7.3zM347.8 134.7h4.8v3.7h-4.8zM327.0 138.2h7.3v3.7h-7.3zM347.8 138.2h4.8v3.7h-4.8zM357.0 138.2h4.8v3.7h-4.8zM384.5 138.2h4.8v3.7h-4.8zM398.2 138.2h4.8v3.7h-4.8zM434.9 138.2h4.8v3.7h-4.8zM466.9 138.2h4.8v3.7h-4.8zM327.0 141.7h16.4v3.7h-16.4zM357.0 141.7h4.8v3.7h-4.8zM327.0 145.2h7.3v3.7h-7.3zM347.8 145.2h13.9v3.7h-13.9zM366.1 145.2h4.8v3.7h-4.8zM471.5 145.2h4.8v3.7h-4.8zM327.0 148.7h7.3v6.2h-7.3zM357.0 148.7h4.8v6.2h-4.8zM480.7 148.7h13.9v6.2h-13.9z"/><path fill="#eb8e2e" d="M398.2 27.3h4.8v6.2h-4.8zM466.9 27.3h4.8v6.2h-4.8zM448.6 33.3h9.4v3.7h-9.4zM453.2 36.8h4.8v3.7h-4.8zM466.9 36.8h9.4v3.7h-9.4zM338.7 40.3h4.8v3.7h-4.8zM398.2 40.3h4.8v3.7h-4.8zM434.9 40.3h4.8v3.7h-4.8zM444.0 40.3h9.4v3.7h-9.4zM471.5 40.3h4.8v3.7h-4.8zM334.1 43.8h4.8v3.7h-4.8zM338.7 47.3h4.8v3.7h-4.8zM398.2 47.3h4.8v3.7h-4.8zM448.6 47.3h4.8v3.7h-4.8zM361.6 50.8h4.8v3.7h-4.8zM444.0 50.8h4.8v3.7h-4.8zM361.6 54.3h4.8v3.7h-4.8zM457.8 57.8h9.4v3.7h-9.4zM338.7 61.3h4.8v3.7h-4.8zM361.6 61.3h4.8v3.7h-4.8zM398.2 61.3h4.8v3.7h-4.8zM444.0 64.8h4.8v3.7h-4.8zM462.4 64.8h4.8v3.7h-4.8zM334.1 68.3h9.4v3.7h-9.4zM384.5 68.3h4.8v3.7h-4.8zM398.2 68.3h4.8v3.7h-4.8zM434.9 68.3h4.8v3.7h-4.8zM453.2 68.3h4.8v3.7h-4.8zM444.0 71.8h4.8v3.7h-4.8zM444.0 75.3h9.4v3.7h-9.4zM457.8 75.3h9.4v3.7h-9.4zM398.2 78.8h4.8v3.7h-4.8zM444.0 78.8h4.8v3.7h-4.8zM453.2 78.8h4.8v3.7h-4.8zM462.4 78.8h4.8v3.7h-4.8zM361.6 82.3h4.8v3.7h-4.8zM448.6 82.3h4.8v3.7h-4.8zM444.0 85.8h9.4v3.7h-9.4zM457.8 85.8h4.8v3.7h-4.8zM338.7 89.3h4.8v3.7h-4.8zM389.1 89.3h4.8v3.7h-4.8zM448.6 89.3h4.8v3.7h-4.8zM466.9 89.3h4.8v3.7h-4.8zM334.1 92.7h9.4v3.7h-9.4zM357.0 92.7h4.8v3.7h-4.8zM366.1 92.7h4.8v3.7h-4.8zM462.4 92.7h9.4v3.7h-9.4zM338.7 96.2h9.4v3.7h-9.4zM366.1 96.2h4.8v3.7h-4.8zM398.2 96.2h4.8v3.7h-4.8zM457.8 96.2h4.8v3.7h-4.8zM466.9 96.2h9.4v3.7h-9.4zM489.8 96.2h4.8v3.7h-4.8zM347.8 99.7h4.8v3.7h-4.8zM370.7 99.7h9.4v3.7h-9.4zM384.5 99.7h9.4v3.7h-9.4zM327.0 103.2h11.9v3.7h-11.9zM343.2 103.2h4.8v3.7h-4.8zM370.7 103.2h4.8v3.7h-4.8zM389.1 103.2h9.4v3.7h-9.4zM407.4 106.7h4.8v3.7h-4.8zM421.1 106.7h4.8v3.7h-4.8zM398.2 110.2h4.8v3.7h-4.8zM416.5 110.2h4.8v3.7h-4.8zM430.3 110.2h4.8v3.7h-4.8zM439.4 110.2h4.8v3.7h-4.8zM476.1 110.2h4.8v3.7h-4.8zM448.6 113.7h4.8v3.7h-4.8zM457.8 113.7h4.8v3.7h-4.8zM476.1 113.7h4.8v3.7h-4.8zM485.3 113.7h4.8v3.7h-4.8zM421.1 117.2h4.8v3.7h-4.8zM453.2 117.2h4.8v3.7h-4.8zM494.4 117.2h7.3v3.7h-7.3zM407.4 120.7h4.8v3.7h-4.8zM421.1 120.7h4.8v3.7h-4.8zM448.6 120.7h4.8v3.7h-4.8zM457.8 120.7h9.4v3.7h-9.4zM407.4 124.2h4.8v3.7h-4.8zM416.5 124.2h18.5v3.7h-18.5zM448.6 124.2h4.8v3.7h-4.8zM457.8 124.2h4.8v3.7h-4.8zM407.4 127.7h9.4v3.7h-9.4zM421.1 127.7h9.4v3.7h-9.4zM462.4 127.7h4.8v3.7h-4.8zM416.5 131.2h4.8v3.7h-4.8zM425.7 131.2h9.4v3.7h-9.4zM448.6 131.2h4.8v3.7h-4.8zM379.9 134.7h4.8v3.7h-4.8zM457.8 134.7h4.8v3.7h-4.8zM466.9 134.7h4.8v3.7h-4.8zM485.3 134.7h4.8v3.7h-4.8zM402.8 138.2h4.8v3.7h-4.8zM421.1 138.2h4.8v3.7h-4.8zM430.3 138.2h4.8v3.7h-4.8zM453.2 138.2h4.8v3.7h-4.8zM462.4 138.2h4.8v3.7h-4.8zM471.5 138.2h4.8v3.7h-4.8zM370.7 141.7h4.8v3.7h-4.8zM462.4 141.7h9.4v3.7h-9.4zM485.3 141.7h4.8v3.7h-4.8zM494.4 141.7h7.3v3.7h-7.3zM370.7 145.2h13.9v3.7h-13.9zM370.7 148.7h4.8v6.2h-4.8zM379.9 148.7h4.8v6.2h-4.8zM402.8 148.7h4.8v6.2h-4.8zM412.0 148.7h4.8v6.2h-4.8zM421.1 148.7h4.8v6.2h-4.8zM439.4 148.7h9.4v6.2h-9.4z"/><path fill="#6570b0" d="M494.4 36.8h7.3v3.7h-7.3zM494.4 47.3h7.3v3.7h-7.3zM402.8 50.8h4.8v3.7h-4.8zM370.7 68.3h4.8v3.7h-4.8zM457.8 68.3h4.8v3.7h-4.8zM379.9 75.3h4.8v3.7h-4.8zM370.7 82.3h4.8v3.7h-4.8zM375.3 85.8h4.8v3.7h-4.8zM494.4 92.7h7.3v3.7h-7.3zM439.4 96.2h4.8v3.7h-4.8zM334.1 145.2h4.8v3.7h-4.8zM480.7 145.2h9.4v3.7h-9.4zM352.4 148.7h4.8v6.2h-4.8z"/></g>
<rect x="329.5" y="11.8" width="31.3" height="7.8" fill="#fff" stroke="#4f9a48" stroke-width="1.2"/>
<rect x="361" y="11.8" width="137.5" height="7.8" fill="#fff" stroke="#d83038" stroke-width="1.2"/>
<rect x="329.5" y="20.6" width="31.3" height="8.9" fill="#8cc884"/>
<rect x="361.6" y="21" width="137" height="8.1" fill="#e8727a" stroke="#c8343c" stroke-width="0.9"/>
<rect x="361.8" y="21" width="4.6" height="8.1" fill="#e03034"/>
<rect x="366.4" y="21" width="3.4" height="8.1" fill="#6cc07c"/>
<rect x="384.6" y="21.4" width="3" height="7.4" fill="#e8e8e8" stroke="#111" stroke-width="0.9"/>
<line x1="274.9" y1="19.9" x2="499" y2="19.9" stroke="#111" stroke-width="1.4"/>
<line x1="361" y1="11" x2="361" y2="152.2" stroke="#111" stroke-width="1.5"/>
<line x1="462" y1="11" x2="462" y2="152.2" stroke="#111" stroke-width="1.5"/>
<text transform="translate(511.4,129.5) rotate(90)" font-size="6.35" font-weight="bold" fill="#222">35 Genes</text>
<path d="M505 135.8 V161.3 H481.8" fill="none" stroke="#444" stroke-width="0.8"/><circle cx="505" cy="135.8" r="0.9" fill="#333"/><circle cx="481.8" cy="161.3" r="0.9" fill="#333"/>
<text x="475.3" y="170.8" font-size="6.3" font-weight="bold" font-style="normal" fill="#222" text-anchor="start" >37 Samples</text>
<path d="M305.0 86.4V131.7M305.0 86.4H306.5M306.5 71.3V101.5M306.5 71.3H308.0M308.0 55.4V87.3M308.0 55.4H310.9M310.9 40.8V70.0M310.9 40.8H314.2M314.2 31.5V50.0M314.2 31.5H329.5M314.2 50.0H317.3M317.3 39.0V61.1M317.3 39.0H319.8M319.8 35.0V42.9M319.8 35.0H329.5M319.8 42.9H321.0M321.0 40.3V45.5M321.0 40.3H324.1M324.1 38.5V42.0M324.1 38.5H329.5M324.1 42.0H329.5M321.0 45.5H329.5M317.3 61.1H319.6M319.6 55.6V66.5M319.6 55.6H321.0M321.0 50.8V60.4M321.0 50.8H322.9M322.9 49.0V52.5M322.9 49.0H329.5M322.9 52.5H329.5M321.0 60.4H324.3M324.3 57.8V63.0M324.3 57.8H325.5M325.5 56.0V59.5M325.5 56.0H329.5M325.5 59.5H329.5M324.3 63.0H329.5M319.6 66.5H329.5M310.9 70.0H329.5M308.0 87.3H309.2M309.2 79.2V95.4M309.2 79.2H311.2M311.2 75.3V83.1M311.2 75.3H312.0M312.0 73.5V77.0M312.0 73.5H329.5M312.0 77.0H329.5M311.2 83.1H312.5M312.5 80.5V85.8M312.5 80.5H329.5M312.5 85.8H315.9M315.9 84.0V87.5M315.9 84.0H329.5M315.9 87.5H329.5M309.2 95.4H312.3M312.3 92.7V98.0M312.3 92.7H314.0M314.0 91.0V94.5M314.0 91.0H329.5M314.0 94.5H329.5M312.3 98.0H329.5M306.5 101.5H329.5M305.0 131.7H306.0M306.0 118.5V144.8M306.0 118.5H309.6M309.6 112.4V124.7M309.6 112.4H311.2M311.2 109.4V115.5M311.2 109.4H312.8M312.8 106.7V112.0M312.8 106.7H314.7M314.7 105.0V108.5M314.7 105.0H329.5M314.7 108.5H329.5M312.8 112.0H329.5M311.2 115.5H329.5M309.6 124.7H311.9M311.9 120.7V128.6M311.9 120.7H313.7M313.7 119.0V122.5M313.7 119.0H329.5M313.7 122.5H329.5M311.9 128.6H313.8M313.8 126.0V131.2M313.8 126.0H329.5M313.8 131.2H316.6M316.6 129.5V133.0M316.6 129.5H329.5M316.6 133.0H329.5M306.0 144.8H307.2M307.2 140.8V148.7M307.2 140.8H310.7M310.7 138.2V143.5M310.7 138.2H313.7M313.7 136.5V140.0M313.7 136.5H329.5M313.7 140.0H329.5M310.7 143.5H329.5M307.2 148.7H309.6M309.6 146.9V150.4M309.6 146.9H329.5M309.6 150.4H329.5" fill="none" stroke="#939393" stroke-width="0.65"/>
<rect x="300.9" y="69" width="1.1" height="17" fill="#777"/>
<text x="267.2" y="195.8" font-size="17" fill="#000" stroke="#000" stroke-width="0.45">D</text>
<text x="350.6" y="190.7" font-size="8.1" font-weight="bold" font-style="normal" fill="#50905a" text-anchor="middle" >Inf A</text>
<text x="447.1" y="190.1" font-size="8.0" font-weight="bold" font-style="italic" fill="#c2303c" text-anchor="middle" >S.aureus</text>
<text transform="translate(332,199.0) scale(0.97,1)" font-size="6.0" font-weight="bold" fill="#1a1a1a" stroke="#1a1a1a" stroke-width="0.22" text-anchor="end">TRUE CLASS</text>
<text transform="translate(332,212.4) scale(0.97,1)" font-size="6.0" font-weight="bold" fill="#1a1a1a" stroke="#1a1a1a" stroke-width="0.22" text-anchor="end">K-NN CLASS</text>
<clipPath id="cD"><rect x="336" y="215.7" width="160" height="125.1"/></clipPath><g clip-path="url(#cD)" filter="url(#bl)" shape-rendering="crispEdges"><path fill="#eb8e2e" d="M333.5 213.2h6.9v6.3h-6.9zM344.4 213.2h4.4v6.3h-4.4zM441.3 213.2h8.6v6.3h-8.6zM470.7 213.2h8.6v6.3h-8.6zM333.5 219.3h6.9v3.8h-6.9zM348.6 219.3h4.4v3.8h-4.4zM361.3 219.3h4.4v3.8h-4.4zM394.9 219.3h4.4v3.8h-4.4zM340.2 222.8h8.6v3.8h-8.6zM357.1 222.8h4.4v3.8h-4.4zM399.2 222.8h4.4v3.8h-4.4zM483.4 222.8h4.4v3.8h-4.4zM333.5 226.4h6.9v3.8h-6.9zM348.6 226.4h4.4v3.8h-4.4zM378.1 226.4h4.4v3.8h-4.4zM399.2 226.4h4.4v3.8h-4.4zM483.4 226.4h4.4v3.8h-4.4zM340.2 230.0h8.6v3.8h-8.6zM357.1 230.0h4.4v3.8h-4.4zM378.1 230.0h4.4v3.8h-4.4zM394.9 230.0h4.4v3.8h-4.4zM373.9 233.6h8.6v3.8h-8.6zM445.5 233.6h4.4v3.8h-4.4zM340.2 237.1h4.4v3.8h-4.4zM449.7 237.1h4.4v3.8h-4.4zM483.4 240.7h8.6v3.8h-8.6zM399.2 244.3h4.4v3.8h-4.4zM411.8 244.3h4.4v3.8h-4.4zM437.1 244.3h4.4v3.8h-4.4zM458.1 244.3h4.4v3.8h-4.4zM491.8 244.3h6.9v3.8h-6.9zM340.2 247.9h4.4v3.8h-4.4zM378.1 247.9h4.4v3.8h-4.4zM411.8 247.9h4.4v3.8h-4.4zM483.4 247.9h4.4v3.8h-4.4zM491.8 247.9h6.9v3.8h-6.9zM399.2 251.4h4.4v3.8h-4.4zM411.8 251.4h4.4v3.8h-4.4zM437.1 251.4h4.4v3.8h-4.4zM487.6 251.4h4.4v3.8h-4.4zM340.2 255.0h4.4v3.8h-4.4zM352.8 255.0h8.6v3.8h-8.6zM394.9 255.0h8.6v3.8h-8.6zM411.8 255.0h8.6v3.8h-8.6zM403.4 258.6h4.4v3.8h-4.4zM483.4 258.6h4.4v3.8h-4.4zM340.2 262.2h4.4v3.8h-4.4zM399.2 262.2h4.4v3.8h-4.4zM399.2 265.7h4.4v3.8h-4.4zM340.2 269.3h4.4v3.8h-4.4zM399.2 269.3h4.4v3.8h-4.4zM483.4 269.3h4.4v3.8h-4.4zM340.2 272.9h4.4v3.8h-4.4zM352.8 272.9h4.4v3.8h-4.4zM340.2 276.5h4.4v3.8h-4.4zM340.2 283.6h4.4v3.8h-4.4zM394.9 283.6h8.6v3.8h-8.6zM449.7 283.6h4.4v3.8h-4.4zM487.6 283.6h4.4v3.8h-4.4zM420.2 287.2h4.4v3.8h-4.4zM333.5 290.8h6.9v3.8h-6.9zM352.8 290.8h4.4v3.8h-4.4zM365.5 290.8h4.4v3.8h-4.4zM394.9 290.8h4.4v3.8h-4.4zM403.4 290.8h4.4v3.8h-4.4zM365.5 297.9h4.4v3.8h-4.4zM378.1 297.9h4.4v3.8h-4.4zM458.1 297.9h4.4v3.8h-4.4zM466.5 297.9h4.4v3.8h-4.4zM487.6 297.9h4.4v3.8h-4.4zM458.1 301.5h8.6v3.8h-8.6zM470.7 301.5h8.6v3.8h-8.6zM365.5 305.1h4.4v3.8h-4.4zM416.0 305.1h4.4v3.8h-4.4zM449.7 305.1h4.4v3.8h-4.4zM458.1 305.1h8.6v3.8h-8.6zM474.9 305.1h4.4v3.8h-4.4zM441.3 308.6h4.4v3.8h-4.4zM449.7 308.6h4.4v3.8h-4.4zM458.1 308.6h8.6v3.8h-8.6zM470.7 308.6h8.6v3.8h-8.6zM483.4 308.6h15.3v3.8h-15.3zM399.2 312.2h4.4v3.8h-4.4zM416.0 312.2h4.4v3.8h-4.4zM441.3 312.2h12.8v3.8h-12.8zM458.1 312.2h8.6v3.8h-8.6zM470.7 312.2h4.4v3.8h-4.4zM483.4 312.2h15.3v3.8h-15.3zM365.5 315.8h4.4v3.8h-4.4zM390.7 315.8h4.4v3.8h-4.4zM416.0 315.8h4.4v3.8h-4.4zM462.3 315.8h4.4v3.8h-4.4zM487.6 315.8h4.4v3.8h-4.4zM386.5 319.4h4.4v3.8h-4.4zM458.1 319.4h8.6v3.8h-8.6zM470.7 319.4h8.6v3.8h-8.6zM365.5 322.9h4.4v3.8h-4.4zM441.3 322.9h4.4v3.8h-4.4zM453.9 322.9h12.8v3.8h-12.8zM470.7 322.9h8.6v3.8h-8.6zM365.5 326.5h4.4v3.8h-4.4zM403.4 326.5h4.4v3.8h-4.4zM416.0 326.5h4.4v3.8h-4.4zM441.3 326.5h4.4v3.8h-4.4zM449.7 326.5h4.4v3.8h-4.4zM458.1 326.5h4.4v3.8h-4.4zM470.7 326.5h4.4v3.8h-4.4zM369.7 330.1h4.4v3.8h-4.4zM382.3 330.1h4.4v3.8h-4.4zM390.7 330.1h4.4v3.8h-4.4zM445.5 330.1h8.6v3.8h-8.6zM474.9 330.1h4.4v3.8h-4.4zM483.4 330.1h8.6v3.8h-8.6zM365.5 333.7h4.4v3.8h-4.4zM378.1 333.7h4.4v3.8h-4.4zM399.2 333.7h12.8v3.8h-12.8zM428.6 333.7h4.4v3.8h-4.4zM491.8 333.7h6.9v3.8h-6.9zM369.7 337.2h4.4v6.3h-4.4zM382.3 337.2h4.4v6.3h-4.4zM399.2 337.2h4.4v6.3h-4.4zM416.0 337.2h4.4v6.3h-4.4z"/><path fill="#f2b534" d="M340.2 213.2h4.4v6.3h-4.4zM348.6 213.2h8.6v6.3h-8.6zM361.3 213.2h4.4v6.3h-4.4zM394.9 213.2h4.4v6.3h-4.4zM453.9 213.2h4.4v6.3h-4.4zM357.1 219.3h4.4v3.8h-4.4zM445.5 219.3h8.6v3.8h-8.6zM458.1 219.3h4.4v3.8h-4.4zM333.5 222.8h6.9v3.8h-6.9zM352.8 222.8h4.4v3.8h-4.4zM394.9 222.8h4.4v3.8h-4.4zM340.2 226.4h4.4v3.8h-4.4zM357.1 226.4h4.4v3.8h-4.4zM445.5 226.4h4.4v3.8h-4.4zM462.3 226.4h4.4v3.8h-4.4zM487.6 226.4h4.4v3.8h-4.4zM399.2 230.0h4.4v3.8h-4.4zM340.2 233.6h4.4v3.8h-4.4zM357.1 233.6h4.4v3.8h-4.4zM470.7 233.6h4.4v3.8h-4.4zM340.2 240.7h4.4v3.8h-4.4zM357.1 240.7h4.4v3.8h-4.4zM365.5 240.7h4.4v3.8h-4.4zM411.8 240.7h4.4v3.8h-4.4zM340.2 244.3h4.4v3.8h-4.4zM365.5 244.3h4.4v3.8h-4.4zM403.4 244.3h4.4v3.8h-4.4zM416.0 244.3h4.4v3.8h-4.4zM466.5 244.3h4.4v3.8h-4.4zM483.4 244.3h4.4v3.8h-4.4zM357.1 247.9h4.4v3.8h-4.4zM399.2 247.9h4.4v3.8h-4.4zM437.1 247.9h4.4v3.8h-4.4zM340.2 251.4h4.4v3.8h-4.4zM357.1 251.4h4.4v3.8h-4.4zM458.1 251.4h4.4v3.8h-4.4zM483.4 251.4h4.4v3.8h-4.4zM487.6 255.0h4.4v3.8h-4.4zM340.2 258.6h4.4v3.8h-4.4zM357.1 258.6h4.4v3.8h-4.4zM491.8 262.2h6.9v3.8h-6.9zM403.4 265.7h4.4v3.8h-4.4zM344.4 269.3h4.4v3.8h-4.4zM352.8 269.3h8.6v3.8h-8.6zM411.8 269.3h8.6v3.8h-8.6zM437.1 269.3h4.4v3.8h-4.4zM458.1 269.3h4.4v3.8h-4.4zM357.1 272.9h4.4v3.8h-4.4zM424.4 276.5h4.4v3.8h-4.4zM483.4 276.5h8.6v3.8h-8.6zM407.6 280.0h4.4v3.8h-4.4zM344.4 283.6h4.4v3.8h-4.4zM352.8 283.6h4.4v3.8h-4.4zM432.8 283.6h4.4v3.8h-4.4zM453.9 283.6h4.4v3.8h-4.4zM357.1 287.2h4.4v3.8h-4.4zM378.1 287.2h4.4v3.8h-4.4zM394.9 287.2h4.4v3.8h-4.4zM403.4 287.2h4.4v3.8h-4.4zM411.8 287.2h4.4v3.8h-4.4zM437.1 290.8h8.6v3.8h-8.6zM373.9 294.3h4.4v3.8h-4.4zM453.9 297.9h4.4v3.8h-4.4zM462.3 297.9h4.4v3.8h-4.4zM470.7 297.9h8.6v3.8h-8.6zM483.4 297.9h4.4v3.8h-4.4zM365.5 301.5h4.4v3.8h-4.4zM416.0 301.5h4.4v3.8h-4.4zM449.7 301.5h4.4v3.8h-4.4zM487.6 301.5h4.4v3.8h-4.4zM369.7 305.1h4.4v3.8h-4.4zM441.3 305.1h8.6v3.8h-8.6zM470.7 305.1h4.4v3.8h-4.4zM483.4 305.1h8.6v3.8h-8.6zM416.0 308.6h4.4v3.8h-4.4zM365.5 312.2h4.4v3.8h-4.4zM474.9 312.2h4.4v3.8h-4.4zM378.1 315.8h4.4v3.8h-4.4zM437.1 315.8h4.4v3.8h-4.4zM449.7 315.8h4.4v3.8h-4.4zM458.1 315.8h4.4v3.8h-4.4zM470.7 315.8h8.6v3.8h-8.6zM483.4 315.8h4.4v3.8h-4.4zM369.7 319.4h4.4v3.8h-4.4zM390.7 319.4h4.4v3.8h-4.4zM407.6 319.4h4.4v3.8h-4.4zM416.0 319.4h4.4v3.8h-4.4zM445.5 319.4h4.4v3.8h-4.4zM344.4 322.9h4.4v3.8h-4.4zM399.2 322.9h4.4v3.8h-4.4zM416.0 322.9h4.4v3.8h-4.4zM428.6 322.9h4.4v3.8h-4.4zM390.7 326.5h4.4v3.8h-4.4zM445.5 326.5h4.4v3.8h-4.4zM466.5 326.5h4.4v3.8h-4.4zM378.1 330.1h4.4v3.8h-4.4zM394.9 330.1h4.4v3.8h-4.4zM407.6 330.1h4.4v3.8h-4.4zM432.8 330.1h4.4v3.8h-4.4zM453.9 330.1h4.4v3.8h-4.4zM470.7 330.1h4.4v3.8h-4.4zM369.7 333.7h4.4v3.8h-4.4zM386.5 333.7h4.4v3.8h-4.4zM416.0 333.7h4.4v3.8h-4.4zM441.3 333.7h8.6v3.8h-8.6zM394.9 337.2h4.4v6.3h-4.4z"/><path fill="#f6d42a" d="M357.1 213.2h4.4v6.3h-4.4zM390.7 213.2h4.4v6.3h-4.4zM399.2 213.2h4.4v6.3h-4.4zM411.8 213.2h4.4v6.3h-4.4zM424.4 213.2h4.4v6.3h-4.4zM432.8 213.2h4.4v6.3h-4.4zM449.7 213.2h4.4v6.3h-4.4zM458.1 213.2h4.4v6.3h-4.4zM479.2 213.2h4.4v6.3h-4.4zM487.6 213.2h4.4v6.3h-4.4zM386.5 219.3h4.4v3.8h-4.4zM403.4 219.3h4.4v3.8h-4.4zM416.0 219.3h4.4v3.8h-4.4zM437.1 219.3h4.4v3.8h-4.4zM453.9 219.3h4.4v3.8h-4.4zM466.5 219.3h4.4v3.8h-4.4zM483.4 219.3h4.4v3.8h-4.4zM348.6 222.8h4.4v3.8h-4.4zM373.9 222.8h12.8v3.8h-12.8zM403.4 222.8h4.4v3.8h-4.4zM424.4 222.8h4.4v3.8h-4.4zM441.3 222.8h8.6v3.8h-8.6zM453.9 222.8h8.6v3.8h-8.6zM470.7 222.8h4.4v3.8h-4.4zM373.9 226.4h4.4v3.8h-4.4zM390.7 226.4h8.6v3.8h-8.6zM403.4 226.4h4.4v3.8h-4.4zM428.6 226.4h4.4v3.8h-4.4zM449.7 226.4h4.4v3.8h-4.4zM474.9 226.4h4.4v3.8h-4.4zM441.3 230.0h4.4v3.8h-4.4zM449.7 230.0h4.4v3.8h-4.4zM458.1 230.0h4.4v3.8h-4.4zM479.2 230.0h4.4v3.8h-4.4zM369.7 233.6h4.4v3.8h-4.4zM399.2 233.6h4.4v3.8h-4.4zM441.3 233.6h4.4v3.8h-4.4zM491.8 233.6h6.9v3.8h-6.9zM373.9 237.1h4.4v3.8h-4.4zM394.9 237.1h8.6v3.8h-8.6zM445.5 237.1h4.4v3.8h-4.4zM474.9 237.1h4.4v3.8h-4.4zM399.2 240.7h4.4v3.8h-4.4zM416.0 240.7h4.4v3.8h-4.4zM453.9 240.7h12.8v3.8h-12.8zM470.7 240.7h4.4v3.8h-4.4zM369.7 244.3h4.4v3.8h-4.4zM378.1 244.3h8.6v3.8h-8.6zM390.7 244.3h4.4v3.8h-4.4zM407.6 244.3h4.4v3.8h-4.4zM420.2 244.3h4.4v3.8h-4.4zM487.6 244.3h4.4v3.8h-4.4zM373.9 247.9h4.4v3.8h-4.4zM394.9 247.9h4.4v3.8h-4.4zM407.6 247.9h4.4v3.8h-4.4zM449.7 247.9h4.4v3.8h-4.4zM458.1 247.9h4.4v3.8h-4.4zM470.7 247.9h4.4v3.8h-4.4zM487.6 247.9h4.4v3.8h-4.4zM365.5 251.4h4.4v3.8h-4.4zM378.1 251.4h4.4v3.8h-4.4zM394.9 251.4h4.4v3.8h-4.4zM416.0 251.4h4.4v3.8h-4.4zM449.7 251.4h4.4v3.8h-4.4zM491.8 251.4h6.9v3.8h-6.9zM369.7 255.0h4.4v3.8h-4.4zM403.4 255.0h4.4v3.8h-4.4zM437.1 255.0h4.4v3.8h-4.4zM449.7 255.0h4.4v3.8h-4.4zM458.1 255.0h4.4v3.8h-4.4zM470.7 255.0h4.4v3.8h-4.4zM373.9 258.6h8.6v3.8h-8.6zM394.9 258.6h8.6v3.8h-8.6zM420.2 258.6h4.4v3.8h-4.4zM437.1 258.6h4.4v3.8h-4.4zM449.7 258.6h4.4v3.8h-4.4zM458.1 258.6h4.4v3.8h-4.4zM403.4 262.2h4.4v3.8h-4.4zM411.8 262.2h8.6v3.8h-8.6zM449.7 262.2h4.4v3.8h-4.4zM365.5 265.7h4.4v3.8h-4.4zM420.2 265.7h4.4v3.8h-4.4zM449.7 265.7h4.4v3.8h-4.4zM470.7 269.3h4.4v3.8h-4.4zM491.8 269.3h6.9v3.8h-6.9zM378.1 272.9h4.4v3.8h-4.4zM394.9 272.9h12.8v3.8h-12.8zM411.8 272.9h4.4v3.8h-4.4zM420.2 272.9h4.4v3.8h-4.4zM399.2 276.5h4.4v3.8h-4.4zM373.9 280.0h12.8v3.8h-12.8zM437.1 280.0h8.6v3.8h-8.6zM458.1 280.0h4.4v3.8h-4.4zM403.4 283.6h4.4v3.8h-4.4zM416.0 283.6h4.4v3.8h-4.4zM437.1 283.6h4.4v3.8h-4.4zM466.5 283.6h4.4v3.8h-4.4zM479.2 283.6h4.4v3.8h-4.4zM361.3 287.2h8.6v3.8h-8.6zM373.9 287.2h4.4v3.8h-4.4zM437.1 287.2h4.4v3.8h-4.4zM491.8 287.2h6.9v3.8h-6.9zM390.7 290.8h4.4v3.8h-4.4zM432.8 290.8h4.4v3.8h-4.4zM453.9 290.8h4.4v3.8h-4.4zM462.3 290.8h4.4v3.8h-4.4zM365.5 294.3h8.6v3.8h-8.6zM378.1 294.3h8.6v3.8h-8.6zM390.7 294.3h4.4v3.8h-4.4zM403.4 294.3h8.6v3.8h-8.6zM416.0 294.3h4.4v3.8h-4.4zM424.4 294.3h8.6v3.8h-8.6zM441.3 294.3h4.4v3.8h-4.4zM449.7 294.3h4.4v3.8h-4.4zM487.6 294.3h4.4v3.8h-4.4zM357.1 297.9h4.4v3.8h-4.4zM369.7 297.9h8.6v3.8h-8.6zM382.3 297.9h4.4v3.8h-4.4zM390.7 297.9h8.6v3.8h-8.6zM403.4 297.9h4.4v3.8h-4.4zM428.6 297.9h4.4v3.8h-4.4zM437.1 297.9h8.6v3.8h-8.6zM449.7 297.9h4.4v3.8h-4.4zM479.2 297.9h4.4v3.8h-4.4zM491.8 297.9h6.9v3.8h-6.9zM399.2 301.5h12.8v3.8h-12.8zM420.2 301.5h4.4v3.8h-4.4zM432.8 301.5h17.0v3.8h-17.0zM453.9 301.5h4.4v3.8h-4.4zM466.5 301.5h4.4v3.8h-4.4zM479.2 301.5h8.6v3.8h-8.6zM491.8 301.5h6.9v3.8h-6.9zM403.4 305.1h8.6v3.8h-8.6zM420.2 305.1h4.4v3.8h-4.4zM432.8 305.1h4.4v3.8h-4.4zM453.9 305.1h4.4v3.8h-4.4zM466.5 305.1h4.4v3.8h-4.4zM479.2 305.1h4.4v3.8h-4.4zM491.8 305.1h6.9v3.8h-6.9zM365.5 308.6h4.4v3.8h-4.4zM399.2 308.6h8.6v3.8h-8.6zM453.9 308.6h4.4v3.8h-4.4zM466.5 308.6h4.4v3.8h-4.4zM357.1 312.2h4.4v3.8h-4.4zM407.6 312.2h8.6v3.8h-8.6zM428.6 312.2h12.8v3.8h-12.8zM466.5 312.2h4.4v3.8h-4.4zM479.2 312.2h4.4v3.8h-4.4zM399.2 315.8h8.6v3.8h-8.6zM420.2 315.8h4.4v3.8h-4.4zM441.3 315.8h4.4v3.8h-4.4zM453.9 315.8h4.4v3.8h-4.4zM466.5 315.8h4.4v3.8h-4.4zM491.8 315.8h6.9v3.8h-6.9zM357.1 319.4h4.4v3.8h-4.4zM365.5 319.4h4.4v3.8h-4.4zM399.2 319.4h8.6v3.8h-8.6zM420.2 319.4h4.4v3.8h-4.4zM428.6 319.4h17.0v3.8h-17.0zM449.7 319.4h4.4v3.8h-4.4zM487.6 319.4h11.1v3.8h-11.1zM340.2 322.9h4.4v3.8h-4.4zM348.6 322.9h4.4v3.8h-4.4zM357.1 322.9h4.4v3.8h-4.4zM390.7 322.9h8.6v3.8h-8.6zM407.6 322.9h4.4v3.8h-4.4zM445.5 322.9h8.6v3.8h-8.6zM466.5 322.9h4.4v3.8h-4.4zM483.4 322.9h15.3v3.8h-15.3zM344.4 326.5h4.4v3.8h-4.4zM357.1 326.5h4.4v3.8h-4.4zM369.7 326.5h4.4v3.8h-4.4zM407.6 326.5h4.4v3.8h-4.4zM420.2 326.5h4.4v3.8h-4.4zM437.1 326.5h4.4v3.8h-4.4zM348.6 330.1h4.4v3.8h-4.4zM365.5 330.1h4.4v3.8h-4.4zM373.9 330.1h4.4v3.8h-4.4zM441.3 330.1h4.4v3.8h-4.4zM479.2 330.1h4.4v3.8h-4.4zM373.9 333.7h4.4v3.8h-4.4zM394.9 333.7h4.4v3.8h-4.4zM411.8 333.7h4.4v3.8h-4.4zM420.2 333.7h4.4v3.8h-4.4zM432.8 333.7h4.4v3.8h-4.4zM462.3 333.7h4.4v3.8h-4.4zM483.4 333.7h4.4v3.8h-4.4zM348.6 337.2h4.4v6.3h-4.4zM386.5 337.2h4.4v6.3h-4.4zM403.4 337.2h4.4v6.3h-4.4zM411.8 337.2h4.4v6.3h-4.4zM424.4 337.2h8.6v6.3h-8.6zM445.5 337.2h4.4v6.3h-4.4zM458.1 337.2h4.4v6.3h-4.4zM474.9 337.2h4.4v6.3h-4.4zM491.8 337.2h6.9v6.3h-6.9z"/><path fill="#4352ac" d="M365.5 213.2h17.0v6.3h-17.0zM386.5 213.2h4.4v6.3h-4.4zM407.6 213.2h4.4v6.3h-4.4zM428.6 213.2h4.4v6.3h-4.4zM462.3 213.2h4.4v6.3h-4.4zM483.4 213.2h4.4v6.3h-4.4zM491.8 213.2h6.9v6.3h-6.9zM365.5 219.3h17.0v3.8h-17.0zM390.7 219.3h4.4v3.8h-4.4zM407.6 219.3h4.4v3.8h-4.4zM420.2 219.3h4.4v3.8h-4.4zM441.3 219.3h4.4v3.8h-4.4zM462.3 219.3h4.4v3.8h-4.4zM491.8 219.3h6.9v3.8h-6.9zM365.5 222.8h4.4v3.8h-4.4zM386.5 222.8h8.6v3.8h-8.6zM407.6 222.8h4.4v3.8h-4.4zM420.2 222.8h4.4v3.8h-4.4zM428.6 222.8h12.8v3.8h-12.8zM462.3 222.8h8.6v3.8h-8.6zM491.8 222.8h6.9v3.8h-6.9zM365.5 226.4h8.6v3.8h-8.6zM382.3 226.4h4.4v3.8h-4.4zM407.6 226.4h8.6v3.8h-8.6zM420.2 226.4h8.6v3.8h-8.6zM432.8 226.4h4.4v3.8h-4.4zM470.7 226.4h4.4v3.8h-4.4zM365.5 230.0h8.6v3.8h-8.6zM382.3 230.0h4.4v3.8h-4.4zM403.4 230.0h8.6v3.8h-8.6zM420.2 230.0h8.6v3.8h-8.6zM437.1 230.0h4.4v3.8h-4.4zM462.3 230.0h4.4v3.8h-4.4zM365.5 233.6h4.4v3.8h-4.4zM382.3 233.6h4.4v3.8h-4.4zM390.7 233.6h4.4v3.8h-4.4zM403.4 233.6h12.8v3.8h-12.8zM420.2 233.6h12.8v3.8h-12.8zM437.1 233.6h4.4v3.8h-4.4zM462.3 233.6h4.4v3.8h-4.4zM365.5 237.1h4.4v3.8h-4.4zM378.1 237.1h8.6v3.8h-8.6zM390.7 237.1h4.4v3.8h-4.4zM403.4 237.1h8.6v3.8h-8.6zM420.2 237.1h21.3v3.8h-21.3zM458.1 237.1h8.6v3.8h-8.6zM369.7 240.7h8.6v3.8h-8.6zM382.3 240.7h4.4v3.8h-4.4zM390.7 240.7h8.6v3.8h-8.6zM407.6 240.7h4.4v3.8h-4.4zM420.2 240.7h33.9v3.8h-33.9zM479.2 240.7h4.4v3.8h-4.4zM424.4 244.3h12.8v3.8h-12.8zM441.3 244.3h12.8v3.8h-12.8zM462.3 244.3h4.4v3.8h-4.4zM474.9 244.3h8.6v3.8h-8.6zM365.5 247.9h8.6v3.8h-8.6zM382.3 247.9h4.4v3.8h-4.4zM390.7 247.9h4.4v3.8h-4.4zM420.2 247.9h17.0v3.8h-17.0zM441.3 247.9h8.6v3.8h-8.6zM462.3 247.9h4.4v3.8h-4.4zM474.9 247.9h8.6v3.8h-8.6zM369.7 251.4h8.6v3.8h-8.6zM382.3 251.4h4.4v3.8h-4.4zM390.7 251.4h4.4v3.8h-4.4zM403.4 251.4h8.6v3.8h-8.6zM420.2 251.4h17.0v3.8h-17.0zM441.3 251.4h8.6v3.8h-8.6zM462.3 251.4h4.4v3.8h-4.4zM470.7 251.4h12.8v3.8h-12.8zM365.5 255.0h4.4v3.8h-4.4zM378.1 255.0h8.6v3.8h-8.6zM407.6 255.0h4.4v3.8h-4.4zM420.2 255.0h4.4v3.8h-4.4zM441.3 255.0h8.6v3.8h-8.6zM479.2 255.0h4.4v3.8h-4.4zM369.7 258.6h4.4v3.8h-4.4zM407.6 258.6h4.4v3.8h-4.4zM424.4 258.6h8.6v3.8h-8.6zM445.5 258.6h4.4v3.8h-4.4zM462.3 258.6h4.4v3.8h-4.4zM470.7 258.6h12.8v3.8h-12.8zM365.5 262.2h12.8v3.8h-12.8zM382.3 262.2h4.4v3.8h-4.4zM390.7 262.2h4.4v3.8h-4.4zM407.6 262.2h4.4v3.8h-4.4zM424.4 262.2h8.6v3.8h-8.6zM441.3 262.2h8.6v3.8h-8.6zM458.1 262.2h8.6v3.8h-8.6zM474.9 262.2h8.6v3.8h-8.6zM369.7 265.7h4.4v3.8h-4.4zM378.1 265.7h8.6v3.8h-8.6zM390.7 265.7h4.4v3.8h-4.4zM407.6 265.7h4.4v3.8h-4.4zM424.4 265.7h8.6v3.8h-8.6zM437.1 265.7h12.8v3.8h-12.8zM458.1 265.7h8.6v3.8h-8.6zM470.7 265.7h12.8v3.8h-12.8zM369.7 269.3h17.0v3.8h-17.0zM390.7 269.3h8.6v3.8h-8.6zM407.6 269.3h4.4v3.8h-4.4zM424.4 269.3h8.6v3.8h-8.6zM445.5 269.3h4.4v3.8h-4.4zM462.3 269.3h4.4v3.8h-4.4zM365.5 272.9h4.4v3.8h-4.4zM416.0 272.9h4.4v3.8h-4.4zM424.4 272.9h8.6v3.8h-8.6zM445.5 272.9h8.6v3.8h-8.6zM458.1 272.9h8.6v3.8h-8.6zM470.7 272.9h4.4v3.8h-4.4zM479.2 272.9h4.4v3.8h-4.4zM365.5 276.5h8.6v3.8h-8.6zM378.1 276.5h4.4v3.8h-4.4zM390.7 276.5h4.4v3.8h-4.4zM403.4 276.5h8.6v3.8h-8.6zM428.6 276.5h4.4v3.8h-4.4zM445.5 276.5h4.4v3.8h-4.4zM458.1 276.5h8.6v3.8h-8.6zM474.9 276.5h8.6v3.8h-8.6zM365.5 280.0h8.6v3.8h-8.6zM390.7 280.0h8.6v3.8h-8.6zM428.6 280.0h4.4v3.8h-4.4zM445.5 280.0h8.6v3.8h-8.6zM462.3 280.0h4.4v3.8h-4.4zM470.7 280.0h8.6v3.8h-8.6zM483.4 280.0h15.3v3.8h-15.3zM357.1 283.6h4.4v3.8h-4.4zM365.5 283.6h21.3v3.8h-21.3zM390.7 283.6h4.4v3.8h-4.4zM407.6 283.6h8.6v3.8h-8.6zM420.2 283.6h12.8v3.8h-12.8zM445.5 283.6h4.4v3.8h-4.4zM458.1 283.6h8.6v3.8h-8.6zM470.7 283.6h8.6v3.8h-8.6zM407.6 287.2h4.4v3.8h-4.4zM432.8 287.2h4.4v3.8h-4.4zM441.3 287.2h4.4v3.8h-4.4zM449.7 287.2h29.7v3.8h-29.7zM357.1 290.8h4.4v3.8h-4.4zM407.6 290.8h4.4v3.8h-4.4zM428.6 290.8h4.4v3.8h-4.4zM445.5 290.8h8.6v3.8h-8.6zM458.1 290.8h4.4v3.8h-4.4zM466.5 290.8h4.4v3.8h-4.4zM474.9 290.8h4.4v3.8h-4.4zM333.5 294.3h6.9v3.8h-6.9zM344.4 294.3h12.8v3.8h-12.8zM437.1 294.3h4.4v3.8h-4.4zM333.5 297.9h6.9v3.8h-6.9zM348.6 297.9h8.6v3.8h-8.6zM361.3 297.9h4.4v3.8h-4.4zM424.4 297.9h4.4v3.8h-4.4zM432.8 297.9h4.4v3.8h-4.4zM333.5 301.5h6.9v3.8h-6.9zM344.4 301.5h12.8v3.8h-12.8zM361.3 301.5h4.4v3.8h-4.4zM373.9 301.5h4.4v3.8h-4.4zM382.3 301.5h4.4v3.8h-4.4zM390.7 301.5h4.4v3.8h-4.4zM428.6 301.5h4.4v3.8h-4.4zM333.5 305.1h6.9v3.8h-6.9zM352.8 305.1h4.4v3.8h-4.4zM361.3 305.1h4.4v3.8h-4.4zM382.3 305.1h4.4v3.8h-4.4zM424.4 305.1h4.4v3.8h-4.4zM333.5 308.6h6.9v3.8h-6.9zM352.8 308.6h4.4v3.8h-4.4zM361.3 308.6h4.4v3.8h-4.4zM373.9 308.6h4.4v3.8h-4.4zM382.3 308.6h4.4v3.8h-4.4zM333.5 312.2h6.9v3.8h-6.9zM352.8 312.2h4.4v3.8h-4.4zM361.3 312.2h4.4v3.8h-4.4zM373.9 312.2h4.4v3.8h-4.4zM333.5 315.8h6.9v3.8h-6.9zM352.8 315.8h4.4v3.8h-4.4zM361.3 315.8h4.4v3.8h-4.4zM382.3 315.8h4.4v3.8h-4.4zM424.4 315.8h4.4v3.8h-4.4zM333.5 319.4h6.9v3.8h-6.9zM344.4 319.4h8.6v3.8h-8.6zM466.5 319.4h4.4v3.8h-4.4zM333.5 322.9h6.9v3.8h-6.9zM386.5 322.9h4.4v3.8h-4.4zM333.5 326.5h6.9v3.8h-6.9zM352.8 326.5h4.4v3.8h-4.4zM361.3 326.5h4.4v3.8h-4.4zM373.9 326.5h4.4v3.8h-4.4zM382.3 326.5h4.4v3.8h-4.4zM394.9 326.5h4.4v3.8h-4.4zM411.8 326.5h4.4v3.8h-4.4zM424.4 326.5h4.4v3.8h-4.4zM491.8 326.5h6.9v3.8h-6.9zM333.5 330.1h6.9v3.8h-6.9zM386.5 330.1h4.4v3.8h-4.4zM411.8 330.1h8.6v3.8h-8.6zM424.4 330.1h4.4v3.8h-4.4zM466.5 330.1h4.4v3.8h-4.4zM333.5 333.7h6.9v3.8h-6.9zM357.1 333.7h8.6v3.8h-8.6zM390.7 333.7h4.4v3.8h-4.4zM449.7 333.7h12.8v3.8h-12.8zM466.5 333.7h4.4v3.8h-4.4zM479.2 333.7h4.4v3.8h-4.4zM333.5 337.2h6.9v6.3h-6.9zM361.3 337.2h4.4v6.3h-4.4zM441.3 337.2h4.4v6.3h-4.4z"/><path fill="#b8b25e" d="M382.3 213.2h4.4v6.3h-4.4zM466.5 213.2h4.4v6.3h-4.4zM474.9 219.3h4.4v3.8h-4.4zM479.2 222.8h4.4v3.8h-4.4zM416.0 230.0h4.4v3.8h-4.4zM428.6 230.0h4.4v3.8h-4.4zM474.9 230.0h4.4v3.8h-4.4zM416.0 233.6h4.4v3.8h-4.4zM474.9 240.7h4.4v3.8h-4.4zM357.1 244.3h4.4v3.8h-4.4zM424.4 255.0h4.4v3.8h-4.4zM394.9 262.2h4.4v3.8h-4.4zM432.8 262.2h4.4v3.8h-4.4zM470.7 262.2h4.4v3.8h-4.4zM474.9 269.3h4.4v3.8h-4.4zM373.9 272.9h4.4v3.8h-4.4zM382.3 272.9h4.4v3.8h-4.4zM432.8 272.9h4.4v3.8h-4.4zM491.8 272.9h6.9v3.8h-6.9zM483.4 287.2h8.6v3.8h-8.6zM479.2 290.8h4.4v3.8h-4.4zM487.6 290.8h11.1v3.8h-11.1zM340.2 294.3h4.4v3.8h-4.4zM386.5 294.3h4.4v3.8h-4.4zM470.7 294.3h4.4v3.8h-4.4zM479.2 294.3h4.4v3.8h-4.4zM386.5 301.5h4.4v3.8h-4.4zM394.9 301.5h4.4v3.8h-4.4zM411.8 301.5h4.4v3.8h-4.4zM340.2 305.1h4.4v3.8h-4.4zM348.6 305.1h4.4v3.8h-4.4zM378.1 305.1h4.4v3.8h-4.4zM394.9 305.1h4.4v3.8h-4.4zM340.2 308.6h4.4v3.8h-4.4zM348.6 308.6h4.4v3.8h-4.4zM369.7 308.6h4.4v3.8h-4.4zM378.1 308.6h4.4v3.8h-4.4zM386.5 308.6h4.4v3.8h-4.4zM394.9 308.6h4.4v3.8h-4.4zM407.6 308.6h8.6v3.8h-8.6zM424.4 308.6h4.4v3.8h-4.4zM340.2 312.2h12.8v3.8h-12.8zM369.7 312.2h4.4v3.8h-4.4zM378.1 312.2h4.4v3.8h-4.4zM394.9 312.2h4.4v3.8h-4.4zM344.4 315.8h4.4v3.8h-4.4zM352.8 319.4h4.4v3.8h-4.4zM373.9 319.4h4.4v3.8h-4.4zM382.3 319.4h4.4v3.8h-4.4zM453.9 319.4h4.4v3.8h-4.4zM479.2 319.4h8.6v3.8h-8.6zM361.3 322.9h4.4v3.8h-4.4zM378.1 322.9h4.4v3.8h-4.4zM411.8 322.9h4.4v3.8h-4.4zM432.8 322.9h4.4v3.8h-4.4zM428.6 326.5h4.4v3.8h-4.4zM453.9 326.5h4.4v3.8h-4.4zM340.2 330.1h8.6v3.8h-8.6zM357.1 330.1h4.4v3.8h-4.4zM399.2 330.1h4.4v3.8h-4.4zM428.6 330.1h4.4v3.8h-4.4zM437.1 330.1h4.4v3.8h-4.4zM340.2 337.2h4.4v6.3h-4.4zM357.1 337.2h4.4v6.3h-4.4zM453.9 337.2h4.4v6.3h-4.4zM466.5 337.2h4.4v6.3h-4.4zM479.2 337.2h4.4v6.3h-4.4z"/><path fill="#e2e23e" d="M403.4 213.2h4.4v6.3h-4.4zM416.0 213.2h8.6v6.3h-8.6zM437.1 213.2h4.4v6.3h-4.4zM344.4 219.3h4.4v3.8h-4.4zM352.8 219.3h4.4v3.8h-4.4zM382.3 219.3h4.4v3.8h-4.4zM399.2 219.3h4.4v3.8h-4.4zM411.8 219.3h4.4v3.8h-4.4zM424.4 219.3h4.4v3.8h-4.4zM432.8 219.3h4.4v3.8h-4.4zM470.7 219.3h4.4v3.8h-4.4zM479.2 219.3h4.4v3.8h-4.4zM487.6 219.3h4.4v3.8h-4.4zM411.8 222.8h4.4v3.8h-4.4zM449.7 222.8h4.4v3.8h-4.4zM474.9 222.8h4.4v3.8h-4.4zM487.6 222.8h4.4v3.8h-4.4zM441.3 226.4h4.4v3.8h-4.4zM458.1 226.4h4.4v3.8h-4.4zM491.8 226.4h6.9v3.8h-6.9zM390.7 230.0h4.4v3.8h-4.4zM432.8 230.0h4.4v3.8h-4.4zM445.5 230.0h4.4v3.8h-4.4zM470.7 230.0h4.4v3.8h-4.4zM491.8 230.0h6.9v3.8h-6.9zM394.9 233.6h4.4v3.8h-4.4zM432.8 233.6h4.4v3.8h-4.4zM449.7 233.6h4.4v3.8h-4.4zM458.1 233.6h4.4v3.8h-4.4zM474.9 233.6h8.6v3.8h-8.6zM369.7 237.1h4.4v3.8h-4.4zM441.3 237.1h4.4v3.8h-4.4zM470.7 237.1h4.4v3.8h-4.4zM479.2 237.1h4.4v3.8h-4.4zM491.8 237.1h6.9v3.8h-6.9zM378.1 240.7h4.4v3.8h-4.4zM403.4 240.7h4.4v3.8h-4.4zM491.8 240.7h6.9v3.8h-6.9zM373.9 244.3h4.4v3.8h-4.4zM394.9 244.3h4.4v3.8h-4.4zM470.7 244.3h4.4v3.8h-4.4zM403.4 247.9h4.4v3.8h-4.4zM416.0 247.9h4.4v3.8h-4.4zM373.9 255.0h4.4v3.8h-4.4zM428.6 255.0h8.6v3.8h-8.6zM474.9 255.0h4.4v3.8h-4.4zM483.4 255.0h4.4v3.8h-4.4zM365.5 258.6h4.4v3.8h-4.4zM432.8 258.6h4.4v3.8h-4.4zM441.3 258.6h4.4v3.8h-4.4zM491.8 258.6h6.9v3.8h-6.9zM420.2 262.2h4.4v3.8h-4.4zM437.1 262.2h4.4v3.8h-4.4zM373.9 265.7h4.4v3.8h-4.4zM394.9 265.7h4.4v3.8h-4.4zM432.8 265.7h4.4v3.8h-4.4zM491.8 265.7h6.9v3.8h-6.9zM365.5 269.3h4.4v3.8h-4.4zM403.4 269.3h4.4v3.8h-4.4zM420.2 269.3h4.4v3.8h-4.4zM432.8 269.3h4.4v3.8h-4.4zM441.3 269.3h4.4v3.8h-4.4zM449.7 269.3h4.4v3.8h-4.4zM344.4 272.9h4.4v3.8h-4.4zM390.7 272.9h4.4v3.8h-4.4zM407.6 272.9h4.4v3.8h-4.4zM437.1 272.9h8.6v3.8h-8.6zM474.9 272.9h4.4v3.8h-4.4zM373.9 276.5h4.4v3.8h-4.4zM382.3 276.5h4.4v3.8h-4.4zM394.9 276.5h4.4v3.8h-4.4zM432.8 276.5h12.8v3.8h-12.8zM470.7 276.5h4.4v3.8h-4.4zM441.3 283.6h4.4v3.8h-4.4zM483.4 283.6h4.4v3.8h-4.4zM491.8 283.6h6.9v3.8h-6.9zM369.7 287.2h4.4v3.8h-4.4zM382.3 287.2h4.4v3.8h-4.4zM390.7 287.2h4.4v3.8h-4.4zM416.0 287.2h4.4v3.8h-4.4zM428.6 287.2h4.4v3.8h-4.4zM445.5 287.2h4.4v3.8h-4.4zM369.7 290.8h4.4v3.8h-4.4zM386.5 290.8h4.4v3.8h-4.4zM424.4 290.8h4.4v3.8h-4.4zM470.7 290.8h4.4v3.8h-4.4zM357.1 294.3h4.4v3.8h-4.4zM394.9 294.3h8.6v3.8h-8.6zM411.8 294.3h4.4v3.8h-4.4zM420.2 294.3h4.4v3.8h-4.4zM432.8 294.3h4.4v3.8h-4.4zM453.9 294.3h12.8v3.8h-12.8zM483.4 294.3h4.4v3.8h-4.4zM491.8 294.3h6.9v3.8h-6.9zM340.2 297.9h8.6v3.8h-8.6zM386.5 297.9h4.4v3.8h-4.4zM399.2 297.9h4.4v3.8h-4.4zM407.6 297.9h8.6v3.8h-8.6zM420.2 297.9h4.4v3.8h-4.4zM445.5 297.9h4.4v3.8h-4.4zM357.1 301.5h4.4v3.8h-4.4zM369.7 301.5h4.4v3.8h-4.4zM378.1 301.5h4.4v3.8h-4.4zM344.4 305.1h4.4v3.8h-4.4zM357.1 305.1h4.4v3.8h-4.4zM386.5 305.1h8.6v3.8h-8.6zM399.2 305.1h4.4v3.8h-4.4zM411.8 305.1h4.4v3.8h-4.4zM428.6 305.1h4.4v3.8h-4.4zM437.1 305.1h4.4v3.8h-4.4zM357.1 308.6h4.4v3.8h-4.4zM390.7 308.6h4.4v3.8h-4.4zM420.2 308.6h4.4v3.8h-4.4zM428.6 308.6h12.8v3.8h-12.8zM445.5 308.6h4.4v3.8h-4.4zM479.2 308.6h4.4v3.8h-4.4zM382.3 312.2h12.8v3.8h-12.8zM403.4 312.2h4.4v3.8h-4.4zM420.2 312.2h8.6v3.8h-8.6zM453.9 312.2h4.4v3.8h-4.4zM357.1 315.8h4.4v3.8h-4.4zM369.7 315.8h8.6v3.8h-8.6zM386.5 315.8h4.4v3.8h-4.4zM394.9 315.8h4.4v3.8h-4.4zM407.6 315.8h8.6v3.8h-8.6zM428.6 315.8h8.6v3.8h-8.6zM479.2 315.8h4.4v3.8h-4.4zM378.1 319.4h4.4v3.8h-4.4zM394.9 319.4h4.4v3.8h-4.4zM411.8 319.4h4.4v3.8h-4.4zM424.4 319.4h4.4v3.8h-4.4zM352.8 322.9h4.4v3.8h-4.4zM369.7 322.9h8.6v3.8h-8.6zM382.3 322.9h4.4v3.8h-4.4zM403.4 322.9h4.4v3.8h-4.4zM420.2 322.9h8.6v3.8h-8.6zM437.1 322.9h4.4v3.8h-4.4zM479.2 322.9h4.4v3.8h-4.4zM340.2 326.5h4.4v3.8h-4.4zM378.1 326.5h4.4v3.8h-4.4zM386.5 326.5h4.4v3.8h-4.4zM399.2 326.5h4.4v3.8h-4.4zM432.8 326.5h4.4v3.8h-4.4zM474.9 326.5h17.0v3.8h-17.0zM352.8 330.1h4.4v3.8h-4.4zM361.3 330.1h4.4v3.8h-4.4zM403.4 330.1h4.4v3.8h-4.4zM420.2 330.1h4.4v3.8h-4.4zM491.8 330.1h6.9v3.8h-6.9zM344.4 333.7h12.8v3.8h-12.8zM382.3 333.7h4.4v3.8h-4.4zM424.4 333.7h4.4v3.8h-4.4zM474.9 333.7h4.4v3.8h-4.4zM487.6 333.7h4.4v3.8h-4.4zM344.4 337.2h4.4v6.3h-4.4zM352.8 337.2h4.4v6.3h-4.4zM373.9 337.2h8.6v6.3h-8.6zM390.7 337.2h4.4v6.3h-4.4zM407.6 337.2h4.4v6.3h-4.4zM420.2 337.2h4.4v6.3h-4.4zM432.8 337.2h8.6v6.3h-8.6zM449.7 337.2h4.4v6.3h-4.4zM462.3 337.2h4.4v6.3h-4.4zM470.7 337.2h4.4v6.3h-4.4zM483.4 337.2h8.6v6.3h-8.6z"/><path fill="#e0522c" d="M340.2 219.3h4.4v3.8h-4.4zM361.3 222.8h4.4v3.8h-4.4zM344.4 226.4h4.4v3.8h-4.4zM352.8 226.4h4.4v3.8h-4.4zM344.4 237.1h4.4v3.8h-4.4zM352.8 237.1h4.4v3.8h-4.4zM487.6 237.1h4.4v3.8h-4.4zM344.4 247.9h4.4v3.8h-4.4zM352.8 251.4h4.4v3.8h-4.4zM411.8 258.6h4.4v3.8h-4.4zM487.6 269.3h4.4v3.8h-4.4zM411.8 276.5h4.4v3.8h-4.4zM420.2 276.5h4.4v3.8h-4.4zM340.2 280.0h4.4v3.8h-4.4zM399.2 280.0h4.4v3.8h-4.4zM411.8 280.0h4.4v3.8h-4.4zM424.4 280.0h4.4v3.8h-4.4zM348.6 283.6h4.4v3.8h-4.4zM424.4 287.2h4.4v3.8h-4.4zM340.2 290.8h12.8v3.8h-12.8zM416.0 290.8h8.6v3.8h-8.6zM462.3 326.5h4.4v3.8h-4.4zM458.1 330.1h4.4v3.8h-4.4zM437.1 333.7h4.4v3.8h-4.4zM470.7 333.7h4.4v3.8h-4.4zM365.5 337.2h4.4v6.3h-4.4z"/><path fill="#8e909c" d="M428.6 219.3h4.4v3.8h-4.4zM369.7 222.8h4.4v3.8h-4.4zM416.0 222.8h4.4v3.8h-4.4zM416.0 226.4h4.4v3.8h-4.4zM479.2 226.4h4.4v3.8h-4.4zM373.9 230.0h4.4v3.8h-4.4zM411.8 230.0h4.4v3.8h-4.4zM411.8 237.1h8.6v3.8h-8.6zM390.7 255.0h4.4v3.8h-4.4zM462.3 255.0h4.4v3.8h-4.4zM491.8 255.0h6.9v3.8h-6.9zM382.3 258.6h4.4v3.8h-4.4zM390.7 258.6h4.4v3.8h-4.4zM378.1 262.2h4.4v3.8h-4.4zM479.2 269.3h4.4v3.8h-4.4zM369.7 272.9h4.4v3.8h-4.4zM449.7 276.5h4.4v3.8h-4.4zM491.8 276.5h6.9v3.8h-6.9zM432.8 280.0h4.4v3.8h-4.4zM479.2 280.0h4.4v3.8h-4.4zM479.2 287.2h4.4v3.8h-4.4zM361.3 290.8h4.4v3.8h-4.4zM373.9 290.8h12.8v3.8h-12.8zM483.4 290.8h4.4v3.8h-4.4zM361.3 294.3h4.4v3.8h-4.4zM445.5 294.3h4.4v3.8h-4.4zM466.5 294.3h4.4v3.8h-4.4zM474.9 294.3h4.4v3.8h-4.4zM416.0 297.9h4.4v3.8h-4.4zM340.2 301.5h4.4v3.8h-4.4zM424.4 301.5h4.4v3.8h-4.4zM373.9 305.1h4.4v3.8h-4.4zM340.2 315.8h4.4v3.8h-4.4zM445.5 315.8h4.4v3.8h-4.4zM361.3 319.4h4.4v3.8h-4.4zM348.6 326.5h4.4v3.8h-4.4z"/><path fill="#d02a26" d="M361.3 226.4h4.4v3.8h-4.4zM386.5 226.4h4.4v3.8h-4.4zM453.9 226.4h4.4v3.8h-4.4zM466.5 226.4h4.4v3.8h-4.4zM333.5 230.0h6.9v3.8h-6.9zM348.6 230.0h8.6v3.8h-8.6zM361.3 230.0h4.4v3.8h-4.4zM386.5 230.0h4.4v3.8h-4.4zM453.9 230.0h4.4v3.8h-4.4zM466.5 230.0h4.4v3.8h-4.4zM483.4 230.0h8.6v3.8h-8.6zM333.5 233.6h6.9v3.8h-6.9zM344.4 233.6h12.8v3.8h-12.8zM361.3 233.6h4.4v3.8h-4.4zM386.5 233.6h4.4v3.8h-4.4zM453.9 233.6h4.4v3.8h-4.4zM466.5 233.6h4.4v3.8h-4.4zM483.4 233.6h8.6v3.8h-8.6zM333.5 237.1h6.9v3.8h-6.9zM348.6 237.1h4.4v3.8h-4.4zM357.1 237.1h8.6v3.8h-8.6zM386.5 237.1h4.4v3.8h-4.4zM453.9 237.1h4.4v3.8h-4.4zM466.5 237.1h4.4v3.8h-4.4zM483.4 237.1h4.4v3.8h-4.4zM333.5 240.7h6.9v3.8h-6.9zM344.4 240.7h12.8v3.8h-12.8zM361.3 240.7h4.4v3.8h-4.4zM386.5 240.7h4.4v3.8h-4.4zM466.5 240.7h4.4v3.8h-4.4zM333.5 244.3h6.9v3.8h-6.9zM344.4 244.3h12.8v3.8h-12.8zM361.3 244.3h4.4v3.8h-4.4zM386.5 244.3h4.4v3.8h-4.4zM453.9 244.3h4.4v3.8h-4.4zM333.5 247.9h6.9v3.8h-6.9zM348.6 247.9h8.6v3.8h-8.6zM361.3 247.9h4.4v3.8h-4.4zM386.5 247.9h4.4v3.8h-4.4zM453.9 247.9h4.4v3.8h-4.4zM466.5 247.9h4.4v3.8h-4.4zM333.5 251.4h6.9v3.8h-6.9zM344.4 251.4h8.6v3.8h-8.6zM361.3 251.4h4.4v3.8h-4.4zM386.5 251.4h4.4v3.8h-4.4zM453.9 251.4h4.4v3.8h-4.4zM466.5 251.4h4.4v3.8h-4.4zM333.5 255.0h6.9v3.8h-6.9zM344.4 255.0h8.6v3.8h-8.6zM361.3 255.0h4.4v3.8h-4.4zM386.5 255.0h4.4v3.8h-4.4zM453.9 255.0h4.4v3.8h-4.4zM466.5 255.0h4.4v3.8h-4.4zM333.5 258.6h6.9v3.8h-6.9zM344.4 258.6h12.8v3.8h-12.8zM361.3 258.6h4.4v3.8h-4.4zM386.5 258.6h4.4v3.8h-4.4zM416.0 258.6h4.4v3.8h-4.4zM453.9 258.6h4.4v3.8h-4.4zM466.5 258.6h4.4v3.8h-4.4zM487.6 258.6h4.4v3.8h-4.4zM333.5 262.2h6.9v3.8h-6.9zM344.4 262.2h21.3v3.8h-21.3zM386.5 262.2h4.4v3.8h-4.4zM453.9 262.2h4.4v3.8h-4.4zM466.5 262.2h4.4v3.8h-4.4zM483.4 262.2h8.6v3.8h-8.6zM333.5 265.7h32.2v3.8h-32.2zM386.5 265.7h4.4v3.8h-4.4zM411.8 265.7h8.6v3.8h-8.6zM453.9 265.7h4.4v3.8h-4.4zM466.5 265.7h4.4v3.8h-4.4zM483.4 265.7h8.6v3.8h-8.6zM333.5 269.3h6.9v3.8h-6.9zM348.6 269.3h4.4v3.8h-4.4zM361.3 269.3h4.4v3.8h-4.4zM386.5 269.3h4.4v3.8h-4.4zM453.9 269.3h4.4v3.8h-4.4zM466.5 269.3h4.4v3.8h-4.4zM333.5 272.9h6.9v3.8h-6.9zM348.6 272.9h4.4v3.8h-4.4zM361.3 272.9h4.4v3.8h-4.4zM386.5 272.9h4.4v3.8h-4.4zM453.9 272.9h4.4v3.8h-4.4zM466.5 272.9h4.4v3.8h-4.4zM483.4 272.9h8.6v3.8h-8.6zM333.5 276.5h6.9v3.8h-6.9zM344.4 276.5h21.3v3.8h-21.3zM386.5 276.5h4.4v3.8h-4.4zM416.0 276.5h4.4v3.8h-4.4zM453.9 276.5h4.4v3.8h-4.4zM466.5 276.5h4.4v3.8h-4.4zM333.5 280.0h6.9v3.8h-6.9zM344.4 280.0h21.3v3.8h-21.3zM386.5 280.0h4.4v3.8h-4.4zM403.4 280.0h4.4v3.8h-4.4zM416.0 280.0h8.6v3.8h-8.6zM453.9 280.0h4.4v3.8h-4.4zM466.5 280.0h4.4v3.8h-4.4zM333.5 283.6h6.9v3.8h-6.9zM361.3 283.6h4.4v3.8h-4.4zM386.5 283.6h4.4v3.8h-4.4zM333.5 287.2h23.8v3.8h-23.8zM386.5 287.2h4.4v3.8h-4.4zM399.2 287.2h4.4v3.8h-4.4zM399.2 290.8h4.4v3.8h-4.4zM411.8 290.8h4.4v3.8h-4.4zM462.3 330.1h4.4v3.8h-4.4z"/><path fill="#6570b0" d="M437.1 226.4h4.4v3.8h-4.4zM344.4 308.6h4.4v3.8h-4.4zM348.6 315.8h4.4v3.8h-4.4zM340.2 319.4h4.4v3.8h-4.4zM340.2 333.7h4.4v3.8h-4.4z"/></g>
<rect x="336.5" y="196.8" width="28.3" height="8" fill="#fff" stroke="#4f9a48" stroke-width="1.2"/>
<rect x="365" y="196.8" width="130.7" height="8" fill="#fff" stroke="#d83038" stroke-width="1.2"/>
<rect x="336.3" y="206.4" width="28.5" height="9.2" fill="#8cc884"/>
<rect x="365.9" y="206.8" width="129.8" height="8.5" fill="#e8727a" stroke="#c8343c" stroke-width="0.9"/>
<rect x="386.9" y="206.9" width="4.0" height="8.299999999999983" fill="#6cc07c" stroke="#5a3030" stroke-width="0.7"/>
<rect x="404.0" y="206.9" width="4.0" height="8.299999999999983" fill="#6cc07c" stroke="#5a3030" stroke-width="0.7"/>
<rect x="417.6" y="206.9" width="4.0" height="8.299999999999983" fill="#6cc07c" stroke="#5a3030" stroke-width="0.7"/>
<rect x="455.0" y="206.9" width="4.0" height="8.299999999999983" fill="#6cc07c" stroke="#5a3030" stroke-width="0.7"/>
<rect x="468.0" y="206.9" width="4.0" height="8.299999999999983" fill="#6cc07c" stroke="#5a3030" stroke-width="0.7"/>
<line x1="294.6" y1="205.7" x2="496" y2="205.7" stroke="#111" stroke-width="1.4"/>
<line x1="365" y1="194.6" x2="365" y2="340.8" stroke="#111" stroke-width="1.6"/>
<text transform="translate(508,308.7) rotate(90)" font-size="6.6" font-weight="bold" fill="#222">35 Genes</text>
<path d="M502.3 324 V350.4 H480.6" fill="none" stroke="#444" stroke-width="0.8"/><circle cx="502.3" cy="324" r="0.9" fill="#333"/><circle cx="480.6" cy="350.4" r="0.9" fill="#333"/>
<text x="473.8" y="359.6" font-size="6.1" font-weight="bold" font-style="normal" fill="#222" text-anchor="start" >38 Samples</text>
<path d="M311.5 255.4V326.3M311.5 255.4H312.5M312.5 234.5V276.3M312.5 234.5H315.9M315.9 221.1V247.9M315.9 221.1H318.4M318.4 217.5V224.7M318.4 217.5H336.0M318.4 224.7H321.4M321.4 221.1V228.4M321.4 221.1H336.0M321.4 228.4H323.2M323.2 224.6V232.2M323.2 224.6H336.0M323.2 232.2H326.5M326.5 228.2V236.3M326.5 228.2H336.0M326.5 236.3H327.4M327.4 233.6V238.9M327.4 233.6H329.3M329.3 231.8V235.4M329.3 231.8H336.0M329.3 235.4H336.0M327.4 238.9H336.0M315.9 247.9H316.9M316.9 244.3V251.4M316.9 244.3H317.9M317.9 242.5V246.1M317.9 242.5H336.0M317.9 246.1H336.0M316.9 251.4H320.3M320.3 249.7V253.2M320.3 249.7H336.0M320.3 253.2H336.0M312.5 276.3H314.9M314.9 264.2V288.5M314.9 264.2H315.8M315.8 258.6V269.8M315.8 258.6H316.7M316.7 256.8V260.4M316.7 256.8H336.0M316.7 260.4H336.0M315.8 269.8H317.4M317.4 265.7V273.8M317.4 265.7H319.6M319.6 263.9V267.5M319.6 263.9H336.0M319.6 267.5H336.0M317.4 273.8H319.7M319.7 271.1V276.5M319.7 271.1H336.0M319.7 276.5H320.8M320.8 274.7V278.2M320.8 274.7H336.0M320.8 278.2H336.0M314.9 288.5H316.7M316.7 284.5V292.5M316.7 284.5H319.4M319.4 281.8V287.2M319.4 281.8H336.0M319.4 287.2H321.9M321.9 285.4V289.0M321.9 285.4H336.0M321.9 289.0H336.0M316.7 292.5H336.0M311.5 326.3H312.0M312.0 315.4V337.2M312.0 315.4H314.6M314.6 305.7V325.2M314.6 305.7H317.0M317.0 299.2V312.2M317.0 299.2H319.1M319.1 296.1V302.4M319.1 296.1H336.0M319.1 302.4H322.5M322.5 299.7V305.0M322.5 299.7H336.0M322.5 305.0H323.7M323.7 303.3V306.8M323.7 303.3H336.0M323.7 306.8H336.0M317.0 312.2H319.6M319.6 310.4V314.0M319.6 310.4H336.0M319.6 314.0H336.0M314.6 325.2H317.8M317.8 320.2V330.1M317.8 320.2H320.6M320.6 317.6V322.9M320.6 317.6H336.0M320.6 322.9H322.0M322.0 321.1V324.7M322.0 321.1H336.0M322.0 324.7H336.0M317.8 330.1H319.3M319.3 328.3V331.9M319.3 328.3H336.0M319.3 331.9H336.0M312.0 337.2H313.5M313.5 335.4V339.0M313.5 335.4H336.0M313.5 339.0H336.0" fill="none" stroke="#939393" stroke-width="0.65"/>
<rect x="308.1" y="256" width="1.1" height="17" fill="#777"/>
</svg>
</body></html>
